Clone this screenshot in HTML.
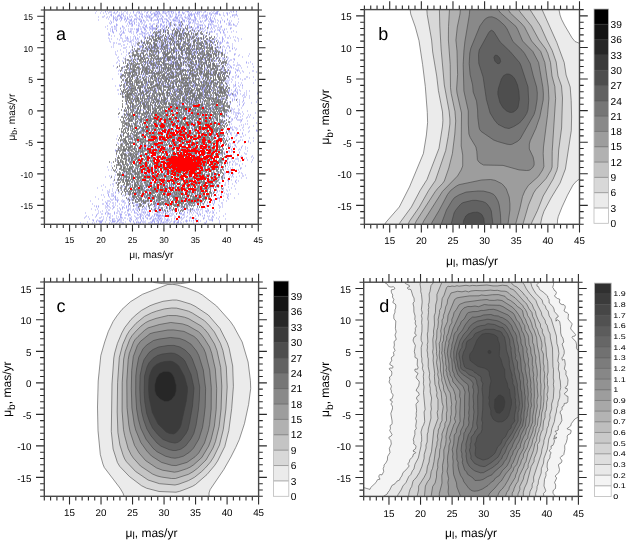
<!DOCTYPE html>
<html><head><meta charset="utf-8"><title>Proper motion distributions</title>
<style>html,body{margin:0;padding:0;background:#fff;}svg{display:block;}text{font-family:"Liberation Sans",Arial,sans-serif;fill:#000;text-rendering:geometricPrecision;}</style>
</head><body>
<svg width="626" height="541" viewBox="0 0 626 541">
<rect width="626" height="541" fill="#fff"/>
<filter id="soft" x="0" y="0" width="1" height="1"><feGaussianBlur stdDeviation="0.35"/></filter>
<g filter="url(#soft)">
<path d="M96 11h1m4 0h1m3 0h1m1 0h1m9 0h1m6 0h1m0 0h1m7 0h1m4 0h1m6 0h1m2 0h1m2 0h1m4 0h1m1 0h1m3 0h1m0 0h1m0 0h1m0 0h1m2 0h1m0 0h1m0 0h1m0 0h1m0 0h1m6 0h1m5 0h1m0 0h1m0 0h1m0 0h1m1 0h1m1 0h1m7 0h1m4 0h1m5 0h1m1 0h1m0 0h1m2 0h1m0 0h1m11 0h1m2 0h1m2 0h1m-132 1h1m3 0h1m0 0h1m0 0h1m2 0h1m2 0h1m3 0h1m5 0h1m5 0h1m3 0h1m1 0h1m1 0h1m2 0h1m2 0h1m2 0h1m4 0h1m0 0h1m0 0h1m0 0h1m0 0h1m3 0h1m3 0h1m0 0h1m2 0h1m1 0h1m1 0h1m2 0h1m0 0h1m2 0h1m4 0h1m0 0h1m6 0h1m1 0h1m0 0h1m0 0h1m1 0h1m2 0h1m0 0h1m10 0h1m0 0h1m13 0h1m1 0h1m2 0h1m-142 1h1m4 0h1m2 0h1m4 0h1m4 0h1m0 0h1m1 0h1m2 0h1m3 0h1m2 0h1m3 0h1m2 0h1m2 0h1m1 0h1m0 0h1m6 0h1m0 0h1m2 0h1m2 0h1m0 0h1m2 0h1m1 0h1m2 0h1m0 0h1m0 0h1m0 0h1m0 0h1m2 0h1m1 0h1m1 0h1m4 0h1m0 0h1m2 0h1m0 0h1m0 0h1m4 0h1m1 0h1m3 0h1m1 0h1m1 0h1m3 0h1m3 0h1m1 0h1m0 0h1m1 0h1m0 0h1m1 0h1m0 0h1m0 0h1m5 0h1m2 0h1m0 0h1m1 0h1m-124 1h1m4 0h1m3 0h1m5 0h1m0 0h1m4 0h1m12 0h1m0 0h1m0 0h1m8 0h1m0 0h1m1 0h1m0 0h1m0 0h1m0 0h1m0 0h1m0 0h1m0 0h1m4 0h1m2 0h1m3 0h1m2 0h1m0 0h1m6 0h1m4 0h1m1 0h1m0 0h1m1 0h1m0 0h1m1 0h1m0 0h1m0 0h1m10 0h1m1 0h1m2 0h1m0 0h1m0 0h1m0 0h1m1 0h1m7 0h1m8 0h1m-127 1h1m0 0h1m6 0h1m0 0h1m1 0h1m1 0h1m5 0h1m4 0h1m0 0h1m0 0h1m5 0h1m3 0h1m1 0h1m2 0h1m2 0h1m0 0h1m0 0h1m4 0h1m4 0h1m2 0h1m0 0h1m5 0h1m1 0h1m0 0h1m0 0h1m0 0h1m3 0h1m2 0h1m0 0h1m0 0h1m0 0h1m0 0h1m1 0h1m4 0h1m2 0h1m0 0h1m1 0h1m0 0h1m0 0h1m2 0h1m0 0h1m7 0h1m0 0h1m2 0h1m3 0h1m4 0h1m0 0h1m0 0h1m0 0h1m0 0h1m-133 1h1m6 0h1m1 0h1m3 0h1m0 0h1m0 0h1m0 0h1m2 0h1m1 0h1m5 0h1m3 0h1m3 0h1m1 0h1m2 0h1m1 0h1m0 0h1m1 0h1m0 0h1m3 0h1m0 0h1m1 0h1m0 0h1m1 0h1m1 0h1m3 0h1m0 0h1m2 0h1m1 0h1m2 0h1m2 0h1m2 0h1m6 0h1m0 0h1m1 0h1m2 0h1m2 0h1m3 0h1m0 0h1m1 0h1m0 0h1m0 0h1m6 0h1m1 0h1m8 0h1m7 0h1m4 0h1m-140 1h1m3 0h1m0 0h1m3 0h1m1 0h1m3 0h1m1 0h1m1 0h1m2 0h1m0 0h1m2 0h1m2 0h1m1 0h1m0 0h1m1 0h1m3 0h1m2 0h1m1 0h1m0 0h1m2 0h1m1 0h1m0 0h1m0 0h1m3 0h1m2 0h1m1 0h1m3 0h1m0 0h1m5 0h1m0 0h1m0 0h1m3 0h1m0 0h1m0 0h1m2 0h1m3 0h1m0 0h1m1 0h1m1 0h1m4 0h1m0 0h1m3 0h1m3 0h1m1 0h1m0 0h1m1 0h1m1 0h1m19 0h1m3 0h1m-129 1h1m6 0h1m0 0h1m1 0h1m3 0h1m0 0h1m0 0h1m2 0h1m1 0h1m9 0h1m4 0h1m3 0h1m2 0h1m0 0h1m0 0h1m0 0h1m4 0h1m3 0h1m6 0h1m5 0h1m0 0h1m0 0h1m0 0h1m1 0h1m1 0h1m0 0h1m2 0h1m0 0h1m1 0h1m1 0h1m3 0h1m0 0h1m4 0h1m1 0h1m1 0h1m1 0h1m3 0h1m1 0h1m1 0h1m6 0h1m-114 1h1m4 0h1m1 0h1m1 0h1m1 0h1m1 0h1m2 0h1m0 0h1m1 0h1m0 0h1m2 0h1m2 0h1m0 0h1m0 0h1m1 0h1m0 0h1m0 0h1m10 0h1m5 0h1m1 0h1m0 0h1m0 0h1m0 0h1m1 0h1m0 0h1m0 0h1m2 0h1m3 0h1m2 0h1m0 0h1m4 0h1m4 0h1m0 0h1m0 0h1m0 0h1m4 0h1m0 0h1m2 0h1m6 0h1m0 0h1m1 0h1m0 0h1m3 0h1m12 0h1m10 0h1m-141 1h1m14 0h1m1 0h1m0 0h1m0 0h1m3 0h1m2 0h1m1 0h1m2 0h1m0 0h1m0 0h1m2 0h1m1 0h1m2 0h1m1 0h1m1 0h1m2 0h1m0 0h1m2 0h1m0 0h1m2 0h1m0 0h1m0 0h1m0 0h1m0 0h1m3 0h1m3 0h1m0 0h1m2 0h1m1 0h1m0 0h1m0 0h1m0 0h1m2 0h1m0 0h1m2 0h1m0 0h1m0 0h1m4 0h1m1 0h1m0 0h1m0 0h1m0 0h1m0 0h1m9 0h1m0 0h1m3 0h1m0 0h1m3 0h1m1 0h1m4 0h1m4 0h1m-118 1h1m5 0h1m3 0h1m5 0h1m3 0h1m0 0h1m1 0h1m6 0h1m0 0h1m1 0h1m0 0h1m3 0h1m2 0h1m1 0h1m4 0h1m1 0h1m1 0h1m4 0h1m0 0h1m4 0h1m0 0h1m0 0h1m0 0h1m0 0h1m1 0h1m3 0h1m0 0h1m1 0h1m1 0h1m4 0h1m1 0h1m1 0h1m2 0h1m1 0h1m1 0h1m0 0h1m2 0h1m1 0h1m0 0h1m0 0h1m0 0h1m4 0h1m1 0h1m3 0h1m4 0h1m1 0h1m-121 1h1m1 0h1m11 0h1m2 0h1m0 0h1m2 0h1m1 0h1m1 0h1m3 0h1m0 0h1m3 0h1m12 0h1m3 0h1m0 0h1m0 0h1m1 0h1m1 0h1m2 0h1m6 0h1m0 0h1m0 0h1m0 0h1m0 0h1m1 0h1m3 0h1m0 0h1m0 0h1m2 0h1m0 0h1m3 0h1m1 0h1m0 0h1m7 0h1m1 0h1m0 0h1m0 0h1m1 0h1m4 0h1m3 0h1m13 0h1m-130 1h1m1 0h1m17 0h1m1 0h1m2 0h1m3 0h1m3 0h1m1 0h1m12 0h1m0 0h1m4 0h1m2 0h1m2 0h1m1 0h1m2 0h1m3 0h1m0 0h1m0 0h1m8 0h1m0 0h1m1 0h1m2 0h1m7 0h1m7 0h1m5 0h1m2 0h1m7 0h1m0 0h1m0 0h1m-121 1h1m5 0h1m10 0h1m1 0h1m0 0h1m0 0h1m0 0h1m1 0h1m4 0h1m1 0h1m7 0h1m0 0h1m2 0h1m0 0h1m1 0h1m3 0h1m0 0h1m6 0h1m0 0h1m3 0h1m1 0h1m4 0h1m0 0h1m0 0h1m5 0h1m0 0h1m4 0h1m1 0h1m0 0h1m0 0h1m9 0h1m0 0h1m0 0h1m1 0h1m13 0h1m2 0h1m3 0h1m3 0h1m-122 1h1m0 0h1m14 0h1m3 0h1m1 0h1m4 0h1m0 0h1m1 0h1m5 0h1m4 0h1m2 0h1m0 0h1m2 0h1m1 0h1m2 0h1m1 0h1m2 0h1m0 0h1m0 0h1m1 0h1m1 0h1m1 0h1m0 0h1m2 0h1m1 0h1m10 0h1m0 0h1m0 0h1m0 0h1m1 0h1m3 0h1m1 0h1m0 0h1m1 0h1m4 0h1m9 0h1m0 0h1m0 0h1m0 0h1m1 0h1m0 0h1m-128 1h1m6 0h1m1 0h1m5 0h1m3 0h1m1 0h1m2 0h1m0 0h1m5 0h1m0 0h1m5 0h1m0 0h1m3 0h1m0 0h1m0 0h1m5 0h1m1 0h1m1 0h1m0 0h1m0 0h1m2 0h1m1 0h1m0 0h1m1 0h1m2 0h1m3 0h1m0 0h1m0 0h1m3 0h1m3 0h1m4 0h1m2 0h1m0 0h1m1 0h1m1 0h1m2 0h1m2 0h1m5 0h1m0 0h1m0 0h1m4 0h1m13 0h1m0 0h1m-132 1h1m5 0h1m0 0h1m1 0h1m0 0h1m6 0h1m0 0h1m16 0h1m1 0h1m0 0h1m1 0h1m0 0h1m2 0h1m1 0h1m0 0h1m3 0h1m0 0h1m0 0h1m1 0h1m2 0h1m2 0h1m2 0h1m0 0h1m6 0h1m0 0h1m1 0h1m4 0h1m1 0h1m1 0h1m0 0h1m0 0h1m5 0h1m0 0h1m6 0h1m2 0h1m2 0h1m1 0h1m4 0h1m1 0h1m0 0h1m-106 1h1m3 0h1m3 0h1m13 0h1m4 0h1m0 0h1m2 0h1m1 0h1m0 0h1m1 0h1m0 0h1m0 0h1m0 0h1m1 0h1m4 0h1m1 0h1m0 0h1m0 0h1m6 0h1m0 0h1m1 0h1m1 0h1m0 0h1m1 0h1m0 0h1m2 0h1m2 0h1m0 0h1m0 0h1m1 0h1m0 0h1m1 0h1m0 0h1m0 0h1m0 0h1m3 0h1m1 0h1m3 0h1m2 0h1m2 0h1m2 0h1m1 0h1m10 0h1m0 0h1m-125 1h1m2 0h1m1 0h1m1 0h1m0 0h1m4 0h1m2 0h1m4 0h1m1 0h1m0 0h1m0 0h1m1 0h1m1 0h1m0 0h1m0 0h1m1 0h1m0 0h1m2 0h1m0 0h1m4 0h1m0 0h1m0 0h1m0 0h1m0 0h1m0 0h1m5 0h1m0 0h1m1 0h1m5 0h1m6 0h1m0 0h1m0 0h1m4 0h1m2 0h1m4 0h1m2 0h1m4 0h1m0 0h1m0 0h1m0 0h1m6 0h1m1 0h1m7 0h1m3 0h1m1 0h1m3 0h1m-119 1h1m3 0h1m8 0h1m10 0h1m0 0h1m0 0h1m5 0h1m0 0h1m3 0h1m2 0h1m2 0h1m2 0h1m0 0h1m3 0h1m0 0h1m0 0h1m0 0h1m4 0h1m1 0h1m0 0h1m3 0h1m1 0h1m1 0h1m1 0h1m6 0h1m1 0h1m0 0h1m2 0h1m1 0h1m0 0h1m4 0h1m1 0h1m7 0h1m1 0h1m0 0h1m0 0h1m2 0h1m1 0h1m-115 1h1m1 0h1m3 0h1m4 0h1m1 0h1m4 0h1m1 0h1m0 0h1m5 0h1m0 0h1m2 0h1m4 0h1m5 0h1m4 0h1m0 0h1m1 0h1m0 0h1m2 0h1m0 0h1m6 0h1m2 0h1m0 0h1m0 0h1m1 0h1m3 0h1m0 0h1m1 0h1m2 0h1m3 0h1m2 0h1m1 0h1m0 0h1m2 0h1m1 0h1m6 0h1m2 0h1m4 0h1m3 0h1m9 0h1m-122 1h1m0 0h1m6 0h1m2 0h1m5 0h1m0 0h1m2 0h1m2 0h1m0 0h1m3 0h1m0 0h1m2 0h1m4 0h1m4 0h1m2 0h1m0 0h1m3 0h1m0 0h1m2 0h1m0 0h1m5 0h1m0 0h1m2 0h1m1 0h1m1 0h1m0 0h1m5 0h1m1 0h1m2 0h1m0 0h1m7 0h1m3 0h1m1 0h1m0 0h1m0 0h1m0 0h1m1 0h1m5 0h1m2 0h1m3 0h1m3 0h1m4 0h1m-129 1h1m4 0h1m8 0h1m0 0h1m0 0h1m6 0h1m4 0h1m5 0h1m0 0h1m0 0h1m2 0h1m0 0h1m1 0h1m7 0h1m1 0h1m1 0h1m2 0h1m1 0h1m0 0h1m3 0h1m1 0h1m2 0h1m1 0h1m2 0h1m0 0h1m1 0h1m6 0h1m0 0h1m4 0h1m8 0h1m1 0h1m10 0h1m2 0h1m0 0h1m-116 1h1m9 0h1m1 0h1m11 0h1m5 0h1m0 0h1m0 0h1m2 0h1m0 0h1m0 0h1m5 0h1m1 0h1m0 0h1m3 0h1m8 0h1m1 0h1m0 0h1m0 0h1m0 0h1m3 0h1m1 0h1m0 0h1m0 0h1m0 0h1m0 0h1m0 0h1m0 0h1m10 0h1m3 0h1m0 0h1m0 0h1m13 0h1m0 0h1m-110 1h1m0 0h1m10 0h1m0 0h1m15 0h1m4 0h1m5 0h1m0 0h1m2 0h1m2 0h1m0 0h1m0 0h1m1 0h1m1 0h1m1 0h1m3 0h1m1 0h1m1 0h1m1 0h1m2 0h1m1 0h1m4 0h1m4 0h1m2 0h1m2 0h1m3 0h1m4 0h1m0 0h1m3 0h1m15 0h1m0 0h1m-115 1h1m2 0h1m5 0h1m4 0h1m8 0h1m7 0h1m1 0h1m0 0h1m3 0h1m0 0h1m0 0h1m0 0h1m0 0h1m1 0h1m1 0h1m0 0h1m0 0h1m0 0h1m2 0h1m1 0h1m2 0h1m0 0h1m1 0h1m0 0h1m0 0h1m2 0h1m0 0h1m0 0h1m0 0h1m0 0h1m0 0h1m0 0h1m0 0h1m2 0h1m3 0h1m1 0h1m2 0h1m0 0h1m0 0h1m7 0h1m0 0h1m4 0h1m5 0h1m11 0h1m-103 1h1m2 0h1m2 0h1m1 0h1m3 0h1m3 0h1m0 0h1m2 0h1m6 0h1m0 0h1m3 0h1m2 0h1m1 0h1m2 0h1m0 0h1m4 0h1m1 0h1m0 0h1m3 0h1m0 0h1m9 0h1m1 0h1m3 0h1m11 0h1m4 0h1m7 0h1m2 0h1m7 0h1m1 0h1m-128 1h1m11 0h1m0 0h1m3 0h1m0 0h1m0 0h1m7 0h1m1 0h1m6 0h1m3 0h1m2 0h1m0 0h1m6 0h1m1 0h1m0 0h1m1 0h1m1 0h1m0 0h1m2 0h1m0 0h1m1 0h1m0 0h1m1 0h1m1 0h1m1 0h1m0 0h1m4 0h1m3 0h1m0 0h1m4 0h1m2 0h1m3 0h1m0 0h1m4 0h1m6 0h1m2 0h1m2 0h1m4 0h1m0 0h1m1 0h1m6 0h1m-129 1h1m1 0h1m5 0h1m4 0h1m4 0h1m0 0h1m1 0h1m2 0h1m1 0h1m1 0h1m0 0h1m5 0h1m4 0h1m6 0h1m1 0h1m1 0h1m5 0h1m0 0h1m0 0h1m0 0h1m0 0h1m2 0h1m0 0h1m0 0h1m0 0h1m1 0h1m1 0h1m2 0h1m0 0h1m2 0h1m0 0h1m3 0h1m0 0h1m1 0h1m1 0h1m0 0h1m0 0h1m2 0h1m4 0h1m6 0h1m0 0h1m6 0h1m0 0h1m14 0h1m2 0h1m-123 1h1m6 0h1m5 0h1m3 0h1m4 0h1m2 0h1m1 0h1m2 0h1m1 0h1m1 0h1m0 0h1m1 0h1m2 0h1m0 0h1m2 0h1m3 0h1m2 0h1m0 0h1m8 0h1m1 0h1m6 0h1m0 0h1m5 0h1m3 0h1m2 0h1m2 0h1m0 0h1m0 0h1m2 0h1m0 0h1m1 0h1m2 0h1m4 0h1m11 0h1m-126 1h1m12 0h1m1 0h1m0 0h1m1 0h1m0 0h1m1 0h1m0 0h1m1 0h1m4 0h1m1 0h1m6 0h1m3 0h1m2 0h1m1 0h1m1 0h1m4 0h1m0 0h1m3 0h1m0 0h1m0 0h1m3 0h1m0 0h1m0 0h1m0 0h1m2 0h1m2 0h1m1 0h1m6 0h1m2 0h1m0 0h1m3 0h1m3 0h1m0 0h1m2 0h1m0 0h1m0 0h1m0 0h1m2 0h1m3 0h1m3 0h1m1 0h1m10 0h1m2 0h1m-129 1h1m12 0h1m5 0h1m0 0h1m4 0h1m1 0h1m4 0h1m4 0h1m5 0h1m1 0h1m1 0h1m1 0h1m0 0h1m4 0h1m0 0h1m1 0h1m1 0h1m1 0h1m1 0h1m0 0h1m1 0h1m0 0h1m0 0h1m0 0h1m3 0h1m0 0h1m5 0h1m1 0h1m0 0h1m9 0h1m0 0h1m1 0h1m1 0h1m2 0h1m0 0h1m4 0h1m1 0h1m1 0h1m4 0h1m-115 1h1m0 0h1m1 0h1m14 0h1m4 0h1m4 0h1m0 0h1m0 0h1m3 0h1m5 0h1m3 0h1m1 0h1m1 0h1m1 0h1m0 0h1m4 0h1m0 0h1m1 0h1m0 0h1m0 0h1m0 0h1m9 0h1m0 0h1m0 0h1m0 0h1m0 0h1m3 0h1m2 0h1m3 0h1m0 0h1m0 0h1m1 0h1m2 0h1m2 0h1m2 0h1m3 0h1m1 0h1m0 0h1m0 0h1m4 0h1m0 0h1m0 0h1m-111 1h1m0 0h1m0 0h1m6 0h1m5 0h1m1 0h1m7 0h1m0 0h1m0 0h1m1 0h1m2 0h1m2 0h1m2 0h1m1 0h1m1 0h1m2 0h1m1 0h1m1 0h1m2 0h1m2 0h1m2 0h1m0 0h1m1 0h1m2 0h1m0 0h1m0 0h1m3 0h1m2 0h1m1 0h1m3 0h1m2 0h1m0 0h1m1 0h1m9 0h1m3 0h1m2 0h1m11 0h1m-120 1h1m9 0h1m0 0h1m6 0h1m5 0h1m7 0h1m1 0h1m2 0h1m2 0h1m0 0h1m2 0h1m1 0h1m3 0h1m0 0h1m0 0h1m0 0h1m0 0h1m0 0h1m0 0h1m1 0h1m0 0h1m0 0h1m2 0h1m1 0h1m0 0h1m4 0h1m3 0h1m1 0h1m4 0h1m0 0h1m2 0h1m0 0h1m0 0h1m2 0h1m1 0h1m1 0h1m1 0h1m0 0h1m2 0h1m2 0h1m1 0h1m-99 1h1m10 0h1m1 0h1m0 0h1m3 0h1m0 0h1m0 0h1m0 0h1m0 0h1m4 0h1m3 0h1m1 0h1m0 0h1m1 0h1m1 0h1m0 0h1m2 0h1m2 0h1m0 0h1m0 0h1m5 0h1m4 0h1m0 0h1m2 0h1m4 0h1m1 0h1m0 0h1m0 0h1m0 0h1m4 0h1m3 0h1m1 0h1m5 0h1m12 0h1m3 0h1m0 0h1m3 0h1m-122 1h1m1 0h1m12 0h1m2 0h1m9 0h1m0 0h1m0 0h1m0 0h1m4 0h1m1 0h1m0 0h1m0 0h1m0 0h1m0 0h1m0 0h1m2 0h1m0 0h1m0 0h1m0 0h1m0 0h1m0 0h1m1 0h1m0 0h1m9 0h1m0 0h1m1 0h1m0 0h1m0 0h1m0 0h1m1 0h1m6 0h1m1 0h1m3 0h1m2 0h1m4 0h1m0 0h1m3 0h1m2 0h1m3 0h1m1 0h1m3 0h1m1 0h1m4 0h1m-107 1h1m0 0h1m0 0h1m6 0h1m4 0h1m2 0h1m4 0h1m2 0h1m2 0h1m0 0h1m0 0h1m0 0h1m0 0h1m0 0h1m0 0h1m4 0h1m0 0h1m3 0h1m0 0h1m0 0h1m3 0h1m1 0h1m2 0h1m0 0h1m0 0h1m6 0h1m1 0h1m0 0h1m0 0h1m5 0h1m2 0h1m0 0h1m3 0h1m0 0h1m7 0h1m1 0h1m1 0h1m0 0h1m0 0h1m5 0h1m2 0h1m2 0h1m1 0h1m-92 1h1m0 0h1m0 0h1m0 0h1m0 0h1m0 0h1m0 0h1m0 0h1m1 0h1m0 0h1m1 0h1m2 0h1m0 0h1m1 0h1m0 0h1m1 0h1m2 0h1m0 0h1m0 0h1m0 0h1m0 0h1m1 0h1m0 0h1m0 0h1m0 0h1m2 0h1m0 0h1m4 0h1m0 0h1m5 0h1m1 0h1m0 0h1m5 0h1m2 0h1m7 0h1m9 0h1m9 0h1m3 0h1m-117 1h1m5 0h1m4 0h1m4 0h1m4 0h1m6 0h1m2 0h1m2 0h1m0 0h1m5 0h1m4 0h1m4 0h1m1 0h1m1 0h1m0 0h1m0 0h1m0 0h1m1 0h1m0 0h1m0 0h1m0 0h1m0 0h1m1 0h1m1 0h1m0 0h1m0 0h1m1 0h1m0 0h1m1 0h1m0 0h1m1 0h1m0 0h1m1 0h1m0 0h1m1 0h1m10 0h1m0 0h1m1 0h1m3 0h1m2 0h1m9 0h1m-119 1h1m12 0h1m2 0h1m0 0h1m0 0h1m1 0h1m0 0h1m0 0h1m0 0h1m1 0h1m0 0h1m0 0h1m1 0h1m6 0h1m2 0h1m1 0h1m2 0h1m1 0h1m0 0h1m0 0h1m0 0h1m2 0h1m0 0h1m3 0h1m0 0h1m0 0h1m0 0h1m1 0h1m2 0h1m2 0h1m0 0h1m1 0h1m1 0h1m0 0h1m0 0h1m0 0h1m0 0h1m1 0h1m1 0h1m4 0h1m0 0h1m5 0h1m0 0h1m2 0h1m0 0h1m3 0h1m2 0h1m2 0h1m3 0h1m0 0h1m-116 1h1m7 0h1m2 0h1m3 0h1m1 0h1m11 0h1m8 0h1m0 0h1m1 0h1m0 0h1m0 0h1m0 0h1m0 0h1m4 0h1m2 0h1m5 0h1m0 0h1m0 0h1m1 0h1m3 0h1m0 0h1m0 0h1m0 0h1m3 0h1m1 0h1m2 0h1m0 0h1m0 0h1m0 0h1m2 0h1m0 0h1m0 0h1m1 0h1m5 0h1m3 0h1m0 0h1m0 0h1m0 0h1m2 0h1m1 0h1m-95 1h1m2 0h1m10 0h1m3 0h1m0 0h1m3 0h1m2 0h1m1 0h1m2 0h1m2 0h1m0 0h1m1 0h1m6 0h1m7 0h1m1 0h1m2 0h1m0 0h1m0 0h1m0 0h1m0 0h1m2 0h1m1 0h1m1 0h1m2 0h1m2 0h1m4 0h1m4 0h1m2 0h1m4 0h1m0 0h1m3 0h1m1 0h1m-113 1h1m5 0h1m6 0h1m4 0h1m5 0h1m2 0h1m7 0h1m5 0h1m6 0h1m0 0h1m1 0h1m5 0h1m3 0h1m0 0h1m0 0h1m2 0h1m3 0h1m0 0h1m1 0h1m3 0h1m2 0h1m0 0h1m1 0h1m2 0h1m0 0h1m1 0h1m1 0h1m3 0h1m0 0h1m6 0h1m0 0h1m4 0h1m9 0h1m0 0h1m13 0h1m-134 1h1m9 0h1m9 0h1m0 0h1m11 0h1m1 0h1m0 0h1m0 0h1m3 0h1m4 0h1m0 0h1m0 0h1m6 0h1m3 0h1m3 0h1m2 0h1m0 0h1m0 0h1m2 0h1m1 0h1m2 0h1m0 0h1m9 0h1m0 0h1m1 0h1m0 0h1m1 0h1m0 0h1m6 0h1m5 0h1m10 0h1m4 0h1m-110 1h1m0 0h1m9 0h1m1 0h1m3 0h1m0 0h1m4 0h1m3 0h1m5 0h1m0 0h1m2 0h1m5 0h1m0 0h1m1 0h1m2 0h1m0 0h1m1 0h1m3 0h1m4 0h1m3 0h1m1 0h1m2 0h1m0 0h1m4 0h1m0 0h1m2 0h1m0 0h1m1 0h1m24 0h1m9 0h1m-131 1h1m6 0h1m3 0h1m4 0h1m0 0h1m1 0h1m3 0h1m1 0h1m1 0h1m2 0h1m7 0h1m4 0h1m5 0h1m0 0h1m0 0h1m0 0h1m0 0h1m3 0h1m2 0h1m0 0h1m0 0h1m1 0h1m2 0h1m0 0h1m1 0h1m2 0h1m4 0h1m3 0h1m4 0h1m10 0h1m1 0h1m8 0h1m14 0h1m-126 1h1m5 0h1m7 0h1m0 0h1m5 0h1m3 0h1m1 0h1m4 0h1m3 0h1m0 0h1m0 0h1m3 0h1m1 0h1m0 0h1m1 0h1m0 0h1m0 0h1m1 0h1m2 0h1m1 0h1m1 0h1m1 0h1m0 0h1m2 0h1m1 0h1m0 0h1m4 0h1m0 0h1m2 0h1m0 0h1m3 0h1m0 0h1m0 0h1m5 0h1m1 0h1m2 0h1m1 0h1m2 0h1m0 0h1m1 0h1m0 0h1m1 0h1m0 0h1m0 0h1m3 0h1m-105 1h1m5 0h1m1 0h1m2 0h1m0 0h1m0 0h1m0 0h1m3 0h1m0 0h1m7 0h1m4 0h1m1 0h1m4 0h1m0 0h1m0 0h1m0 0h1m0 0h1m0 0h1m1 0h1m3 0h1m0 0h1m0 0h1m7 0h1m3 0h1m0 0h1m0 0h1m2 0h1m0 0h1m0 0h1m1 0h1m0 0h1m0 0h1m2 0h1m0 0h1m0 0h1m3 0h1m1 0h1m5 0h1m1 0h1m4 0h1m1 0h1m1 0h1m5 0h1m0 0h1m-117 1h1m7 0h1m12 0h1m3 0h1m1 0h1m2 0h1m4 0h1m0 0h1m2 0h1m0 0h1m0 0h1m0 0h1m0 0h1m1 0h1m0 0h1m1 0h1m0 0h1m0 0h1m0 0h1m1 0h1m1 0h1m0 0h1m0 0h1m2 0h1m0 0h1m0 0h1m5 0h1m0 0h1m2 0h1m8 0h1m0 0h1m0 0h1m1 0h1m0 0h1m5 0h1m2 0h1m1 0h1m6 0h1m4 0h1m2 0h1m0 0h1m2 0h1m-116 1h1m2 0h1m5 0h1m2 0h1m0 0h1m0 0h1m2 0h1m0 0h1m5 0h1m1 0h1m2 0h1m0 0h1m1 0h1m0 0h1m6 0h1m0 0h1m3 0h1m1 0h1m1 0h1m1 0h1m0 0h1m5 0h1m2 0h1m1 0h1m0 0h1m6 0h1m0 0h1m3 0h1m0 0h1m2 0h1m0 0h1m4 0h1m0 0h1m1 0h1m0 0h1m3 0h1m1 0h1m0 0h1m1 0h1m7 0h1m2 0h1m-113 1h1m5 0h1m1 0h1m6 0h1m4 0h1m6 0h1m0 0h1m0 0h1m0 0h1m2 0h1m0 0h1m0 0h1m2 0h1m3 0h1m4 0h1m3 0h1m2 0h1m2 0h1m1 0h1m2 0h1m4 0h1m0 0h1m1 0h1m1 0h1m0 0h1m1 0h1m2 0h1m0 0h1m1 0h1m0 0h1m1 0h1m2 0h1m0 0h1m4 0h1m8 0h1m0 0h1m2 0h1m0 0h1m3 0h1m4 0h1m12 0h1m3 0h1m-135 1h1m11 0h1m4 0h1m9 0h1m1 0h1m0 0h1m1 0h1m0 0h1m5 0h1m3 0h1m2 0h1m0 0h1m0 0h1m0 0h1m3 0h1m0 0h1m0 0h1m2 0h1m0 0h1m0 0h1m0 0h1m0 0h1m1 0h1m0 0h1m0 0h1m0 0h1m0 0h1m0 0h1m3 0h1m0 0h1m0 0h1m0 0h1m2 0h1m2 0h1m2 0h1m1 0h1m0 0h1m0 0h1m6 0h1m24 0h1m8 0h1m1 0h1m-130 1h1m7 0h1m1 0h1m1 0h1m2 0h1m8 0h1m1 0h1m1 0h1m0 0h1m1 0h1m1 0h1m0 0h1m0 0h1m0 0h1m0 0h1m2 0h1m3 0h1m0 0h1m1 0h1m1 0h1m1 0h1m0 0h1m0 0h1m0 0h1m0 0h1m0 0h1m0 0h1m0 0h1m0 0h1m2 0h1m1 0h1m2 0h1m1 0h1m1 0h1m0 0h1m1 0h1m0 0h1m0 0h1m0 0h1m1 0h1m3 0h1m2 0h1m0 0h1m5 0h1m1 0h1m2 0h1m0 0h1m4 0h1m0 0h1m2 0h1m0 0h1m23 0h1m-123 1h1m0 0h1m6 0h1m2 0h1m5 0h1m2 0h1m0 0h1m1 0h1m2 0h1m1 0h1m2 0h1m0 0h1m1 0h1m4 0h1m0 0h1m1 0h1m0 0h1m1 0h1m2 0h1m2 0h1m0 0h1m5 0h1m2 0h1m1 0h1m2 0h1m0 0h1m0 0h1m0 0h1m1 0h1m4 0h1m0 0h1m0 0h1m0 0h1m10 0h1m6 0h1m1 0h1m3 0h1m0 0h1m2 0h1m0 0h1m0 0h1m18 0h1m-146 1h1m11 0h1m3 0h1m0 0h1m2 0h1m5 0h1m3 0h1m1 0h1m1 0h1m0 0h1m0 0h1m0 0h1m3 0h1m1 0h1m0 0h1m0 0h1m1 0h1m3 0h1m10 0h1m0 0h1m0 0h1m0 0h1m8 0h1m0 0h1m0 0h1m2 0h1m1 0h1m2 0h1m0 0h1m1 0h1m5 0h1m1 0h1m5 0h1m2 0h1m4 0h1m0 0h1m2 0h1m3 0h1m5 0h1m3 0h1m-124 1h1m4 0h1m0 0h1m2 0h1m6 0h1m0 0h1m0 0h1m3 0h1m12 0h1m0 0h1m2 0h1m1 0h1m0 0h1m0 0h1m0 0h1m2 0h1m0 0h1m0 0h1m4 0h1m1 0h1m1 0h1m0 0h1m0 0h1m0 0h1m0 0h1m0 0h1m4 0h1m2 0h1m0 0h1m1 0h1m1 0h1m1 0h1m0 0h1m2 0h1m2 0h1m1 0h1m3 0h1m1 0h1m1 0h1m2 0h1m0 0h1m1 0h1m2 0h1m1 0h1m4 0h1m1 0h1m0 0h1m15 0h1m5 0h1m-138 1h1m12 0h1m8 0h1m2 0h1m0 0h1m0 0h1m0 0h1m2 0h1m0 0h1m0 0h1m0 0h1m0 0h1m0 0h1m0 0h1m0 0h1m0 0h1m0 0h1m2 0h1m1 0h1m2 0h1m2 0h1m7 0h1m0 0h1m2 0h1m0 0h1m0 0h1m1 0h1m2 0h1m4 0h1m3 0h1m0 0h1m0 0h1m2 0h1m4 0h1m0 0h1m2 0h1m6 0h1m3 0h1m1 0h1m0 0h1m3 0h1m1 0h1m1 0h1m1 0h1m4 0h1m2 0h1m-120 1h1m6 0h1m1 0h1m1 0h1m0 0h1m12 0h1m0 0h1m3 0h1m5 0h1m0 0h1m1 0h1m0 0h1m0 0h1m1 0h1m1 0h1m1 0h1m0 0h1m1 0h1m1 0h1m1 0h1m0 0h1m1 0h1m0 0h1m0 0h1m1 0h1m4 0h1m0 0h1m2 0h1m0 0h1m0 0h1m0 0h1m0 0h1m0 0h1m2 0h1m3 0h1m0 0h1m1 0h1m2 0h1m6 0h1m3 0h1m0 0h1m12 0h1m-117 1h1m4 0h1m3 0h1m2 0h1m1 0h1m0 0h1m2 0h1m5 0h1m1 0h1m0 0h1m2 0h1m5 0h1m1 0h1m2 0h1m0 0h1m1 0h1m2 0h1m0 0h1m8 0h1m1 0h1m0 0h1m1 0h1m0 0h1m1 0h1m0 0h1m2 0h1m0 0h1m6 0h1m1 0h1m3 0h1m2 0h1m0 0h1m1 0h1m2 0h1m2 0h1m0 0h1m1 0h1m0 0h1m1 0h1m2 0h1m0 0h1m2 0h1m8 0h1m0 0h1m0 0h1m-121 1h1m1 0h1m1 0h1m7 0h1m1 0h1m1 0h1m4 0h1m1 0h1m2 0h1m2 0h1m0 0h1m6 0h1m2 0h1m0 0h1m2 0h1m0 0h1m0 0h1m5 0h1m0 0h1m0 0h1m0 0h1m1 0h1m4 0h1m3 0h1m2 0h1m0 0h1m3 0h1m6 0h1m0 0h1m0 0h1m1 0h1m4 0h1m0 0h1m1 0h1m1 0h1m2 0h1m4 0h1m1 0h1m1 0h1m1 0h1m1 0h1m0 0h1m6 0h1m1 0h1m2 0h1m9 0h1m0 0h1m-124 1h1m1 0h1m1 0h1m1 0h1m2 0h1m1 0h1m1 0h1m0 0h1m3 0h1m0 0h1m3 0h1m0 0h1m1 0h1m0 0h1m0 0h1m6 0h1m0 0h1m4 0h1m0 0h1m1 0h1m2 0h1m4 0h1m4 0h1m0 0h1m1 0h1m0 0h1m1 0h1m0 0h1m8 0h1m3 0h1m1 0h1m0 0h1m1 0h1m1 0h1m0 0h1m6 0h1m1 0h1m1 0h1m0 0h1m2 0h1m4 0h1m7 0h1m12 0h1m1 0h1m-131 1h1m0 0h1m7 0h1m1 0h1m4 0h1m0 0h1m0 0h1m0 0h1m0 0h1m3 0h1m0 0h1m0 0h1m1 0h1m0 0h1m1 0h1m1 0h1m0 0h1m3 0h1m1 0h1m1 0h1m0 0h1m3 0h1m5 0h1m3 0h1m1 0h1m2 0h1m0 0h1m1 0h1m1 0h1m0 0h1m0 0h1m0 0h1m3 0h1m3 0h1m3 0h1m0 0h1m2 0h1m1 0h1m2 0h1m1 0h1m2 0h1m0 0h1m4 0h1m4 0h1m4 0h1m8 0h1m-132 1h1m1 0h1m0 0h1m10 0h1m0 0h1m0 0h1m8 0h1m3 0h1m0 0h1m2 0h1m0 0h1m0 0h1m1 0h1m8 0h1m1 0h1m1 0h1m2 0h1m3 0h1m2 0h1m0 0h1m0 0h1m0 0h1m0 0h1m0 0h1m5 0h1m0 0h1m0 0h1m2 0h1m5 0h1m1 0h1m8 0h1m0 0h1m3 0h1m2 0h1m2 0h1m0 0h1m0 0h1m0 0h1m-105 1h1m3 0h1m3 0h1m3 0h1m2 0h1m3 0h1m1 0h1m0 0h1m0 0h1m7 0h1m10 0h1m5 0h1m1 0h1m2 0h1m0 0h1m2 0h1m0 0h1m1 0h1m2 0h1m0 0h1m2 0h1m0 0h1m0 0h1m2 0h1m2 0h1m3 0h1m3 0h1m0 0h1m1 0h1m3 0h1m0 0h1m4 0h1m0 0h1m0 0h1m0 0h1m8 0h1m6 0h1m-117 1h1m2 0h1m4 0h1m1 0h1m0 0h1m2 0h1m2 0h1m0 0h1m3 0h1m2 0h1m2 0h1m0 0h1m0 0h1m3 0h1m0 0h1m6 0h1m0 0h1m2 0h1m0 0h1m0 0h1m1 0h1m2 0h1m6 0h1m0 0h1m6 0h1m0 0h1m2 0h1m0 0h1m4 0h1m1 0h1m0 0h1m6 0h1m1 0h1m1 0h1m14 0h1m0 0h1m6 0h1m2 0h1m-111 1h1m7 0h1m3 0h1m1 0h1m2 0h1m1 0h1m4 0h1m1 0h1m0 0h1m2 0h1m0 0h1m1 0h1m1 0h1m0 0h1m0 0h1m3 0h1m1 0h1m6 0h1m2 0h1m11 0h1m0 0h1m0 0h1m0 0h1m4 0h1m0 0h1m2 0h1m1 0h1m1 0h1m0 0h1m4 0h1m2 0h1m5 0h1m3 0h1m3 0h1m0 0h1m3 0h1m0 0h1m7 0h1m0 0h1m5 0h1m-134 1h1m3 0h1m9 0h1m0 0h1m0 0h1m13 0h1m0 0h1m5 0h1m4 0h1m2 0h1m2 0h1m1 0h1m1 0h1m0 0h1m2 0h1m2 0h1m6 0h1m2 0h1m1 0h1m3 0h1m2 0h1m2 0h1m1 0h1m2 0h1m8 0h1m7 0h1m2 0h1m1 0h1m0 0h1m5 0h1m13 0h1m-138 1h1m10 0h1m2 0h1m10 0h1m1 0h1m0 0h1m0 0h1m2 0h1m4 0h1m2 0h1m0 0h1m2 0h1m0 0h1m0 0h1m0 0h1m1 0h1m3 0h1m0 0h1m0 0h1m0 0h1m0 0h1m2 0h1m2 0h1m1 0h1m3 0h1m6 0h1m10 0h1m0 0h1m4 0h1m7 0h1m4 0h1m12 0h1m8 0h1m3 0h1m0 0h1m-120 1h1m2 0h1m5 0h1m7 0h1m6 0h1m6 0h1m3 0h1m2 0h1m0 0h1m2 0h1m2 0h1m1 0h1m0 0h1m4 0h1m0 0h1m3 0h1m3 0h1m1 0h1m1 0h1m3 0h1m6 0h1m0 0h1m0 0h1m0 0h1m3 0h1m11 0h1m4 0h1m1 0h1m2 0h1m9 0h1m12 0h1m-133 1h1m6 0h1m0 0h1m10 0h1m1 0h1m1 0h1m2 0h1m7 0h1m4 0h1m1 0h1m0 0h1m4 0h1m2 0h1m0 0h1m3 0h1m1 0h1m1 0h1m1 0h1m0 0h1m2 0h1m4 0h1m5 0h1m0 0h1m3 0h1m3 0h1m1 0h1m6 0h1m4 0h1m1 0h1m0 0h1m0 0h1m1 0h1m-104 1h1m4 0h1m14 0h1m1 0h1m1 0h1m2 0h1m2 0h1m2 0h1m0 0h1m0 0h1m0 0h1m6 0h1m1 0h1m4 0h1m1 0h1m1 0h1m2 0h1m7 0h1m2 0h1m0 0h1m0 0h1m5 0h1m0 0h1m0 0h1m1 0h1m1 0h1m1 0h1m0 0h1m4 0h1m1 0h1m0 0h1m8 0h1m3 0h1m3 0h1m-112 1h1m0 0h1m2 0h1m10 0h1m1 0h1m0 0h1m4 0h1m1 0h1m1 0h1m5 0h1m0 0h1m1 0h1m1 0h1m1 0h1m0 0h1m1 0h1m4 0h1m0 0h1m0 0h1m0 0h1m3 0h1m1 0h1m2 0h1m1 0h1m0 0h1m0 0h1m3 0h1m0 0h1m1 0h1m6 0h1m0 0h1m1 0h1m0 0h1m2 0h1m0 0h1m1 0h1m0 0h1m2 0h1m0 0h1m4 0h1m3 0h1m1 0h1m9 0h1m2 0h1m11 0h1m-125 1h1m0 0h1m0 0h1m1 0h1m8 0h1m0 0h1m2 0h1m0 0h1m2 0h1m0 0h1m1 0h1m1 0h1m2 0h1m0 0h1m1 0h1m1 0h1m1 0h1m1 0h1m1 0h1m2 0h1m2 0h1m0 0h1m1 0h1m3 0h1m1 0h1m0 0h1m0 0h1m0 0h1m1 0h1m4 0h1m0 0h1m0 0h1m2 0h1m3 0h1m2 0h1m1 0h1m0 0h1m0 0h1m0 0h1m4 0h1m0 0h1m3 0h1m0 0h1m3 0h1m0 0h1m7 0h1m-117 1h1m6 0h1m3 0h1m6 0h1m0 0h1m7 0h1m4 0h1m0 0h1m3 0h1m1 0h1m0 0h1m2 0h1m0 0h1m1 0h1m0 0h1m1 0h1m0 0h1m2 0h1m10 0h1m5 0h1m2 0h1m0 0h1m0 0h1m2 0h1m0 0h1m4 0h1m1 0h1m7 0h1m7 0h1m4 0h1m2 0h1m3 0h1m1 0h1m4 0h1m1 0h1m-128 1h1m3 0h1m3 0h1m1 0h1m3 0h1m10 0h1m1 0h1m0 0h1m0 0h1m1 0h1m15 0h1m0 0h1m1 0h1m1 0h1m1 0h1m0 0h1m0 0h1m3 0h1m0 0h1m1 0h1m1 0h1m1 0h1m2 0h1m1 0h1m4 0h1m0 0h1m0 0h1m0 0h1m0 0h1m4 0h1m0 0h1m2 0h1m0 0h1m1 0h1m1 0h1m0 0h1m1 0h1m2 0h1m7 0h1m9 0h1m0 0h1m2 0h1m3 0h1m-118 1h1m2 0h1m1 0h1m0 0h1m9 0h1m0 0h1m0 0h1m0 0h1m2 0h1m3 0h1m1 0h1m5 0h1m0 0h1m6 0h1m0 0h1m1 0h1m2 0h1m3 0h1m0 0h1m1 0h1m0 0h1m1 0h1m4 0h1m0 0h1m0 0h1m2 0h1m0 0h1m5 0h1m0 0h1m2 0h1m3 0h1m0 0h1m1 0h1m1 0h1m3 0h1m7 0h1m0 0h1m6 0h1m5 0h1m-112 1h1m1 0h1m3 0h1m2 0h1m1 0h1m2 0h1m1 0h1m0 0h1m1 0h1m2 0h1m4 0h1m0 0h1m0 0h1m5 0h1m2 0h1m0 0h1m0 0h1m3 0h1m1 0h1m5 0h1m0 0h1m0 0h1m3 0h1m1 0h1m1 0h1m4 0h1m4 0h1m0 0h1m1 0h1m0 0h1m0 0h1m1 0h1m2 0h1m6 0h1m0 0h1m0 0h1m0 0h1m4 0h1m0 0h1m9 0h1m5 0h1m-117 1h1m3 0h1m3 0h1m9 0h1m1 0h1m2 0h1m3 0h1m0 0h1m0 0h1m2 0h1m1 0h1m7 0h1m0 0h1m1 0h1m0 0h1m2 0h1m0 0h1m0 0h1m1 0h1m1 0h1m2 0h1m0 0h1m2 0h1m0 0h1m0 0h1m5 0h1m0 0h1m0 0h1m1 0h1m0 0h1m1 0h1m0 0h1m0 0h1m1 0h1m0 0h1m6 0h1m5 0h1m0 0h1m4 0h1m1 0h1m5 0h1m-119 1h1m0 0h1m8 0h1m8 0h1m0 0h1m5 0h1m2 0h1m0 0h1m8 0h1m0 0h1m5 0h1m5 0h1m3 0h1m1 0h1m0 0h1m0 0h1m0 0h1m2 0h1m2 0h1m1 0h1m1 0h1m7 0h1m5 0h1m0 0h1m4 0h1m0 0h1m1 0h1m0 0h1m3 0h1m4 0h1m0 0h1m6 0h1m1 0h1m3 0h1m1 0h1m1 0h1m-117 1h1m4 0h1m1 0h1m2 0h1m3 0h1m1 0h1m0 0h1m1 0h1m1 0h1m1 0h1m0 0h1m2 0h1m1 0h1m0 0h1m2 0h1m5 0h1m7 0h1m3 0h1m0 0h1m0 0h1m0 0h1m0 0h1m3 0h1m2 0h1m1 0h1m0 0h1m0 0h1m0 0h1m0 0h1m0 0h1m1 0h1m2 0h1m1 0h1m2 0h1m0 0h1m1 0h1m5 0h1m0 0h1m0 0h1m3 0h1m3 0h1m6 0h1m0 0h1m4 0h1m0 0h1m4 0h1m5 0h1m2 0h1m-129 1h1m3 0h1m2 0h1m2 0h1m9 0h1m2 0h1m0 0h1m0 0h1m3 0h1m2 0h1m2 0h1m5 0h1m6 0h1m0 0h1m1 0h1m0 0h1m0 0h1m0 0h1m2 0h1m0 0h1m0 0h1m7 0h1m0 0h1m1 0h1m5 0h1m2 0h1m2 0h1m0 0h1m2 0h1m0 0h1m1 0h1m7 0h1m1 0h1m2 0h1m0 0h1m1 0h1m1 0h1m4 0h1m2 0h1m0 0h1m-103 1h1m0 0h1m2 0h1m1 0h1m1 0h1m5 0h1m2 0h1m1 0h1m0 0h1m3 0h1m5 0h1m2 0h1m0 0h1m0 0h1m3 0h1m1 0h1m6 0h1m3 0h1m0 0h1m1 0h1m0 0h1m0 0h1m0 0h1m2 0h1m2 0h1m3 0h1m2 0h1m0 0h1m6 0h1m1 0h1m1 0h1m0 0h1m8 0h1m2 0h1m5 0h1m6 0h1m1 0h1m10 0h1m-140 1h1m2 0h1m1 0h1m5 0h1m2 0h1m2 0h1m1 0h1m3 0h1m1 0h1m1 0h1m0 0h1m1 0h1m3 0h1m0 0h1m8 0h1m6 0h1m0 0h1m0 0h1m4 0h1m3 0h1m0 0h1m2 0h1m0 0h1m0 0h1m0 0h1m0 0h1m3 0h1m0 0h1m0 0h1m5 0h1m2 0h1m3 0h1m7 0h1m6 0h1m2 0h1m0 0h1m1 0h1m1 0h1m0 0h1m1 0h1m1 0h1m1 0h1m2 0h1m16 0h1m-126 1h1m6 0h1m1 0h1m0 0h1m10 0h1m2 0h1m0 0h1m0 0h1m5 0h1m3 0h1m3 0h1m2 0h1m0 0h1m0 0h1m1 0h1m1 0h1m0 0h1m2 0h1m0 0h1m1 0h1m1 0h1m4 0h1m0 0h1m2 0h1m0 0h1m0 0h1m0 0h1m0 0h1m1 0h1m0 0h1m0 0h1m0 0h1m0 0h1m3 0h1m3 0h1m0 0h1m8 0h1m0 0h1m0 0h1m0 0h1m1 0h1m0 0h1m0 0h1m0 0h1m7 0h1m0 0h1m1 0h1m-119 1h1m4 0h1m2 0h1m3 0h1m1 0h1m5 0h1m1 0h1m1 0h1m1 0h1m9 0h1m4 0h1m1 0h1m0 0h1m5 0h1m1 0h1m1 0h1m2 0h1m0 0h1m8 0h1m2 0h1m2 0h1m0 0h1m1 0h1m0 0h1m3 0h1m2 0h1m8 0h1m5 0h1m1 0h1m3 0h1m1 0h1m0 0h1m5 0h1m6 0h1m-126 1h1m4 0h1m3 0h1m0 0h1m0 0h1m1 0h1m4 0h1m5 0h1m10 0h1m2 0h1m0 0h1m0 0h1m1 0h1m0 0h1m3 0h1m2 0h1m2 0h1m0 0h1m0 0h1m3 0h1m0 0h1m0 0h1m0 0h1m2 0h1m3 0h1m0 0h1m4 0h1m0 0h1m3 0h1m0 0h1m1 0h1m0 0h1m2 0h1m5 0h1m4 0h1m0 0h1m2 0h1m0 0h1m6 0h1m9 0h1m0 0h1m-121 1h1m1 0h1m6 0h1m3 0h1m3 0h1m5 0h1m0 0h1m0 0h1m0 0h1m6 0h1m0 0h1m1 0h1m5 0h1m2 0h1m2 0h1m0 0h1m0 0h1m1 0h1m0 0h1m1 0h1m2 0h1m0 0h1m0 0h1m4 0h1m2 0h1m0 0h1m1 0h1m0 0h1m0 0h1m0 0h1m0 0h1m1 0h1m0 0h1m0 0h1m5 0h1m4 0h1m1 0h1m3 0h1m2 0h1m0 0h1m0 0h1m3 0h1m12 0h1m5 0h1m-116 1h1m2 0h1m1 0h1m2 0h1m1 0h1m2 0h1m0 0h1m3 0h1m0 0h1m0 0h1m0 0h1m0 0h1m0 0h1m1 0h1m7 0h1m5 0h1m1 0h1m2 0h1m0 0h1m4 0h1m0 0h1m1 0h1m0 0h1m1 0h1m0 0h1m0 0h1m4 0h1m0 0h1m0 0h1m0 0h1m2 0h1m5 0h1m0 0h1m4 0h1m0 0h1m0 0h1m2 0h1m0 0h1m1 0h1m0 0h1m7 0h1m1 0h1m2 0h1m-108 1h1m3 0h1m0 0h1m11 0h1m0 0h1m5 0h1m1 0h1m1 0h1m0 0h1m2 0h1m0 0h1m1 0h1m1 0h1m2 0h1m1 0h1m2 0h1m4 0h1m3 0h1m4 0h1m0 0h1m0 0h1m1 0h1m1 0h1m0 0h1m22 0h1m1 0h1m10 0h1m1 0h1m1 0h1m2 0h1m3 0h1m13 0h1m-131 1h1m4 0h1m10 0h1m0 0h1m0 0h1m5 0h1m6 0h1m1 0h1m2 0h1m0 0h1m0 0h1m0 0h1m1 0h1m0 0h1m2 0h1m0 0h1m0 0h1m3 0h1m3 0h1m0 0h1m1 0h1m0 0h1m1 0h1m0 0h1m3 0h1m0 0h1m0 0h1m0 0h1m1 0h1m0 0h1m2 0h1m0 0h1m0 0h1m6 0h1m0 0h1m1 0h1m2 0h1m0 0h1m3 0h1m4 0h1m4 0h1m10 0h1m-112 1h1m3 0h1m4 0h1m6 0h1m1 0h1m3 0h1m0 0h1m7 0h1m1 0h1m7 0h1m0 0h1m1 0h1m0 0h1m0 0h1m3 0h1m0 0h1m0 0h1m1 0h1m0 0h1m0 0h1m1 0h1m0 0h1m0 0h1m0 0h1m0 0h1m0 0h1m1 0h1m0 0h1m1 0h1m0 0h1m10 0h1m0 0h1m0 0h1m0 0h1m2 0h1m2 0h1m3 0h1m3 0h1m7 0h1m1 0h1m2 0h1m13 0h1m-130 1h1m13 0h1m1 0h1m0 0h1m1 0h1m0 0h1m2 0h1m4 0h1m3 0h1m3 0h1m1 0h1m5 0h1m1 0h1m1 0h1m0 0h1m0 0h1m1 0h1m0 0h1m2 0h1m1 0h1m3 0h1m0 0h1m0 0h1m0 0h1m1 0h1m3 0h1m0 0h1m4 0h1m5 0h1m5 0h1m3 0h1m0 0h1m4 0h1m0 0h1m2 0h1m13 0h1m6 0h1m-127 1h1m9 0h1m2 0h1m0 0h1m2 0h1m0 0h1m1 0h1m0 0h1m7 0h1m2 0h1m1 0h1m2 0h1m1 0h1m0 0h1m5 0h1m0 0h1m2 0h1m1 0h1m0 0h1m1 0h1m0 0h1m0 0h1m1 0h1m2 0h1m0 0h1m0 0h1m3 0h1m1 0h1m7 0h1m3 0h1m0 0h1m2 0h1m0 0h1m0 0h1m0 0h1m0 0h1m3 0h1m10 0h1m8 0h1m3 0h1m-101 1h1m1 0h1m4 0h1m1 0h1m5 0h1m9 0h1m1 0h1m0 0h1m3 0h1m0 0h1m0 0h1m0 0h1m0 0h1m0 0h1m1 0h1m0 0h1m2 0h1m2 0h1m0 0h1m0 0h1m1 0h1m0 0h1m0 0h1m0 0h1m5 0h1m0 0h1m4 0h1m6 0h1m6 0h1m6 0h1m9 0h1m3 0h1m-113 1h1m1 0h1m1 0h1m1 0h1m1 0h1m4 0h1m0 0h1m1 0h1m6 0h1m4 0h1m6 0h1m4 0h1m0 0h1m0 0h1m0 0h1m1 0h1m3 0h1m0 0h1m0 0h1m1 0h1m4 0h1m0 0h1m0 0h1m0 0h1m1 0h1m3 0h1m0 0h1m0 0h1m1 0h1m2 0h1m0 0h1m1 0h1m5 0h1m3 0h1m2 0h1m0 0h1m6 0h1m7 0h1m4 0h1m-113 1h1m0 0h1m1 0h1m4 0h1m9 0h1m1 0h1m3 0h1m11 0h1m1 0h1m1 0h1m0 0h1m3 0h1m0 0h1m1 0h1m1 0h1m1 0h1m0 0h1m0 0h1m1 0h1m3 0h1m5 0h1m0 0h1m0 0h1m0 0h1m0 0h1m3 0h1m0 0h1m0 0h1m4 0h1m0 0h1m0 0h1m5 0h1m1 0h1m0 0h1m4 0h1m-100 1h1m1 0h1m7 0h1m4 0h1m2 0h1m0 0h1m2 0h1m2 0h1m1 0h1m1 0h1m6 0h1m5 0h1m0 0h1m2 0h1m0 0h1m5 0h1m6 0h1m0 0h1m3 0h1m0 0h1m0 0h1m0 0h1m3 0h1m0 0h1m0 0h1m1 0h1m3 0h1m1 0h1m0 0h1m1 0h1m0 0h1m1 0h1m2 0h1m1 0h1m9 0h1m9 0h1m-124 1h1m6 0h1m6 0h1m2 0h1m0 0h1m1 0h1m9 0h1m4 0h1m5 0h1m0 0h1m0 0h1m5 0h1m0 0h1m1 0h1m0 0h1m1 0h1m5 0h1m2 0h1m1 0h1m0 0h1m1 0h1m0 0h1m3 0h1m0 0h1m0 0h1m1 0h1m4 0h1m6 0h1m1 0h1m0 0h1m1 0h1m2 0h1m0 0h1m1 0h1m8 0h1m3 0h1m1 0h1m3 0h1m-106 1h1m0 0h1m4 0h1m1 0h1m0 0h1m0 0h1m12 0h1m3 0h1m1 0h1m5 0h1m1 0h1m0 0h1m1 0h1m1 0h1m1 0h1m1 0h1m1 0h1m2 0h1m1 0h1m0 0h1m1 0h1m1 0h1m1 0h1m8 0h1m2 0h1m2 0h1m4 0h1m2 0h1m4 0h1m2 0h1m1 0h1m3 0h1m0 0h1m1 0h1m5 0h1m-117 1h1m6 0h1m0 0h1m2 0h1m10 0h1m2 0h1m3 0h1m5 0h1m4 0h1m0 0h1m3 0h1m0 0h1m3 0h1m1 0h1m3 0h1m4 0h1m0 0h1m0 0h1m0 0h1m4 0h1m1 0h1m5 0h1m1 0h1m0 0h1m0 0h1m0 0h1m2 0h1m0 0h1m0 0h1m1 0h1m3 0h1m2 0h1m0 0h1m5 0h1m0 0h1m3 0h1m6 0h1m8 0h1m-121 1h1m0 0h1m3 0h1m2 0h1m1 0h1m7 0h1m2 0h1m1 0h1m1 0h1m0 0h1m1 0h1m1 0h1m4 0h1m7 0h1m4 0h1m0 0h1m0 0h1m0 0h1m1 0h1m1 0h1m1 0h1m1 0h1m3 0h1m1 0h1m1 0h1m1 0h1m1 0h1m1 0h1m0 0h1m1 0h1m0 0h1m0 0h1m0 0h1m0 0h1m2 0h1m7 0h1m2 0h1m1 0h1m1 0h1m3 0h1m3 0h1m0 0h1m7 0h1m-117 1h1m10 0h1m0 0h1m4 0h1m1 0h1m1 0h1m0 0h1m0 0h1m0 0h1m6 0h1m4 0h1m0 0h1m0 0h1m1 0h1m2 0h1m0 0h1m6 0h1m1 0h1m3 0h1m2 0h1m0 0h1m1 0h1m5 0h1m1 0h1m1 0h1m1 0h1m1 0h1m2 0h1m6 0h1m5 0h1m0 0h1m3 0h1m2 0h1m3 0h1m3 0h1m0 0h1m0 0h1m0 0h1m0 0h1m15 0h1m-133 1h1m2 0h1m11 0h1m3 0h1m2 0h1m4 0h1m0 0h1m3 0h1m2 0h1m6 0h1m0 0h1m7 0h1m4 0h1m3 0h1m1 0h1m0 0h1m0 0h1m0 0h1m0 0h1m0 0h1m2 0h1m0 0h1m0 0h1m3 0h1m2 0h1m0 0h1m3 0h1m1 0h1m1 0h1m1 0h1m0 0h1m3 0h1m6 0h1m0 0h1m6 0h1m4 0h1m1 0h1m2 0h1m-118 1h1m1 0h1m8 0h1m10 0h1m0 0h1m4 0h1m5 0h1m2 0h1m3 0h1m9 0h1m3 0h1m0 0h1m0 0h1m1 0h1m3 0h1m1 0h1m2 0h1m1 0h1m1 0h1m1 0h1m0 0h1m2 0h1m0 0h1m3 0h1m1 0h1m3 0h1m8 0h1m1 0h1m8 0h1m0 0h1m11 0h1m1 0h1m-129 1h1m4 0h1m8 0h1m1 0h1m0 0h1m5 0h1m1 0h1m2 0h1m8 0h1m6 0h1m0 0h1m1 0h1m11 0h1m6 0h1m0 0h1m1 0h1m1 0h1m1 0h1m0 0h1m0 0h1m6 0h1m1 0h1m1 0h1m0 0h1m3 0h1m1 0h1m3 0h1m4 0h1m1 0h1m0 0h1m0 0h1m8 0h1m4 0h1m-125 1h1m19 0h1m0 0h1m1 0h1m2 0h1m1 0h1m0 0h1m0 0h1m1 0h1m1 0h1m5 0h1m2 0h1m0 0h1m0 0h1m2 0h1m5 0h1m1 0h1m1 0h1m0 0h1m0 0h1m0 0h1m1 0h1m0 0h1m0 0h1m3 0h1m2 0h1m0 0h1m0 0h1m0 0h1m0 0h1m2 0h1m1 0h1m3 0h1m2 0h1m2 0h1m3 0h1m1 0h1m6 0h1m0 0h1m4 0h1m1 0h1m4 0h1m1 0h1m2 0h1m6 0h1m1 0h1m-121 1h1m4 0h1m6 0h1m1 0h1m2 0h1m2 0h1m1 0h1m1 0h1m5 0h1m0 0h1m2 0h1m0 0h1m6 0h1m4 0h1m0 0h1m0 0h1m1 0h1m2 0h1m0 0h1m1 0h1m1 0h1m1 0h1m0 0h1m1 0h1m2 0h1m2 0h1m0 0h1m1 0h1m0 0h1m0 0h1m0 0h1m3 0h1m1 0h1m5 0h1m4 0h1m1 0h1m9 0h1m1 0h1m9 0h1m6 0h1m-129 1h1m3 0h1m9 0h1m4 0h1m7 0h1m7 0h1m5 0h1m0 0h1m1 0h1m1 0h1m1 0h1m0 0h1m1 0h1m1 0h1m0 0h1m2 0h1m3 0h1m2 0h1m8 0h1m0 0h1m5 0h1m3 0h1m0 0h1m1 0h1m0 0h1m0 0h1m1 0h1m14 0h1m0 0h1m3 0h1m5 0h1m-112 1h1m0 0h1m1 0h1m11 0h1m4 0h1m2 0h1m1 0h1m3 0h1m1 0h1m1 0h1m0 0h1m0 0h1m2 0h1m0 0h1m2 0h1m0 0h1m0 0h1m3 0h1m2 0h1m1 0h1m0 0h1m2 0h1m0 0h1m1 0h1m0 0h1m0 0h1m1 0h1m0 0h1m1 0h1m0 0h1m0 0h1m5 0h1m0 0h1m0 0h1m2 0h1m1 0h1m1 0h1m3 0h1m1 0h1m0 0h1m3 0h1m1 0h1m3 0h1m4 0h1m0 0h1m0 0h1m0 0h1m0 0h1m-117 1h1m2 0h1m2 0h1m0 0h1m2 0h1m2 0h1m0 0h1m0 0h1m1 0h1m5 0h1m0 0h1m0 0h1m0 0h1m3 0h1m0 0h1m2 0h1m1 0h1m3 0h1m0 0h1m1 0h1m7 0h1m3 0h1m3 0h1m7 0h1m1 0h1m1 0h1m6 0h1m0 0h1m4 0h1m4 0h1m4 0h1m1 0h1m1 0h1m0 0h1m0 0h1m5 0h1m9 0h1m5 0h1m-119 1h1m5 0h1m18 0h1m4 0h1m4 0h1m1 0h1m0 0h1m0 0h1m0 0h1m0 0h1m0 0h1m1 0h1m4 0h1m0 0h1m5 0h1m2 0h1m3 0h1m0 0h1m4 0h1m1 0h1m0 0h1m0 0h1m4 0h1m2 0h1m0 0h1m8 0h1m0 0h1m2 0h1m4 0h1m0 0h1m9 0h1m-104 1h1m5 0h1m1 0h1m0 0h1m3 0h1m1 0h1m4 0h1m2 0h1m0 0h1m1 0h1m1 0h1m9 0h1m0 0h1m2 0h1m8 0h1m1 0h1m0 0h1m0 0h1m1 0h1m0 0h1m0 0h1m0 0h1m0 0h1m1 0h1m3 0h1m0 0h1m2 0h1m6 0h1m1 0h1m3 0h1m1 0h1m32 0h1m-132 1h1m6 0h1m0 0h1m0 0h1m2 0h1m1 0h1m0 0h1m3 0h1m6 0h1m5 0h1m1 0h1m6 0h1m0 0h1m4 0h1m1 0h1m2 0h1m0 0h1m0 0h1m0 0h1m8 0h1m1 0h1m1 0h1m1 0h1m2 0h1m2 0h1m0 0h1m0 0h1m2 0h1m10 0h1m2 0h1m0 0h1m0 0h1m1 0h1m0 0h1m3 0h1m1 0h1m13 0h1m1 0h1m-113 1h1m12 0h1m7 0h1m1 0h1m2 0h1m1 0h1m0 0h1m6 0h1m6 0h1m0 0h1m0 0h1m3 0h1m2 0h1m0 0h1m0 0h1m0 0h1m0 0h1m0 0h1m2 0h1m1 0h1m4 0h1m0 0h1m2 0h1m1 0h1m0 0h1m6 0h1m2 0h1m9 0h1m11 0h1m1 0h1m-118 1h1m1 0h1m2 0h1m4 0h1m3 0h1m5 0h1m0 0h1m0 0h1m5 0h1m7 0h1m3 0h1m2 0h1m6 0h1m0 0h1m2 0h1m0 0h1m0 0h1m0 0h1m7 0h1m0 0h1m1 0h1m1 0h1m0 0h1m3 0h1m5 0h1m1 0h1m0 0h1m0 0h1m27 0h1m13 0h1m-127 1h1m11 0h1m0 0h1m1 0h1m0 0h1m4 0h1m0 0h1m3 0h1m13 0h1m0 0h1m16 0h1m2 0h1m0 0h1m2 0h1m5 0h1m1 0h1m1 0h1m0 0h1m1 0h1m0 0h1m0 0h1m4 0h1m0 0h1m4 0h1m2 0h1m2 0h1m1 0h1m3 0h1m1 0h1m1 0h1m8 0h1m5 0h1m-119 1h1m0 0h1m3 0h1m1 0h1m0 0h1m10 0h1m0 0h1m0 0h1m1 0h1m3 0h1m1 0h1m0 0h1m2 0h1m3 0h1m5 0h1m1 0h1m0 0h1m0 0h1m0 0h1m7 0h1m0 0h1m0 0h1m2 0h1m3 0h1m1 0h1m0 0h1m0 0h1m0 0h1m3 0h1m3 0h1m0 0h1m8 0h1m0 0h1m7 0h1m1 0h1m0 0h1m3 0h1m0 0h1m5 0h1m5 0h1m-125 1h1m6 0h1m4 0h1m4 0h1m4 0h1m8 0h1m4 0h1m0 0h1m0 0h1m1 0h1m0 0h1m0 0h1m0 0h1m0 0h1m1 0h1m0 0h1m1 0h1m6 0h1m0 0h1m0 0h1m3 0h1m1 0h1m4 0h1m2 0h1m3 0h1m0 0h1m0 0h1m3 0h1m3 0h1m4 0h1m0 0h1m1 0h1m0 0h1m12 0h1m4 0h1m-110 1h1m7 0h1m3 0h1m0 0h1m0 0h1m1 0h1m7 0h1m5 0h1m0 0h1m1 0h1m0 0h1m0 0h1m0 0h1m1 0h1m1 0h1m1 0h1m0 0h1m0 0h1m1 0h1m0 0h1m1 0h1m3 0h1m0 0h1m1 0h1m1 0h1m0 0h1m0 0h1m3 0h1m0 0h1m0 0h1m2 0h1m1 0h1m4 0h1m10 0h1m0 0h1m1 0h1m7 0h1m2 0h1m2 0h1m0 0h1m2 0h1m3 0h1m2 0h1m12 0h1m-117 1h1m2 0h1m0 0h1m0 0h1m4 0h1m2 0h1m0 0h1m1 0h1m3 0h1m1 0h1m4 0h1m0 0h1m2 0h1m0 0h1m2 0h1m0 0h1m0 0h1m2 0h1m0 0h1m1 0h1m3 0h1m1 0h1m0 0h1m0 0h1m0 0h1m6 0h1m0 0h1m1 0h1m5 0h1m2 0h1m3 0h1m3 0h1m2 0h1m6 0h1m19 0h1m6 0h1m0 0h1m-133 1h1m8 0h1m2 0h1m1 0h1m0 0h1m2 0h1m6 0h1m0 0h1m2 0h1m0 0h1m0 0h1m0 0h1m2 0h1m2 0h1m2 0h1m1 0h1m13 0h1m2 0h1m3 0h1m5 0h1m0 0h1m2 0h1m6 0h1m9 0h1m2 0h1m8 0h1m0 0h1m18 0h1m-118 1h1m1 0h1m2 0h1m0 0h1m0 0h1m3 0h1m1 0h1m3 0h1m0 0h1m4 0h1m0 0h1m2 0h1m0 0h1m1 0h1m1 0h1m2 0h1m0 0h1m3 0h1m5 0h1m0 0h1m3 0h1m1 0h1m1 0h1m0 0h1m1 0h1m0 0h1m2 0h1m9 0h1m4 0h1m4 0h1m0 0h1m0 0h1m2 0h1m2 0h1m0 0h1m0 0h1m1 0h1m0 0h1m3 0h1m0 0h1m2 0h1m7 0h1m-122 1h1m5 0h1m11 0h1m2 0h1m3 0h1m4 0h1m0 0h1m12 0h1m1 0h1m1 0h1m2 0h1m8 0h1m1 0h1m1 0h1m0 0h1m1 0h1m2 0h1m1 0h1m2 0h1m4 0h1m0 0h1m0 0h1m2 0h1m0 0h1m0 0h1m1 0h1m4 0h1m7 0h1m3 0h1m2 0h1m5 0h1m2 0h1m2 0h1m-121 1h1m9 0h1m3 0h1m8 0h1m4 0h1m0 0h1m0 0h1m14 0h1m1 0h1m4 0h1m0 0h1m0 0h1m2 0h1m2 0h1m0 0h1m1 0h1m3 0h1m1 0h1m6 0h1m2 0h1m4 0h1m3 0h1m2 0h1m0 0h1m5 0h1m1 0h1m8 0h1m4 0h1m0 0h1m7 0h1m-129 1h1m2 0h1m7 0h1m1 0h1m0 0h1m4 0h1m2 0h1m1 0h1m5 0h1m7 0h1m0 0h1m9 0h1m2 0h1m2 0h1m10 0h1m6 0h1m0 0h1m2 0h1m3 0h1m1 0h1m1 0h1m0 0h1m7 0h1m0 0h1m0 0h1m0 0h1m0 0h1m3 0h1m0 0h1m0 0h1m0 0h1m4 0h1m7 0h1m0 0h1m6 0h1m-116 1h1m0 0h1m2 0h1m14 0h1m1 0h1m1 0h1m0 0h1m0 0h1m0 0h1m1 0h1m0 0h1m1 0h1m2 0h1m0 0h1m4 0h1m0 0h1m5 0h1m0 0h1m2 0h1m2 0h1m2 0h1m1 0h1m1 0h1m1 0h1m0 0h1m0 0h1m0 0h1m2 0h1m3 0h1m0 0h1m4 0h1m2 0h1m0 0h1m4 0h1m1 0h1m0 0h1m0 0h1m2 0h1m4 0h1m11 0h1m0 0h1m-110 1h1m7 0h1m3 0h1m12 0h1m0 0h1m2 0h1m1 0h1m0 0h1m0 0h1m2 0h1m0 0h1m4 0h1m0 0h1m0 0h1m3 0h1m1 0h1m2 0h1m1 0h1m2 0h1m0 0h1m0 0h1m2 0h1m5 0h1m3 0h1m5 0h1m1 0h1m1 0h1m5 0h1m4 0h1m7 0h1m14 0h1m3 0h1m-138 1h1m7 0h1m11 0h1m8 0h1m4 0h1m1 0h1m0 0h1m0 0h1m3 0h1m2 0h1m0 0h1m1 0h1m3 0h1m3 0h1m1 0h1m0 0h1m2 0h1m1 0h1m3 0h1m2 0h1m2 0h1m0 0h1m2 0h1m1 0h1m2 0h1m1 0h1m0 0h1m0 0h1m1 0h1m3 0h1m0 0h1m3 0h1m1 0h1m6 0h1m2 0h1m5 0h1m-105 1h1m4 0h1m14 0h1m1 0h1m2 0h1m7 0h1m0 0h1m0 0h1m0 0h1m7 0h1m3 0h1m7 0h1m11 0h1m0 0h1m2 0h1m1 0h1m1 0h1m1 0h1m0 0h1m1 0h1m7 0h1m10 0h1m2 0h1m4 0h1m3 0h1m1 0h1m-123 1h1m9 0h1m14 0h1m1 0h1m12 0h1m0 0h1m0 0h1m1 0h1m2 0h1m0 0h1m0 0h1m0 0h1m2 0h1m0 0h1m0 0h1m8 0h1m0 0h1m1 0h1m0 0h1m3 0h1m7 0h1m7 0h1m0 0h1m4 0h1m5 0h1m2 0h1m0 0h1m10 0h1m2 0h1m0 0h1m8 0h1m4 0h1m-132 1h1m3 0h1m3 0h1m0 0h1m4 0h1m4 0h1m4 0h1m3 0h1m4 0h1m0 0h1m0 0h1m3 0h1m0 0h1m1 0h1m3 0h1m0 0h1m2 0h1m0 0h1m0 0h1m0 0h1m1 0h1m0 0h1m1 0h1m0 0h1m1 0h1m3 0h1m0 0h1m3 0h1m2 0h1m0 0h1m3 0h1m1 0h1m0 0h1m1 0h1m2 0h1m0 0h1m0 0h1m8 0h1m0 0h1m2 0h1m9 0h1m4 0h1m9 0h1m-132 1h1m2 0h1m5 0h1m4 0h1m17 0h1m1 0h1m7 0h1m8 0h1m7 0h1m0 0h1m0 0h1m3 0h1m0 0h1m2 0h1m4 0h1m0 0h1m0 0h1m1 0h1m0 0h1m0 0h1m0 0h1m0 0h1m0 0h1m2 0h1m2 0h1m3 0h1m2 0h1m2 0h1m12 0h1m2 0h1m0 0h1m0 0h1m2 0h1m6 0h1m5 0h1m-133 1h1m4 0h1m3 0h1m11 0h1m1 0h1m0 0h1m2 0h1m8 0h1m1 0h1m1 0h1m4 0h1m1 0h1m5 0h1m2 0h1m0 0h1m1 0h1m4 0h1m1 0h1m2 0h1m2 0h1m3 0h1m0 0h1m0 0h1m4 0h1m4 0h1m2 0h1m0 0h1m0 0h1m5 0h1m2 0h1m2 0h1m1 0h1m2 0h1m1 0h1m-110 1h1m19 0h1m1 0h1m2 0h1m0 0h1m1 0h1m1 0h1m2 0h1m8 0h1m0 0h1m1 0h1m6 0h1m0 0h1m4 0h1m1 0h1m1 0h1m3 0h1m0 0h1m10 0h1m1 0h1m0 0h1m0 0h1m4 0h1m1 0h1m8 0h1m3 0h1m4 0h1m5 0h1m0 0h1m-107 1h1m1 0h1m6 0h1m3 0h1m3 0h1m0 0h1m1 0h1m3 0h1m0 0h1m0 0h1m0 0h1m8 0h1m6 0h1m1 0h1m2 0h1m1 0h1m3 0h1m0 0h1m4 0h1m0 0h1m0 0h1m1 0h1m1 0h1m6 0h1m5 0h1m0 0h1m2 0h1m0 0h1m1 0h1m0 0h1m6 0h1m3 0h1m1 0h1m0 0h1m4 0h1m6 0h1m-125 1h1m18 0h1m2 0h1m2 0h1m1 0h1m3 0h1m1 0h1m0 0h1m3 0h1m1 0h1m2 0h1m1 0h1m1 0h1m1 0h1m4 0h1m0 0h1m5 0h1m3 0h1m0 0h1m0 0h1m3 0h1m0 0h1m0 0h1m1 0h1m2 0h1m10 0h1m1 0h1m1 0h1m2 0h1m4 0h1m2 0h1m7 0h1m1 0h1m3 0h1m4 0h1m3 0h1m-112 1h1m3 0h1m3 0h1m0 0h1m3 0h1m3 0h1m0 0h1m0 0h1m3 0h1m2 0h1m0 0h1m1 0h1m2 0h1m0 0h1m5 0h1m7 0h1m0 0h1m1 0h1m3 0h1m3 0h1m3 0h1m1 0h1m1 0h1m1 0h1m0 0h1m3 0h1m0 0h1m4 0h1m0 0h1m1 0h1m11 0h1m5 0h1m6 0h1m5 0h1m-131 1h1m0 0h1m7 0h1m4 0h1m1 0h1m1 0h1m0 0h1m6 0h1m0 0h1m1 0h1m7 0h1m0 0h1m0 0h1m0 0h1m5 0h1m2 0h1m1 0h1m2 0h1m2 0h1m4 0h1m0 0h1m1 0h1m1 0h1m1 0h1m0 0h1m1 0h1m0 0h1m4 0h1m4 0h1m1 0h1m5 0h1m1 0h1m5 0h1m2 0h1m2 0h1m0 0h1m7 0h1m7 0h1m5 0h1m-131 1h1m2 0h1m0 0h1m15 0h1m2 0h1m1 0h1m11 0h1m2 0h1m1 0h1m0 0h1m0 0h1m18 0h1m2 0h1m1 0h1m1 0h1m11 0h1m1 0h1m1 0h1m2 0h1m5 0h1m4 0h1m3 0h1m0 0h1m0 0h1m0 0h1m8 0h1m6 0h1m1 0h1m-126 1h1m7 0h1m3 0h1m12 0h1m2 0h1m1 0h1m3 0h1m5 0h1m2 0h1m1 0h1m2 0h1m4 0h1m1 0h1m0 0h1m1 0h1m2 0h1m0 0h1m0 0h1m1 0h1m6 0h1m5 0h1m1 0h1m5 0h1m1 0h1m4 0h1m3 0h1m3 0h1m0 0h1m3 0h1m6 0h1m0 0h1m2 0h1m14 0h1m-131 1h1m7 0h1m2 0h1m11 0h1m10 0h1m1 0h1m0 0h1m1 0h1m2 0h1m0 0h1m1 0h1m4 0h1m0 0h1m0 0h1m2 0h1m9 0h1m3 0h1m0 0h1m4 0h1m2 0h1m4 0h1m7 0h1m1 0h1m1 0h1m9 0h1m1 0h1m4 0h1m1 0h1m7 0h1m-114 1h1m0 0h1m1 0h1m1 0h1m5 0h1m0 0h1m0 0h1m0 0h1m7 0h1m0 0h1m16 0h1m1 0h1m3 0h1m4 0h1m0 0h1m0 0h1m0 0h1m3 0h1m2 0h1m0 0h1m2 0h1m0 0h1m6 0h1m1 0h1m2 0h1m0 0h1m0 0h1m8 0h1m7 0h1m0 0h1m1 0h1m12 0h1m4 0h1m-122 1h1m1 0h1m4 0h1m3 0h1m1 0h1m1 0h1m4 0h1m0 0h1m0 0h1m6 0h1m13 0h1m5 0h1m2 0h1m7 0h1m8 0h1m5 0h1m8 0h1m1 0h1m1 0h1m1 0h1m7 0h1m5 0h1m5 0h1m11 0h1m0 0h1m-126 1h1m6 0h1m4 0h1m4 0h1m3 0h1m0 0h1m2 0h1m2 0h1m3 0h1m2 0h1m13 0h1m1 0h1m1 0h1m0 0h1m4 0h1m1 0h1m7 0h1m0 0h1m0 0h1m0 0h1m1 0h1m1 0h1m3 0h1m3 0h1m3 0h1m6 0h1m1 0h1m1 0h1m0 0h1m3 0h1m4 0h1m0 0h1m-116 1h1m4 0h1m7 0h1m1 0h1m13 0h1m0 0h1m1 0h1m0 0h1m0 0h1m0 0h1m1 0h1m5 0h1m3 0h1m0 0h1m0 0h1m1 0h1m0 0h1m4 0h1m4 0h1m0 0h1m0 0h1m3 0h1m1 0h1m0 0h1m4 0h1m0 0h1m0 0h1m1 0h1m1 0h1m2 0h1m6 0h1m0 0h1m0 0h1m5 0h1m0 0h1m0 0h1m10 0h1m11 0h1m10 0h1m-132 1h1m4 0h1m3 0h1m8 0h1m0 0h1m10 0h1m0 0h1m2 0h1m6 0h1m3 0h1m2 0h1m2 0h1m1 0h1m3 0h1m2 0h1m1 0h1m3 0h1m3 0h1m1 0h1m1 0h1m0 0h1m11 0h1m16 0h1m1 0h1m9 0h1m2 0h1m1 0h1m8 0h1m-133 1h1m12 0h1m1 0h1m2 0h1m8 0h1m7 0h1m0 0h1m2 0h1m3 0h1m0 0h1m1 0h1m7 0h1m0 0h1m1 0h1m4 0h1m13 0h1m0 0h1m1 0h1m0 0h1m5 0h1m2 0h1m4 0h1m14 0h1m2 0h1m14 0h1m6 0h1m-126 1h1m0 0h1m0 0h1m2 0h1m5 0h1m5 0h1m0 0h1m1 0h1m4 0h1m1 0h1m5 0h1m0 0h1m3 0h1m4 0h1m1 0h1m3 0h1m4 0h1m6 0h1m0 0h1m7 0h1m0 0h1m2 0h1m1 0h1m0 0h1m1 0h1m1 0h1m1 0h1m2 0h1m4 0h1m8 0h1m2 0h1m3 0h1m0 0h1m0 0h1m0 0h1m5 0h1m-129 1h1m9 0h1m0 0h1m0 0h1m2 0h1m0 0h1m2 0h1m2 0h1m1 0h1m0 0h1m1 0h1m7 0h1m2 0h1m1 0h1m1 0h1m2 0h1m0 0h1m3 0h1m0 0h1m2 0h1m5 0h1m0 0h1m1 0h1m16 0h1m4 0h1m1 0h1m6 0h1m4 0h1m3 0h1m3 0h1m23 0h1m4 0h1m-135 1h1m11 0h1m18 0h1m4 0h1m3 0h1m4 0h1m2 0h1m5 0h1m3 0h1m2 0h1m0 0h1m1 0h1m1 0h1m3 0h1m3 0h1m1 0h1m17 0h1m1 0h1m6 0h1m0 0h1m1 0h1m2 0h1m4 0h1m1 0h1m3 0h1m1 0h1m-119 1h1m7 0h1m0 0h1m4 0h1m1 0h1m0 0h1m10 0h1m6 0h1m1 0h1m3 0h1m1 0h1m0 0h1m0 0h1m0 0h1m9 0h1m9 0h1m11 0h1m1 0h1m4 0h1m2 0h1m0 0h1m1 0h1m1 0h1m0 0h1m1 0h1m0 0h1m9 0h1m0 0h1m2 0h1m17 0h1m-141 1h1m5 0h1m7 0h1m3 0h1m1 0h1m3 0h1m4 0h1m2 0h1m1 0h1m2 0h1m4 0h1m2 0h1m1 0h1m3 0h1m5 0h1m7 0h1m0 0h1m0 0h1m1 0h1m4 0h1m4 0h1m2 0h1m2 0h1m3 0h1m3 0h1m1 0h1m0 0h1m4 0h1m4 0h1m0 0h1m0 0h1m0 0h1m3 0h1m0 0h1m0 0h1m2 0h1m5 0h1m-116 1h1m1 0h1m6 0h1m11 0h1m1 0h1m0 0h1m2 0h1m5 0h1m1 0h1m0 0h1m0 0h1m2 0h1m0 0h1m1 0h1m2 0h1m0 0h1m2 0h1m5 0h1m0 0h1m2 0h1m0 0h1m7 0h1m4 0h1m0 0h1m3 0h1m2 0h1m8 0h1m4 0h1m15 0h1m3 0h1m0 0h1m4 0h1m-117 1h1m0 0h1m9 0h1m2 0h1m0 0h1m4 0h1m7 0h1m1 0h1m3 0h1m3 0h1m1 0h1m3 0h1m5 0h1m1 0h1m0 0h1m14 0h1m7 0h1m3 0h1m1 0h1m0 0h1m3 0h1m1 0h1m4 0h1m4 0h1m1 0h1m1 0h1m2 0h1m2 0h1m3 0h1m-129 1h1m10 0h1m4 0h1m7 0h1m12 0h1m1 0h1m0 0h1m0 0h1m6 0h1m0 0h1m0 0h1m3 0h1m0 0h1m2 0h1m2 0h1m1 0h1m4 0h1m10 0h1m5 0h1m0 0h1m4 0h1m0 0h1m5 0h1m0 0h1m0 0h1m0 0h1m4 0h1m0 0h1m2 0h1m17 0h1m5 0h1m-139 1h1m13 0h1m9 0h1m17 0h1m0 0h1m0 0h1m3 0h1m3 0h1m0 0h1m5 0h1m0 0h1m2 0h1m0 0h1m0 0h1m0 0h1m4 0h1m1 0h1m5 0h1m0 0h1m3 0h1m1 0h1m0 0h1m1 0h1m0 0h1m2 0h1m0 0h1m2 0h1m5 0h1m0 0h1m4 0h1m0 0h1m1 0h1m2 0h1m2 0h1m2 0h1m-113 1h1m6 0h1m0 0h1m8 0h1m7 0h1m2 0h1m3 0h1m0 0h1m0 0h1m0 0h1m4 0h1m1 0h1m2 0h1m1 0h1m1 0h1m5 0h1m0 0h1m2 0h1m7 0h1m0 0h1m1 0h1m6 0h1m2 0h1m0 0h1m0 0h1m2 0h1m1 0h1m0 0h1m0 0h1m2 0h1m7 0h1m0 0h1m0 0h1m1 0h1m2 0h1m6 0h1m1 0h1m7 0h1m0 0h1m-123 1h1m0 0h1m7 0h1m2 0h1m2 0h1m1 0h1m1 0h1m3 0h1m3 0h1m0 0h1m2 0h1m2 0h1m0 0h1m1 0h1m0 0h1m5 0h1m0 0h1m0 0h1m5 0h1m0 0h1m0 0h1m1 0h1m0 0h1m3 0h1m5 0h1m2 0h1m6 0h1m0 0h1m0 0h1m1 0h1m0 0h1m0 0h1m1 0h1m0 0h1m1 0h1m2 0h1m3 0h1m0 0h1m0 0h1m5 0h1m2 0h1m1 0h1m12 0h1m-133 1h1m2 0h1m5 0h1m27 0h1m8 0h1m8 0h1m0 0h1m0 0h1m5 0h1m7 0h1m0 0h1m3 0h1m2 0h1m2 0h1m9 0h1m1 0h1m3 0h1m0 0h1m3 0h1m0 0h1m1 0h1m5 0h1m2 0h1m4 0h1m1 0h1m5 0h1m1 0h1m-116 1h1m5 0h1m1 0h1m0 0h1m1 0h1m0 0h1m4 0h1m6 0h1m2 0h1m1 0h1m1 0h1m1 0h1m1 0h1m0 0h1m1 0h1m1 0h1m0 0h1m1 0h1m0 0h1m0 0h1m0 0h1m0 0h1m2 0h1m8 0h1m4 0h1m7 0h1m0 0h1m1 0h1m0 0h1m2 0h1m1 0h1m5 0h1m10 0h1m13 0h1m-121 1h1m7 0h1m1 0h1m0 0h1m0 0h1m6 0h1m0 0h1m5 0h1m0 0h1m0 0h1m3 0h1m2 0h1m0 0h1m0 0h1m3 0h1m5 0h1m3 0h1m1 0h1m0 0h1m0 0h1m0 0h1m0 0h1m6 0h1m0 0h1m0 0h1m2 0h1m4 0h1m0 0h1m14 0h1m0 0h1m7 0h1m2 0h1m0 0h1m0 0h1m4 0h1m1 0h1m0 0h1m0 0h1m0 0h1m0 0h1m0 0h1m7 0h1m-117 1h1m13 0h1m1 0h1m3 0h1m3 0h1m0 0h1m1 0h1m3 0h1m1 0h1m5 0h1m1 0h1m1 0h1m1 0h1m3 0h1m1 0h1m0 0h1m2 0h1m8 0h1m1 0h1m4 0h1m9 0h1m2 0h1m3 0h1m1 0h1m0 0h1m2 0h1m7 0h1m3 0h1m2 0h1m5 0h1m2 0h1m-120 1h1m1 0h1m0 0h1m0 0h1m4 0h1m0 0h1m0 0h1m11 0h1m0 0h1m1 0h1m2 0h1m1 0h1m1 0h1m6 0h1m2 0h1m4 0h1m3 0h1m1 0h1m1 0h1m0 0h1m3 0h1m6 0h1m0 0h1m2 0h1m1 0h1m0 0h1m7 0h1m5 0h1m0 0h1m0 0h1m3 0h1m6 0h1m3 0h1m3 0h1m0 0h1m8 0h1m-128 1h1m4 0h1m8 0h1m7 0h1m3 0h1m0 0h1m1 0h1m3 0h1m0 0h1m4 0h1m2 0h1m1 0h1m0 0h1m0 0h1m0 0h1m3 0h1m3 0h1m3 0h1m0 0h1m1 0h1m2 0h1m0 0h1m1 0h1m1 0h1m4 0h1m0 0h1m2 0h1m1 0h1m0 0h1m2 0h1m5 0h1m1 0h1m0 0h1m1 0h1m1 0h1m1 0h1m0 0h1m1 0h1m0 0h1m3 0h1m6 0h1m1 0h1m12 0h1m-137 1h1m1 0h1m12 0h1m1 0h1m0 0h1m4 0h1m6 0h1m5 0h1m1 0h1m1 0h1m1 0h1m0 0h1m2 0h1m1 0h1m1 0h1m1 0h1m1 0h1m1 0h1m1 0h1m3 0h1m2 0h1m3 0h1m2 0h1m3 0h1m3 0h1m2 0h1m2 0h1m1 0h1m0 0h1m4 0h1m5 0h1m8 0h1m0 0h1m3 0h1m0 0h1m7 0h1m6 0h1m2 0h1m0 0h1m-139 1h1m8 0h1m7 0h1m8 0h1m0 0h1m2 0h1m0 0h1m11 0h1m2 0h1m2 0h1m0 0h1m2 0h1m2 0h1m4 0h1m3 0h1m3 0h1m6 0h1m3 0h1m0 0h1m1 0h1m2 0h1m0 0h1m7 0h1m0 0h1m5 0h1m4 0h1m0 0h1m2 0h1m5 0h1m6 0h1m1 0h1m1 0h1m2 0h1m-127 1h1m9 0h1m4 0h1m2 0h1m0 0h1m14 0h1m4 0h1m0 0h1m0 0h1m2 0h1m0 0h1m7 0h1m0 0h1m2 0h1m7 0h1m3 0h1m3 0h1m2 0h1m0 0h1m3 0h1m2 0h1m1 0h1m3 0h1m4 0h1m0 0h1m11 0h1m2 0h1m1 0h1m17 0h1m4 0h1m-133 1h1m2 0h1m3 0h1m2 0h1m1 0h1m2 0h1m1 0h1m0 0h1m4 0h1m5 0h1m0 0h1m0 0h1m4 0h1m3 0h1m4 0h1m4 0h1m6 0h1m1 0h1m3 0h1m3 0h1m4 0h1m1 0h1m0 0h1m2 0h1m0 0h1m5 0h1m2 0h1m0 0h1m0 0h1m0 0h1m4 0h1m2 0h1m0 0h1m1 0h1m0 0h1m1 0h1m1 0h1m0 0h1m6 0h1m-110 1h1m2 0h1m8 0h1m0 0h1m6 0h1m1 0h1m1 0h1m1 0h1m3 0h1m1 0h1m0 0h1m12 0h1m1 0h1m0 0h1m5 0h1m1 0h1m2 0h1m1 0h1m3 0h1m3 0h1m4 0h1m7 0h1m11 0h1m11 0h1m0 0h1m2 0h1m4 0h1m-124 1h1m11 0h1m0 0h1m3 0h1m2 0h1m3 0h1m2 0h1m5 0h1m8 0h1m0 0h1m0 0h1m4 0h1m3 0h1m3 0h1m0 0h1m3 0h1m1 0h1m3 0h1m1 0h1m4 0h1m3 0h1m3 0h1m0 0h1m1 0h1m4 0h1m1 0h1m0 0h1m4 0h1m0 0h1m0 0h1m7 0h1m5 0h1m6 0h1m2 0h1m-122 1h1m5 0h1m2 0h1m0 0h1m4 0h1m7 0h1m1 0h1m0 0h1m5 0h1m0 0h1m0 0h1m0 0h1m4 0h1m5 0h1m7 0h1m4 0h1m0 0h1m2 0h1m7 0h1m0 0h1m5 0h1m1 0h1m0 0h1m4 0h1m4 0h1m1 0h1m7 0h1m9 0h1m6 0h1m-121 1h1m13 0h1m2 0h1m1 0h1m1 0h1m2 0h1m13 0h1m3 0h1m17 0h1m9 0h1m4 0h1m1 0h1m0 0h1m3 0h1m3 0h1m5 0h1m3 0h1m2 0h1m5 0h1m4 0h1m10 0h1m-125 1h1m0 0h1m4 0h1m15 0h1m3 0h1m2 0h1m3 0h1m0 0h1m1 0h1m0 0h1m20 0h1m0 0h1m2 0h1m4 0h1m11 0h1m2 0h1m3 0h1m3 0h1m1 0h1m0 0h1m3 0h1m1 0h1m0 0h1m3 0h1m11 0h1m3 0h1m-130 1h1m6 0h1m20 0h1m7 0h1m4 0h1m2 0h1m0 0h1m1 0h1m2 0h1m2 0h1m4 0h1m2 0h1m0 0h1m0 0h1m2 0h1m0 0h1m0 0h1m0 0h1m0 0h1m8 0h1m6 0h1m1 0h1m1 0h1m5 0h1m1 0h1m0 0h1m5 0h1m1 0h1m1 0h1m3 0h1m7 0h1m0 0h1m-125 1h1m11 0h1m6 0h1m1 0h1m1 0h1m2 0h1m1 0h1m4 0h1m5 0h1m0 0h1m3 0h1m0 0h1m0 0h1m4 0h1m4 0h1m3 0h1m2 0h1m0 0h1m3 0h1m0 0h1m0 0h1m1 0h1m1 0h1m0 0h1m3 0h1m2 0h1m2 0h1m1 0h1m1 0h1m0 0h1m2 0h1m0 0h1m14 0h1m3 0h1m4 0h1m1 0h1m0 0h1m11 0h1m-130 1h1m16 0h1m1 0h1m0 0h1m0 0h1m9 0h1m5 0h1m2 0h1m0 0h1m1 0h1m0 0h1m2 0h1m1 0h1m2 0h1m2 0h1m0 0h1m4 0h1m0 0h1m4 0h1m0 0h1m0 0h1m1 0h1m0 0h1m1 0h1m1 0h1m5 0h1m2 0h1m3 0h1m6 0h1m3 0h1m2 0h1m3 0h1m4 0h1m3 0h1m6 0h1m-132 1h1m31 0h1m0 0h1m3 0h1m2 0h1m4 0h1m0 0h1m1 0h1m8 0h1m0 0h1m0 0h1m1 0h1m1 0h1m4 0h1m0 0h1m0 0h1m1 0h1m0 0h1m4 0h1m3 0h1m4 0h1m0 0h1m2 0h1m5 0h1m1 0h1m5 0h1m8 0h1m4 0h1m6 0h1m7 0h1m-120 1h1m12 0h1m4 0h1m8 0h1m0 0h1m0 0h1m2 0h1m2 0h1m0 0h1m0 0h1m3 0h1m0 0h1m2 0h1m1 0h1m1 0h1m0 0h1m1 0h1m4 0h1m2 0h1m1 0h1m2 0h1m0 0h1m0 0h1m2 0h1m1 0h1m4 0h1m5 0h1m2 0h1m1 0h1m2 0h1m4 0h1m0 0h1m13 0h1m11 0h1m-134 1h1m6 0h1m6 0h1m0 0h1m2 0h1m2 0h1m3 0h1m8 0h1m2 0h1m4 0h1m5 0h1m1 0h1m2 0h1m0 0h1m6 0h1m1 0h1m9 0h1m2 0h1m12 0h1m3 0h1m0 0h1m0 0h1m2 0h1m0 0h1m0 0h1m18 0h1m4 0h1m2 0h1m-123 1h1m4 0h1m11 0h1m2 0h1m5 0h1m2 0h1m1 0h1m1 0h1m5 0h1m0 0h1m0 0h1m3 0h1m0 0h1m4 0h1m2 0h1m5 0h1m2 0h1m2 0h1m0 0h1m3 0h1m1 0h1m1 0h1m1 0h1m3 0h1m0 0h1m17 0h1m4 0h1m4 0h1m1 0h1m3 0h1m3 0h1m-120 1h1m0 0h1m5 0h1m3 0h1m7 0h1m2 0h1m4 0h1m1 0h1m1 0h1m2 0h1m3 0h1m0 0h1m2 0h1m5 0h1m0 0h1m0 0h1m1 0h1m2 0h1m0 0h1m0 0h1m1 0h1m0 0h1m2 0h1m9 0h1m6 0h1m2 0h1m2 0h1m0 0h1m2 0h1m2 0h1m11 0h1m3 0h1m3 0h1m-115 1h1m5 0h1m1 0h1m2 0h1m2 0h1m6 0h1m3 0h1m0 0h1m1 0h1m0 0h1m0 0h1m0 0h1m0 0h1m2 0h1m0 0h1m1 0h1m0 0h1m2 0h1m2 0h1m1 0h1m1 0h1m2 0h1m5 0h1m0 0h1m1 0h1m1 0h1m2 0h1m4 0h1m1 0h1m0 0h1m1 0h1m1 0h1m1 0h1m2 0h1m6 0h1m13 0h1m1 0h1m2 0h1m4 0h1m2 0h1m-117 1h1m2 0h1m0 0h1m13 0h1m0 0h1m0 0h1m2 0h1m4 0h1m0 0h1m3 0h1m6 0h1m1 0h1m0 0h1m15 0h1m4 0h1m0 0h1m5 0h1m8 0h1m2 0h1m1 0h1m0 0h1m1 0h1m1 0h1m0 0h1m3 0h1m2 0h1m5 0h1m8 0h1m4 0h1m1 0h1m1 0h1m7 0h1m-138 1h1m1 0h1m4 0h1m4 0h1m9 0h1m6 0h1m2 0h1m3 0h1m0 0h1m3 0h1m2 0h1m1 0h1m0 0h1m1 0h1m4 0h1m1 0h1m2 0h1m1 0h1m1 0h1m1 0h1m2 0h1m0 0h1m0 0h1m1 0h1m0 0h1m1 0h1m1 0h1m0 0h1m3 0h1m5 0h1m2 0h1m6 0h1m0 0h1m0 0h1m2 0h1m13 0h1m2 0h1m5 0h1m-120 1h1m2 0h1m0 0h1m0 0h1m1 0h1m6 0h1m1 0h1m9 0h1m3 0h1m0 0h1m1 0h1m1 0h1m1 0h1m5 0h1m1 0h1m1 0h1m9 0h1m1 0h1m2 0h1m1 0h1m2 0h1m1 0h1m2 0h1m10 0h1m5 0h1m11 0h1m3 0h1m2 0h1m6 0h1m4 0h1m-134 1h1m8 0h1m4 0h1m4 0h1m0 0h1m13 0h1m0 0h1m2 0h1m0 0h1m0 0h1m2 0h1m3 0h1m2 0h1m2 0h1m0 0h1m0 0h1m0 0h1m3 0h1m5 0h1m2 0h1m5 0h1m1 0h1m0 0h1m3 0h1m1 0h1m3 0h1m1 0h1m10 0h1m1 0h1m4 0h1m1 0h1m21 0h1m-113 1h1m1 0h1m8 0h1m1 0h1m2 0h1m1 0h1m0 0h1m5 0h1m0 0h1m4 0h1m1 0h1m0 0h1m0 0h1m5 0h1m1 0h1m4 0h1m1 0h1m0 0h1m6 0h1m0 0h1m1 0h1m0 0h1m2 0h1m2 0h1m2 0h1m0 0h1m0 0h1m4 0h1m1 0h1m0 0h1m1 0h1m1 0h1m1 0h1m0 0h1m0 0h1m0 0h1m0 0h1m3 0h1m6 0h1m0 0h1m0 0h1m7 0h1m6 0h1m-137 1h1m11 0h1m2 0h1m1 0h1m11 0h1m1 0h1m1 0h1m0 0h1m0 0h1m0 0h1m1 0h1m1 0h1m9 0h1m4 0h1m7 0h1m4 0h1m1 0h1m2 0h1m15 0h1m3 0h1m10 0h1m12 0h1m0 0h1m0 0h1m1 0h1m8 0h1m-127 1h1m8 0h1m0 0h1m2 0h1m0 0h1m0 0h1m0 0h1m3 0h1m4 0h1m0 0h1m0 0h1m0 0h1m0 0h1m4 0h1m1 0h1m0 0h1m1 0h1m2 0h1m0 0h1m1 0h1m0 0h1m1 0h1m0 0h1m2 0h1m3 0h1m0 0h1m0 0h1m2 0h1m1 0h1m3 0h1m3 0h1m0 0h1m0 0h1m0 0h1m0 0h1m5 0h1m0 0h1m0 0h1m1 0h1m4 0h1m8 0h1m11 0h1m0 0h1m8 0h1m-134 1h1m16 0h1m0 0h1m0 0h1m7 0h1m3 0h1m1 0h1m0 0h1m10 0h1m4 0h1m0 0h1m2 0h1m2 0h1m1 0h1m1 0h1m0 0h1m2 0h1m0 0h1m0 0h1m3 0h1m5 0h1m0 0h1m3 0h1m9 0h1m0 0h1m4 0h1m1 0h1m3 0h1m1 0h1m8 0h1m6 0h1m1 0h1m4 0h1m6 0h1m-122 1h1m4 0h1m6 0h1m4 0h1m0 0h1m4 0h1m3 0h1m4 0h1m3 0h1m1 0h1m2 0h1m6 0h1m3 0h1m5 0h1m4 0h1m2 0h1m4 0h1m2 0h1m7 0h1m1 0h1m2 0h1m0 0h1m13 0h1m6 0h1m-109 1h1m0 0h1m4 0h1m0 0h1m1 0h1m8 0h1m0 0h1m2 0h1m1 0h1m1 0h1m0 0h1m0 0h1m7 0h1m0 0h1m1 0h1m2 0h1m0 0h1m5 0h1m0 0h1m0 0h1m0 0h1m5 0h1m8 0h1m1 0h1m3 0h1m1 0h1m0 0h1m3 0h1m1 0h1m2 0h1m3 0h1m0 0h1m0 0h1m1 0h1m0 0h1m1 0h1m1 0h1m2 0h1m1 0h1m2 0h1m1 0h1m6 0h1m0 0h1m-131 1h1m9 0h1m0 0h1m2 0h1m2 0h1m9 0h1m9 0h1m3 0h1m2 0h1m0 0h1m0 0h1m3 0h1m0 0h1m0 0h1m2 0h1m6 0h1m0 0h1m0 0h1m4 0h1m2 0h1m7 0h1m0 0h1m1 0h1m5 0h1m0 0h1m4 0h1m1 0h1m7 0h1m4 0h1m10 0h1m-107 1h1m5 0h1m1 0h1m5 0h1m2 0h1m3 0h1m0 0h1m5 0h1m0 0h1m0 0h1m1 0h1m11 0h1m0 0h1m2 0h1m0 0h1m4 0h1m1 0h1m1 0h1m7 0h1m10 0h1m0 0h1m0 0h1m0 0h1m1 0h1m1 0h1m2 0h1m0 0h1m1 0h1m8 0h1m2 0h1m0 0h1m2 0h1m4 0h1m3 0h1m-129 1h1m1 0h1m1 0h1m6 0h1m1 0h1m0 0h1m3 0h1m4 0h1m8 0h1m1 0h1m1 0h1m3 0h1m1 0h1m0 0h1m0 0h1m1 0h1m0 0h1m1 0h1m2 0h1m8 0h1m0 0h1m1 0h1m0 0h1m5 0h1m3 0h1m0 0h1m3 0h1m0 0h1m4 0h1m1 0h1m1 0h1m3 0h1m2 0h1m5 0h1m5 0h1m2 0h1m12 0h1m-124 1h1m1 0h1m7 0h1m2 0h1m3 0h1m0 0h1m7 0h1m0 0h1m2 0h1m1 0h1m9 0h1m5 0h1m1 0h1m1 0h1m0 0h1m3 0h1m1 0h1m2 0h1m0 0h1m4 0h1m2 0h1m1 0h1m1 0h1m9 0h1m0 0h1m0 0h1m0 0h1m4 0h1m12 0h1m17 0h1m1 0h1m-118 1h1m1 0h1m2 0h1m2 0h1m5 0h1m2 0h1m1 0h1m1 0h1m3 0h1m5 0h1m0 0h1m0 0h1m0 0h1m4 0h1m0 0h1m3 0h1m4 0h1m0 0h1m0 0h1m2 0h1m0 0h1m0 0h1m5 0h1m9 0h1m0 0h1m1 0h1m1 0h1m0 0h1m1 0h1m7 0h1m11 0h1m13 0h1m-129 1h1m5 0h1m14 0h1m4 0h1m2 0h1m1 0h1m5 0h1m0 0h1m3 0h1m1 0h1m2 0h1m0 0h1m2 0h1m0 0h1m1 0h1m0 0h1m2 0h1m1 0h1m2 0h1m2 0h1m0 0h1m2 0h1m0 0h1m2 0h1m1 0h1m3 0h1m2 0h1m1 0h1m5 0h1m2 0h1m0 0h1m0 0h1m2 0h1m0 0h1m4 0h1m0 0h1m0 0h1m2 0h1m0 0h1m4 0h1m-113 1h1m10 0h1m1 0h1m0 0h1m10 0h1m6 0h1m0 0h1m1 0h1m1 0h1m0 0h1m2 0h1m0 0h1m3 0h1m0 0h1m1 0h1m1 0h1m5 0h1m0 0h1m0 0h1m0 0h1m2 0h1m1 0h1m0 0h1m0 0h1m7 0h1m0 0h1m10 0h1m4 0h1m0 0h1m0 0h1m0 0h1m0 0h1m1 0h1m0 0h1m1 0h1m1 0h1m1 0h1m7 0h1m5 0h1m-117 1h1m3 0h1m14 0h1m0 0h1m8 0h1m0 0h1m5 0h1m2 0h1m16 0h1m3 0h1m0 0h1m2 0h1m0 0h1m0 0h1m0 0h1m1 0h1m1 0h1m0 0h1m1 0h1m2 0h1m2 0h1m1 0h1m2 0h1m8 0h1m1 0h1m2 0h1m4 0h1m2 0h1m0 0h1m0 0h1m0 0h1m3 0h1m6 0h1m-120 1h1m5 0h1m0 0h1m6 0h1m4 0h1m1 0h1m0 0h1m2 0h1m5 0h1m2 0h1m3 0h1m2 0h1m0 0h1m0 0h1m0 0h1m0 0h1m1 0h1m0 0h1m3 0h1m3 0h1m1 0h1m0 0h1m0 0h1m2 0h1m1 0h1m1 0h1m0 0h1m5 0h1m0 0h1m3 0h1m4 0h1m2 0h1m1 0h1m0 0h1m4 0h1m3 0h1m6 0h1m3 0h1m2 0h1m-129 1h1m12 0h1m6 0h1m2 0h1m5 0h1m1 0h1m0 0h1m6 0h1m2 0h1m6 0h1m0 0h1m0 0h1m6 0h1m1 0h1m3 0h1m8 0h1m0 0h1m1 0h1m0 0h1m0 0h1m1 0h1m0 0h1m3 0h1m1 0h1m4 0h1m2 0h1m0 0h1m2 0h1m2 0h1m3 0h1m1 0h1m2 0h1m0 0h1m4 0h1m4 0h1m1 0h1m2 0h1m0 0h1m2 0h1m-120 1h1m3 0h1m0 0h1m2 0h1m1 0h1m0 0h1m0 0h1m0 0h1m3 0h1m4 0h1m0 0h1m0 0h1m6 0h1m0 0h1m7 0h1m1 0h1m0 0h1m0 0h1m2 0h1m2 0h1m1 0h1m4 0h1m0 0h1m0 0h1m0 0h1m9 0h1m1 0h1m1 0h1m1 0h1m6 0h1m0 0h1m1 0h1m5 0h1m7 0h1m1 0h1m0 0h1m24 0h1m-134 1h1m3 0h1m23 0h1m0 0h1m3 0h1m0 0h1m1 0h1m0 0h1m0 0h1m6 0h1m0 0h1m1 0h1m1 0h1m3 0h1m0 0h1m0 0h1m0 0h1m4 0h1m1 0h1m0 0h1m0 0h1m0 0h1m0 0h1m1 0h1m5 0h1m3 0h1m9 0h1m0 0h1m0 0h1m7 0h1m5 0h1m1 0h1m3 0h1m9 0h1m-129 1h1m9 0h1m10 0h1m2 0h1m1 0h1m3 0h1m3 0h1m7 0h1m5 0h1m5 0h1m0 0h1m1 0h1m1 0h1m2 0h1m0 0h1m2 0h1m1 0h1m1 0h1m0 0h1m0 0h1m0 0h1m0 0h1m0 0h1m0 0h1m0 0h1m0 0h1m2 0h1m0 0h1m0 0h1m0 0h1m0 0h1m2 0h1m3 0h1m0 0h1m7 0h1m7 0h1m2 0h1m3 0h1m1 0h1m2 0h1m1 0h1m2 0h1m10 0h1m-139 1h1m2 0h1m6 0h1m5 0h1m1 0h1m5 0h1m8 0h1m1 0h1m0 0h1m9 0h1m3 0h1m3 0h1m0 0h1m4 0h1m5 0h1m1 0h1m4 0h1m0 0h1m4 0h1m3 0h1m6 0h1m5 0h1m2 0h1m1 0h1m3 0h1m17 0h1m3 0h1m0 0h1m5 0h1m-136 1h1m14 0h1m0 0h1m5 0h1m2 0h1m0 0h1m5 0h1m3 0h1m0 0h1m0 0h1m1 0h1m0 0h1m3 0h1m0 0h1m5 0h1m0 0h1m0 0h1m1 0h1m1 0h1m0 0h1m2 0h1m0 0h1m2 0h1m0 0h1m3 0h1m1 0h1m0 0h1m1 0h1m0 0h1m12 0h1m4 0h1m0 0h1m0 0h1m1 0h1m5 0h1m0 0h1m0 0h1m2 0h1m8 0h1m0 0h1m6 0h1m4 0h1m-128 1h1m13 0h1m8 0h1m0 0h1m0 0h1m2 0h1m1 0h1m7 0h1m2 0h1m0 0h1m4 0h1m3 0h1m2 0h1m3 0h1m1 0h1m0 0h1m2 0h1m0 0h1m0 0h1m0 0h1m1 0h1m0 0h1m0 0h1m1 0h1m1 0h1m0 0h1m1 0h1m0 0h1m2 0h1m2 0h1m1 0h1m5 0h1m12 0h1m0 0h1m6 0h1m4 0h1m3 0h1m5 0h1m6 0h1m-134 1h1m0 0h1m3 0h1m4 0h1m3 0h1m2 0h1m2 0h1m5 0h1m0 0h1m0 0h1m0 0h1m1 0h1m5 0h1m1 0h1m3 0h1m1 0h1m3 0h1m10 0h1m0 0h1m3 0h1m1 0h1m1 0h1m4 0h1m0 0h1m1 0h1m6 0h1m1 0h1m2 0h1m4 0h1m2 0h1m3 0h1m1 0h1m2 0h1m10 0h1m0 0h1m0 0h1m0 0h1m-120 1h1m2 0h1m1 0h1m0 0h1m0 0h1m0 0h1m0 0h1m7 0h1m1 0h1m0 0h1m0 0h1m0 0h1m1 0h1m0 0h1m10 0h1m0 0h1m2 0h1m7 0h1m1 0h1m1 0h1m6 0h1m0 0h1m0 0h1m1 0h1m0 0h1m0 0h1m1 0h1m0 0h1m2 0h1m1 0h1m0 0h1m0 0h1m2 0h1m2 0h1m0 0h1m2 0h1m6 0h1m0 0h1m0 0h1m1 0h1m1 0h1m1 0h1m6 0h1m5 0h1m5 0h1m6 0h1m-133 1h1m8 0h1m2 0h1m0 0h1m0 0h1m3 0h1m6 0h1m0 0h1m0 0h1m2 0h1m2 0h1m0 0h1m3 0h1m4 0h1m2 0h1m2 0h1m0 0h1m0 0h1m1 0h1m1 0h1m1 0h1m5 0h1m0 0h1m0 0h1m1 0h1m3 0h1m2 0h1m1 0h1m1 0h1m4 0h1m2 0h1m0 0h1m2 0h1m0 0h1m1 0h1m2 0h1m2 0h1m9 0h1m1 0h1m7 0h1m-127 1h1m11 0h1m1 0h1m5 0h1m0 0h1m7 0h1m1 0h1m4 0h1m2 0h1m2 0h1m0 0h1m10 0h1m1 0h1m1 0h1m0 0h1m0 0h1m2 0h1m1 0h1m2 0h1m0 0h1m1 0h1m2 0h1m2 0h1m0 0h1m1 0h1m1 0h1m0 0h1m0 0h1m1 0h1m0 0h1m1 0h1m4 0h1m1 0h1m0 0h1m0 0h1m2 0h1m11 0h1m10 0h1m0 0h1m13 0h1m-137 1h1m15 0h1m9 0h1m5 0h1m18 0h1m15 0h1m1 0h1m2 0h1m0 0h1m1 0h1m1 0h1m12 0h1m6 0h1m6 0h1m17 0h1" stroke="#a8a8f4" stroke-width="1.2" fill="none"/>
<path d="M181 22h1m-12 1h1m11 1h1m-13 1h1m3 0h1m4 0h1m-24 1h1m24 0h1m5 0h1m-22 1h1m24 0h1m-24 1h1m16 0h1m1 0h1m12 0h1m6 0h1m-52 1h1m17 0h1m1 0h1m3 0h1m2 0h1m2 0h1m-27 1h1m2 0h1m3 0h1m5 0h1m3 0h1m2 0h1m2 0h1m3 0h1m4 0h1m-30 1h1m1 0h1m2 0h1m3 0h1m2 0h1m2 0h1m3 0h1m7 0h1m3 0h1m3 0h1m-45 1h1m1 0h1m1 0h1m0 0h1m0 0h1m2 0h1m1 0h1m9 0h1m0 0h1m0 0h1m1 0h1m2 0h1m5 0h1m12 0h1m-49 1h1m1 0h1m1 0h1m9 0h1m0 0h1m3 0h1m2 0h1m0 0h1m0 0h1m1 0h1m4 0h1m0 0h1m2 0h1m2 0h1m5 0h1m2 0h1m5 0h1m-51 1h1m3 0h1m7 0h1m3 0h1m1 0h1m1 0h1m2 0h1m0 0h1m0 0h1m1 0h1m1 0h1m0 0h1m0 0h1m0 0h1m2 0h1m1 0h1m1 0h1m0 0h1m0 0h1m3 0h1m0 0h1m6 0h1m-55 1h1m0 0h1m6 0h1m1 0h1m9 0h1m0 0h1m2 0h1m1 0h1m1 0h1m2 0h1m2 0h1m5 0h1m0 0h1m-46 1h1m3 0h1m0 0h1m1 0h1m3 0h1m2 0h1m3 0h1m1 0h1m2 0h1m1 0h1m1 0h1m0 0h1m0 0h1m3 0h1m1 0h1m0 0h1m5 0h1m9 0h1m2 0h1m-58 1h1m2 0h1m0 0h1m1 0h1m2 0h1m1 0h1m0 0h1m4 0h1m5 0h1m3 0h1m4 0h1m4 0h1m2 0h1m0 0h1m1 0h1m1 0h1m8 0h1m1 0h1m5 0h1m2 0h1m-70 1h1m1 0h1m4 0h1m4 0h1m0 0h1m0 0h1m4 0h1m3 0h1m1 0h1m1 0h1m0 0h1m4 0h1m1 0h1m1 0h1m0 0h1m1 0h1m1 0h1m4 0h1m0 0h1m2 0h1m1 0h1m1 0h1m0 0h1m1 0h1m5 0h1m0 0h1m-62 1h1m0 0h1m2 0h1m1 0h1m0 0h1m1 0h1m0 0h1m0 0h1m3 0h1m0 0h1m3 0h1m0 0h1m0 0h1m4 0h1m1 0h1m0 0h1m0 0h1m0 0h1m1 0h1m5 0h1m1 0h1m5 0h1m0 0h1m2 0h1m1 0h1m2 0h1m0 0h1m4 0h1m0 0h1m-63 1h1m1 0h1m0 0h1m0 0h1m0 0h1m3 0h1m1 0h1m3 0h1m4 0h1m0 0h1m0 0h1m7 0h1m3 0h1m1 0h1m0 0h1m0 0h1m4 0h1m0 0h1m2 0h1m10 0h1m-69 1h1m4 0h1m1 0h1m2 0h1m3 0h1m0 0h1m0 0h1m3 0h1m2 0h1m0 0h1m7 0h1m3 0h1m0 0h1m2 0h1m5 0h1m0 0h1m4 0h1m0 0h1m0 0h1m1 0h1m0 0h1m5 0h1m0 0h1m4 0h1m5 0h1m-76 1h1m2 0h1m2 0h1m6 0h1m4 0h1m2 0h1m2 0h1m1 0h1m2 0h1m1 0h1m1 0h1m1 0h1m1 0h1m4 0h1m0 0h1m0 0h1m3 0h1m3 0h1m0 0h1m6 0h1m0 0h1m2 0h1m0 0h1m3 0h1m0 0h1m2 0h1m-77 1h1m0 0h1m3 0h1m0 0h1m1 0h1m0 0h1m0 0h1m0 0h1m0 0h1m2 0h1m0 0h1m6 0h1m1 0h1m1 0h1m3 0h1m4 0h1m5 0h1m3 0h1m3 0h1m4 0h1m0 0h1m1 0h1m0 0h1m0 0h1m0 0h1m0 0h1m1 0h1m3 0h1m5 0h1m4 0h1m-81 1h1m9 0h1m2 0h1m3 0h1m0 0h1m0 0h1m5 0h1m0 0h1m3 0h1m2 0h1m0 0h1m1 0h1m2 0h1m0 0h1m0 0h1m0 0h1m0 0h1m2 0h1m1 0h1m0 0h1m0 0h1m2 0h1m6 0h1m1 0h1m1 0h1m1 0h1m1 0h1m0 0h1m0 0h1m1 0h1m-72 1h1m3 0h1m2 0h1m3 0h1m1 0h1m2 0h1m0 0h1m0 0h1m4 0h1m0 0h1m3 0h1m3 0h1m3 0h1m1 0h1m0 0h1m0 0h1m3 0h1m4 0h1m1 0h1m0 0h1m2 0h1m0 0h1m3 0h1m1 0h1m0 0h1m7 0h1m1 0h1m3 0h1m-73 1h1m7 0h1m2 0h1m0 0h1m0 0h1m4 0h1m0 0h1m2 0h1m0 0h1m0 0h1m6 0h1m3 0h1m0 0h1m3 0h1m0 0h1m0 0h1m2 0h1m0 0h1m0 0h1m1 0h1m1 0h1m1 0h1m0 0h1m3 0h1m0 0h1m0 0h1m3 0h1m1 0h1m-78 1h1m10 0h1m2 0h1m1 0h1m0 0h1m1 0h1m1 0h1m0 0h1m2 0h1m3 0h1m1 0h1m0 0h1m5 0h1m3 0h1m3 0h1m0 0h1m1 0h1m0 0h1m5 0h1m3 0h1m1 0h1m3 0h1m2 0h1m2 0h1m1 0h1m2 0h1m1 0h1m0 0h1m4 0h1m2 0h1m-79 1h1m2 0h1m3 0h1m1 0h1m0 0h1m1 0h1m0 0h1m1 0h1m0 0h1m2 0h1m2 0h1m0 0h1m0 0h1m0 0h1m2 0h1m2 0h1m1 0h1m2 0h1m0 0h1m1 0h1m0 0h1m1 0h1m1 0h1m0 0h1m0 0h1m0 0h1m6 0h1m0 0h1m1 0h1m0 0h1m0 0h1m1 0h1m2 0h1m0 0h1m0 0h1m1 0h1m0 0h1m0 0h1m2 0h1m-82 1h1m2 0h1m0 0h1m0 0h1m6 0h1m0 0h1m2 0h1m5 0h1m3 0h1m1 0h1m1 0h1m6 0h1m1 0h1m0 0h1m1 0h1m2 0h1m0 0h1m0 0h1m2 0h1m1 0h1m0 0h1m0 0h1m0 0h1m1 0h1m1 0h1m0 0h1m1 0h1m0 0h1m0 0h1m1 0h1m1 0h1m1 0h1m4 0h1m0 0h1m0 0h1m0 0h1m2 0h1m-84 1h1m9 0h1m4 0h1m2 0h1m0 0h1m2 0h1m2 0h1m5 0h1m1 0h1m1 0h1m1 0h1m1 0h1m0 0h1m0 0h1m6 0h1m0 0h1m1 0h1m0 0h1m2 0h1m2 0h1m1 0h1m3 0h1m2 0h1m7 0h1m2 0h1m1 0h1m3 0h1m-82 1h1m0 0h1m0 0h1m3 0h1m1 0h1m0 0h1m0 0h1m1 0h1m1 0h1m0 0h1m0 0h1m0 0h1m0 0h1m0 0h1m1 0h1m0 0h1m0 0h1m2 0h1m5 0h1m3 0h1m1 0h1m0 0h1m6 0h1m0 0h1m3 0h1m1 0h1m0 0h1m0 0h1m11 0h1m0 0h1m2 0h1m1 0h1m0 0h1m3 0h1m1 0h1m1 0h1m-85 1h1m2 0h1m14 0h1m3 0h1m0 0h1m1 0h1m4 0h1m0 0h1m0 0h1m1 0h1m1 0h1m0 0h1m2 0h1m0 0h1m1 0h1m1 0h1m2 0h1m3 0h1m3 0h1m1 0h1m2 0h1m0 0h1m1 0h1m1 0h1m1 0h1m0 0h1m3 0h1m0 0h1m2 0h1m1 0h1m3 0h1m1 0h1m0 0h1m-91 1h1m2 0h1m3 0h1m0 0h1m3 0h1m0 0h1m0 0h1m5 0h1m2 0h1m0 0h1m4 0h1m3 0h1m1 0h1m2 0h1m0 0h1m0 0h1m1 0h1m1 0h1m2 0h1m1 0h1m2 0h1m0 0h1m2 0h1m0 0h1m0 0h1m0 0h1m0 0h1m0 0h1m2 0h1m3 0h1m1 0h1m0 0h1m2 0h1m0 0h1m2 0h1m0 0h1m3 0h1m1 0h1m1 0h1m1 0h1m2 0h1m0 0h1m-90 1h1m3 0h1m0 0h1m1 0h1m2 0h1m2 0h1m2 0h1m0 0h1m4 0h1m2 0h1m4 0h1m0 0h1m0 0h1m0 0h1m0 0h1m0 0h1m2 0h1m4 0h1m4 0h1m0 0h1m3 0h1m1 0h1m0 0h1m0 0h1m0 0h1m2 0h1m3 0h1m1 0h1m0 0h1m0 0h1m1 0h1m1 0h1m0 0h1m0 0h1m0 0h1m3 0h1m0 0h1m0 0h1m2 0h1m2 0h1m0 0h1m-91 1h1m0 0h1m0 0h1m0 0h1m0 0h1m3 0h1m2 0h1m1 0h1m1 0h1m3 0h1m0 0h1m0 0h1m0 0h1m8 0h1m1 0h1m0 0h1m0 0h1m4 0h1m3 0h1m2 0h1m2 0h1m3 0h1m2 0h1m1 0h1m2 0h1m3 0h1m0 0h1m3 0h1m0 0h1m0 0h1m2 0h1m0 0h1m0 0h1m0 0h1m1 0h1m1 0h1m0 0h1m1 0h1m3 0h1m1 0h1m-96 1h1m2 0h1m1 0h1m0 0h1m1 0h1m0 0h1m0 0h1m0 0h1m2 0h1m0 0h1m4 0h1m0 0h1m0 0h1m1 0h1m0 0h1m1 0h1m0 0h1m0 0h1m4 0h1m1 0h1m0 0h1m3 0h1m1 0h1m5 0h1m0 0h1m8 0h1m3 0h1m0 0h1m1 0h1m1 0h1m4 0h1m0 0h1m3 0h1m0 0h1m1 0h1m0 0h1m3 0h1m0 0h1m4 0h1m-92 1h1m3 0h1m3 0h1m1 0h1m2 0h1m7 0h1m3 0h1m2 0h1m5 0h1m0 0h1m1 0h1m0 0h1m0 0h1m0 0h1m0 0h1m0 0h1m0 0h1m0 0h1m1 0h1m3 0h1m0 0h1m5 0h1m1 0h1m1 0h1m0 0h1m0 0h1m1 0h1m1 0h1m2 0h1m1 0h1m0 0h1m2 0h1m2 0h1m0 0h1m0 0h1m1 0h1m4 0h1m5 0h1m1 0h1m-89 1h1m2 0h1m0 0h1m1 0h1m1 0h1m0 0h1m3 0h1m0 0h1m1 0h1m2 0h1m0 0h1m1 0h1m1 0h1m0 0h1m0 0h1m2 0h1m0 0h1m0 0h1m0 0h1m1 0h1m0 0h1m0 0h1m1 0h1m1 0h1m0 0h1m2 0h1m0 0h1m1 0h1m0 0h1m0 0h1m0 0h1m3 0h1m1 0h1m0 0h1m1 0h1m0 0h1m1 0h1m0 0h1m0 0h1m1 0h1m0 0h1m1 0h1m1 0h1m4 0h1m2 0h1m-93 1h1m8 0h1m2 0h1m0 0h1m1 0h1m0 0h1m0 0h1m1 0h1m0 0h1m2 0h1m1 0h1m2 0h1m1 0h1m0 0h1m0 0h1m0 0h1m0 0h1m0 0h1m0 0h1m2 0h1m2 0h1m0 0h1m0 0h1m2 0h1m1 0h1m0 0h1m2 0h1m0 0h1m0 0h1m2 0h1m1 0h1m2 0h1m0 0h1m0 0h1m1 0h1m1 0h1m4 0h1m1 0h1m0 0h1m2 0h1m2 0h1m0 0h1m2 0h1m0 0h1m2 0h1m2 0h1m-93 1h1m0 0h1m2 0h1m1 0h1m1 0h1m3 0h1m0 0h1m2 0h1m4 0h1m2 0h1m1 0h1m2 0h1m6 0h1m3 0h1m0 0h1m0 0h1m0 0h1m3 0h1m4 0h1m0 0h1m6 0h1m0 0h1m0 0h1m1 0h1m6 0h1m1 0h1m0 0h1m3 0h1m1 0h1m0 0h1m0 0h1m1 0h1m7 0h1m4 0h1m-100 1h1m3 0h1m0 0h1m2 0h1m5 0h1m0 0h1m0 0h1m1 0h1m1 0h1m1 0h1m2 0h1m2 0h1m4 0h1m1 0h1m2 0h1m0 0h1m0 0h1m2 0h1m7 0h1m0 0h1m6 0h1m7 0h1m2 0h1m0 0h1m1 0h1m6 0h1m0 0h1m2 0h1m1 0h1m0 0h1m1 0h1m3 0h1m1 0h1m5 0h1m-93 1h1m7 0h1m1 0h1m0 0h1m1 0h1m1 0h1m0 0h1m5 0h1m0 0h1m0 0h1m0 0h1m1 0h1m1 0h1m8 0h1m0 0h1m1 0h1m1 0h1m2 0h1m2 0h1m1 0h1m0 0h1m1 0h1m1 0h1m0 0h1m1 0h1m1 0h1m0 0h1m1 0h1m0 0h1m0 0h1m0 0h1m0 0h1m3 0h1m2 0h1m12 0h1m0 0h1m0 0h1m0 0h1m-103 1h1m1 0h1m3 0h1m1 0h1m1 0h1m1 0h1m1 0h1m2 0h1m0 0h1m7 0h1m1 0h1m1 0h1m0 0h1m1 0h1m5 0h1m0 0h1m0 0h1m8 0h1m1 0h1m0 0h1m0 0h1m2 0h1m0 0h1m1 0h1m6 0h1m0 0h1m4 0h1m4 0h1m1 0h1m0 0h1m0 0h1m0 0h1m1 0h1m1 0h1m2 0h1m5 0h1m1 0h1m0 0h1m0 0h1m1 0h1m0 0h1m-100 1h1m2 0h1m0 0h1m0 0h1m3 0h1m0 0h1m0 0h1m0 0h1m5 0h1m1 0h1m2 0h1m0 0h1m0 0h1m0 0h1m3 0h1m0 0h1m0 0h1m3 0h1m1 0h1m0 0h1m0 0h1m0 0h1m2 0h1m1 0h1m4 0h1m1 0h1m0 0h1m1 0h1m3 0h1m3 0h1m0 0h1m0 0h1m2 0h1m2 0h1m0 0h1m2 0h1m2 0h1m3 0h1m1 0h1m0 0h1m0 0h1m1 0h1m4 0h1m-95 1h1m0 0h1m4 0h1m0 0h1m0 0h1m0 0h1m4 0h1m0 0h1m1 0h1m2 0h1m3 0h1m1 0h1m0 0h1m0 0h1m2 0h1m1 0h1m0 0h1m1 0h1m0 0h1m0 0h1m3 0h1m0 0h1m1 0h1m0 0h1m1 0h1m0 0h1m0 0h1m0 0h1m0 0h1m1 0h1m1 0h1m1 0h1m2 0h1m0 0h1m4 0h1m0 0h1m5 0h1m0 0h1m1 0h1m1 0h1m1 0h1m0 0h1m0 0h1m2 0h1m0 0h1m10 0h1m-107 1h1m6 0h1m0 0h1m2 0h1m1 0h1m0 0h1m1 0h1m6 0h1m5 0h1m3 0h1m0 0h1m1 0h1m5 0h1m3 0h1m0 0h1m1 0h1m1 0h1m0 0h1m0 0h1m0 0h1m1 0h1m2 0h1m0 0h1m0 0h1m0 0h1m4 0h1m1 0h1m0 0h1m0 0h1m0 0h1m6 0h1m0 0h1m1 0h1m0 0h1m1 0h1m2 0h1m1 0h1m0 0h1m1 0h1m0 0h1m0 0h1m0 0h1m0 0h1m0 0h1m0 0h1m0 0h1m2 0h1m0 0h1m-107 1h1m6 0h1m1 0h1m0 0h1m2 0h1m2 0h1m0 0h1m0 0h1m1 0h1m0 0h1m3 0h1m0 0h1m0 0h1m1 0h1m0 0h1m1 0h1m7 0h1m1 0h1m4 0h1m1 0h1m1 0h1m1 0h1m1 0h1m0 0h1m2 0h1m1 0h1m1 0h1m8 0h1m2 0h1m0 0h1m1 0h1m2 0h1m0 0h1m1 0h1m2 0h1m2 0h1m0 0h1m0 0h1m5 0h1m6 0h1m-102 1h1m0 0h1m5 0h1m1 0h1m1 0h1m3 0h1m0 0h1m0 0h1m0 0h1m3 0h1m1 0h1m0 0h1m5 0h1m0 0h1m0 0h1m1 0h1m0 0h1m3 0h1m0 0h1m0 0h1m1 0h1m0 0h1m0 0h1m0 0h1m0 0h1m0 0h1m1 0h1m5 0h1m0 0h1m10 0h1m0 0h1m0 0h1m6 0h1m0 0h1m0 0h1m2 0h1m2 0h1m2 0h1m1 0h1m0 0h1m1 0h1m0 0h1m0 0h1m6 0h1m-98 1h1m2 0h1m0 0h1m1 0h1m0 0h1m3 0h1m1 0h1m1 0h1m1 0h1m0 0h1m0 0h1m0 0h1m0 0h1m0 0h1m2 0h1m6 0h1m3 0h1m0 0h1m0 0h1m2 0h1m1 0h1m0 0h1m1 0h1m0 0h1m1 0h1m0 0h1m0 0h1m0 0h1m0 0h1m9 0h1m1 0h1m3 0h1m0 0h1m0 0h1m1 0h1m0 0h1m0 0h1m8 0h1m0 0h1m0 0h1m0 0h1m2 0h1m3 0h1m-101 1h1m3 0h1m0 0h1m2 0h1m2 0h1m0 0h1m0 0h1m0 0h1m0 0h1m2 0h1m2 0h1m0 0h1m1 0h1m0 0h1m3 0h1m2 0h1m5 0h1m1 0h1m1 0h1m1 0h1m1 0h1m0 0h1m0 0h1m0 0h1m4 0h1m1 0h1m2 0h1m1 0h1m0 0h1m0 0h1m0 0h1m1 0h1m1 0h1m0 0h1m1 0h1m0 0h1m0 0h1m2 0h1m1 0h1m4 0h1m1 0h1m1 0h1m1 0h1m0 0h1m2 0h1m1 0h1m0 0h1m1 0h1m0 0h1m3 0h1m0 0h1m2 0h1m-109 1h1m12 0h1m0 0h1m3 0h1m3 0h1m1 0h1m0 0h1m0 0h1m0 0h1m1 0h1m1 0h1m0 0h1m2 0h1m3 0h1m1 0h1m1 0h1m3 0h1m0 0h1m2 0h1m8 0h1m0 0h1m0 0h1m0 0h1m1 0h1m0 0h1m1 0h1m1 0h1m0 0h1m0 0h1m3 0h1m2 0h1m0 0h1m0 0h1m2 0h1m2 0h1m0 0h1m6 0h1m0 0h1m-93 1h1m1 0h1m2 0h1m1 0h1m0 0h1m0 0h1m0 0h1m0 0h1m3 0h1m1 0h1m0 0h1m1 0h1m1 0h1m0 0h1m1 0h1m1 0h1m0 0h1m5 0h1m1 0h1m1 0h1m1 0h1m1 0h1m3 0h1m1 0h1m2 0h1m0 0h1m2 0h1m0 0h1m1 0h1m7 0h1m3 0h1m0 0h1m1 0h1m2 0h1m0 0h1m0 0h1m1 0h1m1 0h1m1 0h1m1 0h1m2 0h1m0 0h1m0 0h1m0 0h1m3 0h1m0 0h1m0 0h1m2 0h1m0 0h1m-103 1h1m0 0h1m0 0h1m0 0h1m0 0h1m0 0h1m0 0h1m1 0h1m2 0h1m0 0h1m1 0h1m0 0h1m1 0h1m3 0h1m0 0h1m1 0h1m0 0h1m0 0h1m0 0h1m1 0h1m0 0h1m1 0h1m0 0h1m0 0h1m0 0h1m0 0h1m0 0h1m3 0h1m3 0h1m1 0h1m0 0h1m0 0h1m2 0h1m0 0h1m0 0h1m1 0h1m0 0h1m3 0h1m3 0h1m0 0h1m1 0h1m4 0h1m1 0h1m0 0h1m0 0h1m2 0h1m1 0h1m0 0h1m0 0h1m1 0h1m2 0h1m1 0h1m0 0h1m1 0h1m0 0h1m1 0h1m1 0h1m0 0h1m0 0h1m1 0h1m1 0h1m-101 1h1m0 0h1m1 0h1m1 0h1m1 0h1m2 0h1m1 0h1m1 0h1m2 0h1m0 0h1m4 0h1m1 0h1m0 0h1m0 0h1m0 0h1m0 0h1m0 0h1m3 0h1m0 0h1m2 0h1m0 0h1m0 0h1m2 0h1m0 0h1m3 0h1m1 0h1m0 0h1m0 0h1m1 0h1m1 0h1m3 0h1m0 0h1m0 0h1m0 0h1m0 0h1m2 0h1m0 0h1m1 0h1m1 0h1m1 0h1m1 0h1m0 0h1m0 0h1m0 0h1m0 0h1m0 0h1m2 0h1m0 0h1m0 0h1m2 0h1m1 0h1m2 0h1m5 0h1m-108 1h1m0 0h1m1 0h1m1 0h1m0 0h1m3 0h1m0 0h1m1 0h1m0 0h1m1 0h1m6 0h1m8 0h1m3 0h1m2 0h1m0 0h1m0 0h1m0 0h1m2 0h1m0 0h1m1 0h1m2 0h1m2 0h1m1 0h1m2 0h1m1 0h1m0 0h1m0 0h1m0 0h1m0 0h1m4 0h1m0 0h1m0 0h1m0 0h1m1 0h1m2 0h1m2 0h1m0 0h1m0 0h1m0 0h1m0 0h1m2 0h1m0 0h1m0 0h1m1 0h1m0 0h1m1 0h1m0 0h1m1 0h1m1 0h1m1 0h1m-104 1h1m0 0h1m1 0h1m4 0h1m1 0h1m0 0h1m0 0h1m0 0h1m2 0h1m11 0h1m1 0h1m0 0h1m0 0h1m0 0h1m0 0h1m1 0h1m1 0h1m0 0h1m1 0h1m0 0h1m0 0h1m1 0h1m3 0h1m0 0h1m0 0h1m0 0h1m1 0h1m0 0h1m0 0h1m0 0h1m2 0h1m0 0h1m3 0h1m2 0h1m1 0h1m0 0h1m0 0h1m0 0h1m0 0h1m0 0h1m1 0h1m4 0h1m0 0h1m0 0h1m0 0h1m1 0h1m4 0h1m1 0h1m1 0h1m0 0h1m1 0h1m1 0h1m1 0h1m1 0h1m0 0h1m-108 1h1m4 0h1m2 0h1m0 0h1m1 0h1m0 0h1m4 0h1m1 0h1m0 0h1m3 0h1m1 0h1m4 0h1m2 0h1m0 0h1m6 0h1m1 0h1m0 0h1m2 0h1m0 0h1m1 0h1m0 0h1m0 0h1m0 0h1m0 0h1m0 0h1m1 0h1m2 0h1m2 0h1m3 0h1m3 0h1m2 0h1m10 0h1m0 0h1m0 0h1m4 0h1m3 0h1m0 0h1m0 0h1m0 0h1m2 0h1m4 0h1m-108 1h1m5 0h1m2 0h1m1 0h1m3 0h1m0 0h1m4 0h1m0 0h1m4 0h1m1 0h1m0 0h1m0 0h1m1 0h1m0 0h1m0 0h1m1 0h1m0 0h1m1 0h1m0 0h1m0 0h1m1 0h1m0 0h1m0 0h1m1 0h1m0 0h1m0 0h1m0 0h1m0 0h1m7 0h1m0 0h1m0 0h1m0 0h1m0 0h1m0 0h1m0 0h1m0 0h1m0 0h1m0 0h1m2 0h1m1 0h1m3 0h1m3 0h1m1 0h1m1 0h1m0 0h1m1 0h1m0 0h1m1 0h1m1 0h1m2 0h1m0 0h1m1 0h1m1 0h1m0 0h1m0 0h1m-100 1h1m0 0h1m1 0h1m0 0h1m1 0h1m4 0h1m0 0h1m4 0h1m1 0h1m0 0h1m5 0h1m3 0h1m1 0h1m1 0h1m2 0h1m0 0h1m1 0h1m0 0h1m8 0h1m0 0h1m1 0h1m1 0h1m0 0h1m0 0h1m1 0h1m0 0h1m0 0h1m1 0h1m2 0h1m0 0h1m1 0h1m0 0h1m0 0h1m0 0h1m3 0h1m2 0h1m1 0h1m0 0h1m1 0h1m2 0h1m1 0h1m2 0h1m0 0h1m0 0h1m3 0h1m0 0h1m-104 1h1m0 0h1m1 0h1m0 0h1m2 0h1m1 0h1m3 0h1m0 0h1m0 0h1m2 0h1m2 0h1m0 0h1m0 0h1m2 0h1m1 0h1m3 0h1m0 0h1m2 0h1m2 0h1m3 0h1m0 0h1m1 0h1m0 0h1m5 0h1m0 0h1m2 0h1m1 0h1m0 0h1m0 0h1m0 0h1m2 0h1m4 0h1m2 0h1m2 0h1m0 0h1m7 0h1m1 0h1m3 0h1m0 0h1m0 0h1m0 0h1m2 0h1m0 0h1m0 0h1m0 0h1m0 0h1m0 0h1m-100 1h1m0 0h1m0 0h1m1 0h1m0 0h1m0 0h1m2 0h1m1 0h1m1 0h1m0 0h1m4 0h1m1 0h1m1 0h1m4 0h1m1 0h1m0 0h1m1 0h1m1 0h1m3 0h1m0 0h1m0 0h1m1 0h1m0 0h1m1 0h1m1 0h1m0 0h1m2 0h1m0 0h1m0 0h1m3 0h1m1 0h1m0 0h1m2 0h1m0 0h1m1 0h1m0 0h1m0 0h1m8 0h1m0 0h1m1 0h1m2 0h1m1 0h1m0 0h1m0 0h1m5 0h1m1 0h1m1 0h1m-103 1h1m5 0h1m0 0h1m0 0h1m2 0h1m2 0h1m0 0h1m0 0h1m0 0h1m1 0h1m0 0h1m0 0h1m2 0h1m0 0h1m1 0h1m0 0h1m0 0h1m0 0h1m0 0h1m0 0h1m2 0h1m2 0h1m0 0h1m1 0h1m0 0h1m2 0h1m1 0h1m3 0h1m2 0h1m0 0h1m0 0h1m1 0h1m0 0h1m0 0h1m0 0h1m2 0h1m0 0h1m2 0h1m1 0h1m1 0h1m1 0h1m2 0h1m1 0h1m0 0h1m1 0h1m1 0h1m0 0h1m4 0h1m0 0h1m0 0h1m3 0h1m0 0h1m2 0h1m-96 1h1m0 0h1m2 0h1m1 0h1m1 0h1m1 0h1m0 0h1m0 0h1m0 0h1m1 0h1m2 0h1m1 0h1m6 0h1m5 0h1m5 0h1m1 0h1m2 0h1m0 0h1m0 0h1m0 0h1m2 0h1m4 0h1m0 0h1m0 0h1m0 0h1m0 0h1m0 0h1m0 0h1m0 0h1m0 0h1m0 0h1m0 0h1m2 0h1m0 0h1m2 0h1m2 0h1m2 0h1m1 0h1m0 0h1m0 0h1m1 0h1m0 0h1m2 0h1m0 0h1m1 0h1m1 0h1m0 0h1m0 0h1m0 0h1m2 0h1m-102 1h1m1 0h1m2 0h1m0 0h1m0 0h1m0 0h1m3 0h1m4 0h1m0 0h1m2 0h1m4 0h1m0 0h1m0 0h1m3 0h1m0 0h1m1 0h1m1 0h1m0 0h1m0 0h1m3 0h1m0 0h1m4 0h1m1 0h1m0 0h1m3 0h1m2 0h1m3 0h1m8 0h1m2 0h1m1 0h1m1 0h1m1 0h1m0 0h1m1 0h1m2 0h1m1 0h1m1 0h1m0 0h1m0 0h1m8 0h1m-106 1h1m1 0h1m2 0h1m0 0h1m4 0h1m1 0h1m1 0h1m0 0h1m3 0h1m0 0h1m0 0h1m3 0h1m0 0h1m1 0h1m0 0h1m3 0h1m0 0h1m0 0h1m0 0h1m0 0h1m8 0h1m1 0h1m2 0h1m2 0h1m1 0h1m2 0h1m2 0h1m0 0h1m0 0h1m0 0h1m0 0h1m1 0h1m2 0h1m1 0h1m0 0h1m0 0h1m0 0h1m3 0h1m0 0h1m0 0h1m2 0h1m0 0h1m1 0h1m2 0h1m0 0h1m4 0h1m0 0h1m2 0h1m-104 1h1m3 0h1m3 0h1m1 0h1m0 0h1m0 0h1m0 0h1m4 0h1m0 0h1m0 0h1m4 0h1m7 0h1m0 0h1m0 0h1m0 0h1m0 0h1m0 0h1m1 0h1m0 0h1m1 0h1m0 0h1m0 0h1m3 0h1m0 0h1m1 0h1m0 0h1m2 0h1m1 0h1m0 0h1m0 0h1m0 0h1m1 0h1m0 0h1m0 0h1m0 0h1m0 0h1m0 0h1m2 0h1m0 0h1m2 0h1m1 0h1m1 0h1m0 0h1m0 0h1m1 0h1m0 0h1m1 0h1m0 0h1m0 0h1m0 0h1m0 0h1m3 0h1m0 0h1m0 0h1m2 0h1m3 0h1m3 0h1m-105 1h1m5 0h1m4 0h1m0 0h1m2 0h1m1 0h1m0 0h1m0 0h1m4 0h1m1 0h1m1 0h1m0 0h1m0 0h1m0 0h1m2 0h1m1 0h1m3 0h1m0 0h1m0 0h1m0 0h1m0 0h1m0 0h1m0 0h1m2 0h1m0 0h1m0 0h1m2 0h1m0 0h1m3 0h1m0 0h1m1 0h1m6 0h1m9 0h1m0 0h1m2 0h1m0 0h1m1 0h1m3 0h1m2 0h1m1 0h1m0 0h1m0 0h1m0 0h1m0 0h1m3 0h1m-103 1h1m2 0h1m1 0h1m1 0h1m0 0h1m0 0h1m1 0h1m1 0h1m0 0h1m0 0h1m0 0h1m3 0h1m0 0h1m1 0h1m0 0h1m0 0h1m0 0h1m0 0h1m0 0h1m4 0h1m0 0h1m0 0h1m0 0h1m0 0h1m6 0h1m1 0h1m0 0h1m0 0h1m0 0h1m3 0h1m3 0h1m3 0h1m1 0h1m0 0h1m0 0h1m0 0h1m3 0h1m1 0h1m0 0h1m2 0h1m1 0h1m2 0h1m1 0h1m1 0h1m0 0h1m1 0h1m1 0h1m4 0h1m0 0h1m0 0h1m0 0h1m0 0h1m2 0h1m1 0h1m0 0h1m-110 1h1m5 0h1m3 0h1m0 0h1m0 0h1m0 0h1m0 0h1m0 0h1m3 0h1m0 0h1m7 0h1m1 0h1m3 0h1m0 0h1m3 0h1m0 0h1m2 0h1m4 0h1m0 0h1m0 0h1m2 0h1m4 0h1m0 0h1m0 0h1m1 0h1m1 0h1m0 0h1m0 0h1m0 0h1m1 0h1m1 0h1m2 0h1m1 0h1m1 0h1m0 0h1m0 0h1m1 0h1m3 0h1m2 0h1m0 0h1m2 0h1m3 0h1m2 0h1m0 0h1m1 0h1m1 0h1m-103 1h1m0 0h1m0 0h1m2 0h1m0 0h1m1 0h1m3 0h1m0 0h1m2 0h1m0 0h1m4 0h1m0 0h1m3 0h1m0 0h1m0 0h1m1 0h1m3 0h1m1 0h1m0 0h1m2 0h1m0 0h1m1 0h1m0 0h1m0 0h1m4 0h1m2 0h1m1 0h1m0 0h1m4 0h1m2 0h1m0 0h1m1 0h1m0 0h1m0 0h1m2 0h1m0 0h1m0 0h1m0 0h1m1 0h1m2 0h1m0 0h1m0 0h1m1 0h1m0 0h1m1 0h1m2 0h1m0 0h1m3 0h1m0 0h1m0 0h1m1 0h1m0 0h1m0 0h1m1 0h1m-107 1h1m1 0h1m3 0h1m0 0h1m1 0h1m0 0h1m0 0h1m0 0h1m0 0h1m4 0h1m0 0h1m1 0h1m2 0h1m2 0h1m0 0h1m3 0h1m0 0h1m0 0h1m5 0h1m1 0h1m3 0h1m2 0h1m1 0h1m3 0h1m2 0h1m0 0h1m0 0h1m2 0h1m1 0h1m0 0h1m0 0h1m1 0h1m0 0h1m0 0h1m2 0h1m1 0h1m0 0h1m0 0h1m4 0h1m2 0h1m1 0h1m3 0h1m3 0h1m0 0h1m1 0h1m0 0h1m1 0h1m0 0h1m1 0h1m-105 1h1m0 0h1m1 0h1m0 0h1m0 0h1m4 0h1m4 0h1m2 0h1m1 0h1m0 0h1m2 0h1m0 0h1m0 0h1m4 0h1m1 0h1m2 0h1m2 0h1m1 0h1m2 0h1m0 0h1m6 0h1m0 0h1m1 0h1m0 0h1m0 0h1m1 0h1m0 0h1m1 0h1m0 0h1m0 0h1m0 0h1m0 0h1m1 0h1m0 0h1m7 0h1m2 0h1m1 0h1m0 0h1m0 0h1m0 0h1m0 0h1m0 0h1m0 0h1m2 0h1m1 0h1m1 0h1m1 0h1m0 0h1m0 0h1m0 0h1m1 0h1m0 0h1m1 0h1m-106 1h1m1 0h1m2 0h1m1 0h1m0 0h1m0 0h1m0 0h1m1 0h1m0 0h1m4 0h1m0 0h1m0 0h1m0 0h1m2 0h1m0 0h1m2 0h1m3 0h1m0 0h1m0 0h1m2 0h1m2 0h1m0 0h1m2 0h1m0 0h1m0 0h1m0 0h1m3 0h1m0 0h1m4 0h1m0 0h1m0 0h1m3 0h1m1 0h1m1 0h1m0 0h1m0 0h1m0 0h1m1 0h1m0 0h1m1 0h1m1 0h1m0 0h1m0 0h1m3 0h1m0 0h1m0 0h1m1 0h1m2 0h1m1 0h1m0 0h1m3 0h1m0 0h1m0 0h1m0 0h1m0 0h1m0 0h1m0 0h1m2 0h1m-109 1h1m1 0h1m3 0h1m0 0h1m0 0h1m0 0h1m0 0h1m0 0h1m1 0h1m2 0h1m1 0h1m0 0h1m1 0h1m1 0h1m1 0h1m0 0h1m2 0h1m2 0h1m0 0h1m3 0h1m0 0h1m0 0h1m0 0h1m0 0h1m0 0h1m0 0h1m0 0h1m2 0h1m1 0h1m1 0h1m3 0h1m3 0h1m0 0h1m0 0h1m0 0h1m0 0h1m1 0h1m0 0h1m0 0h1m1 0h1m0 0h1m2 0h1m0 0h1m2 0h1m1 0h1m0 0h1m0 0h1m0 0h1m2 0h1m1 0h1m2 0h1m2 0h1m1 0h1m0 0h1m0 0h1m4 0h1m1 0h1m7 0h1m-108 1h1m1 0h1m0 0h1m0 0h1m0 0h1m0 0h1m2 0h1m3 0h1m1 0h1m2 0h1m0 0h1m4 0h1m2 0h1m1 0h1m1 0h1m2 0h1m0 0h1m1 0h1m3 0h1m0 0h1m1 0h1m2 0h1m0 0h1m0 0h1m0 0h1m2 0h1m2 0h1m3 0h1m0 0h1m0 0h1m4 0h1m0 0h1m0 0h1m2 0h1m0 0h1m0 0h1m0 0h1m0 0h1m2 0h1m0 0h1m0 0h1m0 0h1m3 0h1m3 0h1m0 0h1m0 0h1m0 0h1m1 0h1m4 0h1m0 0h1m-105 1h1m2 0h1m0 0h1m0 0h1m0 0h1m3 0h1m2 0h1m0 0h1m0 0h1m2 0h1m2 0h1m2 0h1m0 0h1m0 0h1m0 0h1m1 0h1m1 0h1m0 0h1m2 0h1m1 0h1m0 0h1m2 0h1m0 0h1m2 0h1m0 0h1m1 0h1m1 0h1m2 0h1m1 0h1m1 0h1m0 0h1m3 0h1m1 0h1m3 0h1m0 0h1m0 0h1m0 0h1m0 0h1m1 0h1m1 0h1m0 0h1m0 0h1m0 0h1m0 0h1m2 0h1m2 0h1m1 0h1m2 0h1m2 0h1m1 0h1m0 0h1m0 0h1m1 0h1m0 0h1m0 0h1m2 0h1m-106 1h1m0 0h1m1 0h1m0 0h1m0 0h1m0 0h1m0 0h1m0 0h1m6 0h1m2 0h1m1 0h1m1 0h1m2 0h1m1 0h1m2 0h1m1 0h1m0 0h1m0 0h1m7 0h1m6 0h1m1 0h1m2 0h1m0 0h1m0 0h1m1 0h1m2 0h1m4 0h1m0 0h1m0 0h1m1 0h1m0 0h1m0 0h1m1 0h1m1 0h1m0 0h1m3 0h1m1 0h1m0 0h1m3 0h1m5 0h1m1 0h1m0 0h1m1 0h1m4 0h1m-100 1h1m0 0h1m0 0h1m2 0h1m2 0h1m0 0h1m0 0h1m0 0h1m1 0h1m1 0h1m0 0h1m3 0h1m2 0h1m0 0h1m0 0h1m1 0h1m1 0h1m2 0h1m1 0h1m1 0h1m0 0h1m0 0h1m1 0h1m2 0h1m3 0h1m1 0h1m3 0h1m1 0h1m0 0h1m0 0h1m1 0h1m0 0h1m1 0h1m2 0h1m2 0h1m0 0h1m0 0h1m0 0h1m0 0h1m0 0h1m0 0h1m2 0h1m1 0h1m0 0h1m0 0h1m0 0h1m1 0h1m0 0h1m0 0h1m1 0h1m0 0h1m9 0h1m0 0h1m-103 1h1m0 0h1m0 0h1m1 0h1m0 0h1m0 0h1m0 0h1m1 0h1m1 0h1m0 0h1m0 0h1m1 0h1m0 0h1m2 0h1m0 0h1m0 0h1m1 0h1m0 0h1m4 0h1m0 0h1m0 0h1m4 0h1m2 0h1m0 0h1m0 0h1m3 0h1m0 0h1m0 0h1m0 0h1m0 0h1m0 0h1m1 0h1m0 0h1m0 0h1m2 0h1m0 0h1m0 0h1m1 0h1m1 0h1m0 0h1m0 0h1m1 0h1m1 0h1m0 0h1m0 0h1m2 0h1m2 0h1m4 0h1m0 0h1m0 0h1m0 0h1m1 0h1m0 0h1m0 0h1m0 0h1m0 0h1m1 0h1m3 0h1m0 0h1m-97 1h1m1 0h1m3 0h1m1 0h1m1 0h1m0 0h1m3 0h1m1 0h1m6 0h1m0 0h1m0 0h1m1 0h1m1 0h1m0 0h1m2 0h1m0 0h1m0 0h1m0 0h1m0 0h1m6 0h1m0 0h1m1 0h1m0 0h1m2 0h1m2 0h1m0 0h1m0 0h1m0 0h1m0 0h1m4 0h1m0 0h1m1 0h1m0 0h1m0 0h1m0 0h1m2 0h1m2 0h1m1 0h1m3 0h1m1 0h1m1 0h1m1 0h1m1 0h1m0 0h1m0 0h1m0 0h1m4 0h1m0 0h1m9 0h1m-115 1h1m2 0h1m0 0h1m1 0h1m1 0h1m0 0h1m1 0h1m1 0h1m0 0h1m0 0h1m0 0h1m0 0h1m1 0h1m0 0h1m1 0h1m1 0h1m1 0h1m0 0h1m3 0h1m2 0h1m0 0h1m0 0h1m0 0h1m1 0h1m1 0h1m0 0h1m2 0h1m3 0h1m2 0h1m1 0h1m0 0h1m2 0h1m1 0h1m0 0h1m2 0h1m0 0h1m1 0h1m1 0h1m3 0h1m0 0h1m1 0h1m1 0h1m3 0h1m0 0h1m0 0h1m0 0h1m0 0h1m0 0h1m1 0h1m1 0h1m0 0h1m1 0h1m0 0h1m0 0h1m1 0h1m1 0h1m-97 1h1m1 0h1m2 0h1m3 0h1m0 0h1m1 0h1m1 0h1m4 0h1m1 0h1m3 0h1m1 0h1m0 0h1m1 0h1m0 0h1m0 0h1m1 0h1m1 0h1m1 0h1m1 0h1m4 0h1m0 0h1m0 0h1m1 0h1m3 0h1m4 0h1m2 0h1m0 0h1m0 0h1m1 0h1m1 0h1m2 0h1m3 0h1m1 0h1m1 0h1m7 0h1m1 0h1m0 0h1m0 0h1m0 0h1m0 0h1m0 0h1m0 0h1m0 0h1m0 0h1m1 0h1m0 0h1m4 0h1m-105 1h1m2 0h1m0 0h1m0 0h1m0 0h1m6 0h1m0 0h1m1 0h1m0 0h1m0 0h1m1 0h1m0 0h1m0 0h1m1 0h1m1 0h1m0 0h1m1 0h1m2 0h1m1 0h1m0 0h1m1 0h1m0 0h1m0 0h1m0 0h1m1 0h1m0 0h1m9 0h1m0 0h1m0 0h1m0 0h1m2 0h1m1 0h1m3 0h1m3 0h1m0 0h1m0 0h1m0 0h1m3 0h1m3 0h1m0 0h1m0 0h1m0 0h1m4 0h1m1 0h1m1 0h1m0 0h1m0 0h1m3 0h1m2 0h1m-106 1h1m3 0h1m3 0h1m1 0h1m0 0h1m2 0h1m1 0h1m1 0h1m1 0h1m0 0h1m0 0h1m1 0h1m3 0h1m4 0h1m1 0h1m3 0h1m2 0h1m0 0h1m0 0h1m1 0h1m0 0h1m0 0h1m0 0h1m0 0h1m0 0h1m0 0h1m0 0h1m0 0h1m6 0h1m2 0h1m2 0h1m0 0h1m0 0h1m1 0h1m0 0h1m6 0h1m0 0h1m1 0h1m1 0h1m0 0h1m3 0h1m0 0h1m0 0h1m0 0h1m0 0h1m2 0h1m2 0h1m0 0h1m0 0h1m0 0h1m1 0h1m-100 1h1m2 0h1m1 0h1m0 0h1m3 0h1m2 0h1m2 0h1m0 0h1m1 0h1m0 0h1m0 0h1m1 0h1m0 0h1m2 0h1m0 0h1m3 0h1m2 0h1m0 0h1m1 0h1m3 0h1m2 0h1m0 0h1m1 0h1m0 0h1m1 0h1m0 0h1m3 0h1m3 0h1m1 0h1m2 0h1m0 0h1m2 0h1m0 0h1m0 0h1m0 0h1m0 0h1m0 0h1m0 0h1m2 0h1m2 0h1m0 0h1m0 0h1m1 0h1m0 0h1m2 0h1m2 0h1m0 0h1m2 0h1m3 0h1m-106 1h1m5 0h1m1 0h1m1 0h1m1 0h1m0 0h1m0 0h1m2 0h1m1 0h1m1 0h1m0 0h1m0 0h1m2 0h1m0 0h1m2 0h1m2 0h1m0 0h1m1 0h1m0 0h1m0 0h1m8 0h1m0 0h1m1 0h1m0 0h1m2 0h1m0 0h1m1 0h1m2 0h1m0 0h1m0 0h1m9 0h1m1 0h1m2 0h1m1 0h1m0 0h1m3 0h1m0 0h1m1 0h1m5 0h1m0 0h1m0 0h1m0 0h1m4 0h1m0 0h1m0 0h1m0 0h1m1 0h1m0 0h1m-108 1h1m4 0h1m0 0h1m1 0h1m1 0h1m0 0h1m4 0h1m1 0h1m2 0h1m0 0h1m0 0h1m0 0h1m0 0h1m0 0h1m1 0h1m1 0h1m4 0h1m0 0h1m0 0h1m1 0h1m0 0h1m0 0h1m0 0h1m0 0h1m0 0h1m0 0h1m0 0h1m1 0h1m0 0h1m0 0h1m1 0h1m1 0h1m0 0h1m0 0h1m0 0h1m0 0h1m0 0h1m0 0h1m0 0h1m0 0h1m0 0h1m0 0h1m0 0h1m0 0h1m0 0h1m0 0h1m0 0h1m1 0h1m1 0h1m0 0h1m0 0h1m0 0h1m0 0h1m1 0h1m1 0h1m1 0h1m2 0h1m3 0h1m1 0h1m0 0h1m0 0h1m6 0h1m3 0h1m0 0h1m0 0h1m-105 1h1m1 0h1m1 0h1m2 0h1m1 0h1m0 0h1m1 0h1m0 0h1m1 0h1m2 0h1m0 0h1m3 0h1m0 0h1m2 0h1m1 0h1m0 0h1m1 0h1m0 0h1m1 0h1m0 0h1m0 0h1m1 0h1m1 0h1m1 0h1m0 0h1m0 0h1m2 0h1m1 0h1m3 0h1m1 0h1m0 0h1m0 0h1m0 0h1m1 0h1m0 0h1m0 0h1m1 0h1m3 0h1m0 0h1m2 0h1m0 0h1m0 0h1m0 0h1m0 0h1m0 0h1m1 0h1m0 0h1m2 0h1m0 0h1m4 0h1m0 0h1m0 0h1m0 0h1m0 0h1m0 0h1m0 0h1m0 0h1m0 0h1m0 0h1m4 0h1m-102 1h1m1 0h1m2 0h1m3 0h1m0 0h1m1 0h1m3 0h1m0 0h1m1 0h1m0 0h1m1 0h1m1 0h1m0 0h1m1 0h1m0 0h1m2 0h1m0 0h1m3 0h1m4 0h1m0 0h1m1 0h1m0 0h1m0 0h1m0 0h1m0 0h1m1 0h1m2 0h1m1 0h1m0 0h1m4 0h1m2 0h1m2 0h1m0 0h1m3 0h1m0 0h1m1 0h1m0 0h1m1 0h1m0 0h1m1 0h1m0 0h1m1 0h1m0 0h1m1 0h1m0 0h1m0 0h1m2 0h1m2 0h1m0 0h1m-104 1h1m2 0h1m1 0h1m1 0h1m1 0h1m0 0h1m0 0h1m0 0h1m3 0h1m2 0h1m7 0h1m0 0h1m0 0h1m3 0h1m0 0h1m0 0h1m2 0h1m0 0h1m1 0h1m1 0h1m0 0h1m2 0h1m0 0h1m0 0h1m0 0h1m5 0h1m0 0h1m0 0h1m0 0h1m0 0h1m1 0h1m0 0h1m0 0h1m2 0h1m2 0h1m0 0h1m0 0h1m0 0h1m0 0h1m1 0h1m0 0h1m0 0h1m0 0h1m1 0h1m0 0h1m0 0h1m3 0h1m1 0h1m2 0h1m0 0h1m1 0h1m1 0h1m0 0h1m2 0h1m0 0h1m0 0h1m0 0h1m0 0h1m0 0h1m-104 1h1m0 0h1m0 0h1m6 0h1m2 0h1m0 0h1m1 0h1m0 0h1m2 0h1m2 0h1m1 0h1m1 0h1m2 0h1m0 0h1m0 0h1m0 0h1m1 0h1m3 0h1m0 0h1m0 0h1m1 0h1m0 0h1m1 0h1m0 0h1m0 0h1m0 0h1m1 0h1m0 0h1m7 0h1m0 0h1m1 0h1m1 0h1m1 0h1m1 0h1m0 0h1m1 0h1m1 0h1m0 0h1m3 0h1m2 0h1m0 0h1m4 0h1m4 0h1m1 0h1m1 0h1m0 0h1m1 0h1m0 0h1m3 0h1m1 0h1m-103 1h1m2 0h1m0 0h1m2 0h1m0 0h1m2 0h1m3 0h1m2 0h1m0 0h1m0 0h1m1 0h1m1 0h1m0 0h1m1 0h1m0 0h1m3 0h1m0 0h1m2 0h1m0 0h1m1 0h1m0 0h1m1 0h1m7 0h1m1 0h1m0 0h1m3 0h1m0 0h1m4 0h1m0 0h1m4 0h1m1 0h1m0 0h1m0 0h1m1 0h1m0 0h1m0 0h1m0 0h1m0 0h1m0 0h1m1 0h1m1 0h1m0 0h1m0 0h1m0 0h1m1 0h1m1 0h1m1 0h1m2 0h1m0 0h1m0 0h1m-108 1h1m6 0h1m3 0h1m1 0h1m1 0h1m1 0h1m0 0h1m0 0h1m0 0h1m0 0h1m2 0h1m0 0h1m0 0h1m0 0h1m0 0h1m0 0h1m3 0h1m0 0h1m0 0h1m0 0h1m1 0h1m0 0h1m0 0h1m1 0h1m0 0h1m0 0h1m0 0h1m2 0h1m4 0h1m0 0h1m2 0h1m0 0h1m0 0h1m0 0h1m1 0h1m1 0h1m2 0h1m1 0h1m3 0h1m0 0h1m0 0h1m0 0h1m0 0h1m1 0h1m1 0h1m0 0h1m0 0h1m1 0h1m2 0h1m1 0h1m0 0h1m2 0h1m0 0h1m0 0h1m1 0h1m1 0h1m1 0h1m-104 1h1m5 0h1m2 0h1m0 0h1m0 0h1m2 0h1m2 0h1m1 0h1m1 0h1m1 0h1m0 0h1m1 0h1m0 0h1m1 0h1m1 0h1m1 0h1m0 0h1m1 0h1m0 0h1m0 0h1m0 0h1m0 0h1m0 0h1m0 0h1m1 0h1m0 0h1m1 0h1m1 0h1m0 0h1m1 0h1m0 0h1m3 0h1m1 0h1m0 0h1m0 0h1m2 0h1m0 0h1m1 0h1m4 0h1m1 0h1m1 0h1m1 0h1m3 0h1m1 0h1m2 0h1m1 0h1m6 0h1m0 0h1m0 0h1m1 0h1m2 0h1m0 0h1m1 0h1m-101 1h1m0 0h1m1 0h1m0 0h1m0 0h1m0 0h1m1 0h1m0 0h1m8 0h1m0 0h1m2 0h1m4 0h1m2 0h1m4 0h1m0 0h1m0 0h1m3 0h1m1 0h1m2 0h1m1 0h1m0 0h1m0 0h1m1 0h1m0 0h1m1 0h1m0 0h1m0 0h1m4 0h1m2 0h1m0 0h1m1 0h1m0 0h1m1 0h1m0 0h1m2 0h1m0 0h1m2 0h1m0 0h1m0 0h1m0 0h1m0 0h1m0 0h1m0 0h1m2 0h1m0 0h1m1 0h1m1 0h1m1 0h1m0 0h1m1 0h1m3 0h1m-98 1h1m1 0h1m0 0h1m0 0h1m1 0h1m0 0h1m0 0h1m3 0h1m2 0h1m1 0h1m1 0h1m0 0h1m0 0h1m1 0h1m1 0h1m0 0h1m1 0h1m0 0h1m1 0h1m0 0h1m0 0h1m1 0h1m0 0h1m2 0h1m0 0h1m6 0h1m0 0h1m0 0h1m0 0h1m0 0h1m3 0h1m2 0h1m0 0h1m0 0h1m1 0h1m0 0h1m0 0h1m1 0h1m1 0h1m0 0h1m0 0h1m5 0h1m2 0h1m4 0h1m2 0h1m2 0h1m1 0h1m0 0h1m0 0h1m0 0h1m-104 1h1m0 0h1m1 0h1m1 0h1m1 0h1m1 0h1m0 0h1m0 0h1m0 0h1m1 0h1m0 0h1m0 0h1m2 0h1m3 0h1m0 0h1m0 0h1m1 0h1m1 0h1m2 0h1m2 0h1m2 0h1m3 0h1m2 0h1m0 0h1m3 0h1m0 0h1m1 0h1m0 0h1m3 0h1m1 0h1m1 0h1m3 0h1m3 0h1m1 0h1m0 0h1m1 0h1m0 0h1m3 0h1m0 0h1m0 0h1m0 0h1m0 0h1m2 0h1m0 0h1m0 0h1m1 0h1m1 0h1m0 0h1m1 0h1m1 0h1m4 0h1m-102 1h1m1 0h1m2 0h1m1 0h1m2 0h1m3 0h1m3 0h1m1 0h1m1 0h1m3 0h1m0 0h1m2 0h1m0 0h1m1 0h1m0 0h1m3 0h1m0 0h1m1 0h1m0 0h1m1 0h1m1 0h1m0 0h1m0 0h1m1 0h1m0 0h1m1 0h1m0 0h1m0 0h1m1 0h1m0 0h1m0 0h1m3 0h1m0 0h1m1 0h1m0 0h1m1 0h1m0 0h1m1 0h1m0 0h1m0 0h1m0 0h1m7 0h1m0 0h1m1 0h1m0 0h1m1 0h1m2 0h1m0 0h1m0 0h1m11 0h1m-107 1h1m3 0h1m0 0h1m0 0h1m1 0h1m0 0h1m0 0h1m1 0h1m0 0h1m1 0h1m1 0h1m0 0h1m0 0h1m4 0h1m0 0h1m1 0h1m0 0h1m0 0h1m0 0h1m0 0h1m3 0h1m0 0h1m0 0h1m1 0h1m1 0h1m1 0h1m0 0h1m0 0h1m1 0h1m0 0h1m1 0h1m1 0h1m2 0h1m3 0h1m1 0h1m0 0h1m1 0h1m0 0h1m0 0h1m1 0h1m0 0h1m5 0h1m0 0h1m1 0h1m1 0h1m0 0h1m1 0h1m0 0h1m0 0h1m1 0h1m0 0h1m1 0h1m2 0h1m0 0h1m1 0h1m-100 1h1m5 0h1m2 0h1m0 0h1m0 0h1m3 0h1m3 0h1m0 0h1m0 0h1m1 0h1m0 0h1m0 0h1m0 0h1m0 0h1m0 0h1m0 0h1m0 0h1m3 0h1m0 0h1m0 0h1m0 0h1m0 0h1m0 0h1m3 0h1m1 0h1m0 0h1m0 0h1m0 0h1m2 0h1m0 0h1m0 0h1m2 0h1m1 0h1m2 0h1m0 0h1m2 0h1m3 0h1m2 0h1m1 0h1m0 0h1m0 0h1m1 0h1m4 0h1m0 0h1m0 0h1m0 0h1m3 0h1m0 0h1m4 0h1m0 0h1m1 0h1m0 0h1m1 0h1m3 0h1m-104 1h1m0 0h1m3 0h1m0 0h1m0 0h1m0 0h1m0 0h1m4 0h1m2 0h1m0 0h1m3 0h1m0 0h1m0 0h1m1 0h1m0 0h1m0 0h1m2 0h1m0 0h1m2 0h1m0 0h1m0 0h1m4 0h1m0 0h1m0 0h1m1 0h1m0 0h1m0 0h1m3 0h1m1 0h1m1 0h1m1 0h1m2 0h1m5 0h1m3 0h1m2 0h1m0 0h1m0 0h1m1 0h1m1 0h1m0 0h1m2 0h1m0 0h1m0 0h1m3 0h1m3 0h1m3 0h1m2 0h1m-104 1h1m0 0h1m1 0h1m10 0h1m0 0h1m0 0h1m2 0h1m0 0h1m1 0h1m2 0h1m0 0h1m0 0h1m4 0h1m0 0h1m0 0h1m0 0h1m2 0h1m0 0h1m3 0h1m3 0h1m1 0h1m0 0h1m2 0h1m1 0h1m0 0h1m0 0h1m1 0h1m0 0h1m0 0h1m2 0h1m0 0h1m0 0h1m0 0h1m0 0h1m0 0h1m0 0h1m5 0h1m0 0h1m0 0h1m0 0h1m3 0h1m0 0h1m0 0h1m0 0h1m1 0h1m1 0h1m0 0h1m1 0h1m4 0h1m0 0h1m0 0h1m0 0h1m0 0h1m4 0h1m0 0h1m-107 1h1m1 0h1m0 0h1m0 0h1m0 0h1m4 0h1m1 0h1m3 0h1m3 0h1m0 0h1m2 0h1m1 0h1m0 0h1m2 0h1m0 0h1m1 0h1m1 0h1m2 0h1m3 0h1m0 0h1m0 0h1m0 0h1m2 0h1m1 0h1m0 0h1m5 0h1m0 0h1m1 0h1m1 0h1m2 0h1m0 0h1m0 0h1m0 0h1m0 0h1m1 0h1m0 0h1m1 0h1m0 0h1m0 0h1m0 0h1m0 0h1m0 0h1m0 0h1m2 0h1m1 0h1m2 0h1m1 0h1m0 0h1m1 0h1m1 0h1m1 0h1m2 0h1m2 0h1m-105 1h1m1 0h1m0 0h1m0 0h1m1 0h1m0 0h1m1 0h1m2 0h1m0 0h1m0 0h1m5 0h1m5 0h1m0 0h1m6 0h1m1 0h1m1 0h1m2 0h1m0 0h1m1 0h1m1 0h1m0 0h1m0 0h1m0 0h1m0 0h1m0 0h1m1 0h1m1 0h1m1 0h1m0 0h1m0 0h1m0 0h1m0 0h1m0 0h1m0 0h1m0 0h1m2 0h1m0 0h1m4 0h1m4 0h1m0 0h1m0 0h1m1 0h1m0 0h1m0 0h1m0 0h1m0 0h1m0 0h1m2 0h1m0 0h1m0 0h1m1 0h1m0 0h1m1 0h1m5 0h1m-100 1h1m0 0h1m1 0h1m4 0h1m0 0h1m4 0h1m1 0h1m1 0h1m0 0h1m0 0h1m1 0h1m2 0h1m0 0h1m1 0h1m0 0h1m1 0h1m1 0h1m0 0h1m2 0h1m0 0h1m0 0h1m2 0h1m0 0h1m0 0h1m2 0h1m0 0h1m0 0h1m4 0h1m3 0h1m0 0h1m0 0h1m0 0h1m0 0h1m0 0h1m1 0h1m2 0h1m0 0h1m1 0h1m0 0h1m1 0h1m2 0h1m3 0h1m2 0h1m2 0h1m0 0h1m2 0h1m2 0h1m1 0h1m4 0h1m-106 1h1m0 0h1m0 0h1m3 0h1m0 0h1m0 0h1m0 0h1m0 0h1m2 0h1m0 0h1m0 0h1m0 0h1m7 0h1m2 0h1m0 0h1m0 0h1m0 0h1m0 0h1m1 0h1m0 0h1m0 0h1m1 0h1m2 0h1m0 0h1m2 0h1m0 0h1m0 0h1m0 0h1m0 0h1m1 0h1m0 0h1m0 0h1m0 0h1m3 0h1m0 0h1m1 0h1m0 0h1m0 0h1m2 0h1m5 0h1m0 0h1m2 0h1m0 0h1m3 0h1m0 0h1m2 0h1m0 0h1m4 0h1m0 0h1m0 0h1m1 0h1m2 0h1m0 0h1m0 0h1m1 0h1m0 0h1m1 0h1m-99 1h1m1 0h1m1 0h1m1 0h1m1 0h1m2 0h1m0 0h1m2 0h1m0 0h1m0 0h1m0 0h1m1 0h1m2 0h1m2 0h1m1 0h1m0 0h1m2 0h1m0 0h1m0 0h1m0 0h1m0 0h1m0 0h1m1 0h1m1 0h1m3 0h1m1 0h1m3 0h1m0 0h1m1 0h1m3 0h1m1 0h1m0 0h1m4 0h1m0 0h1m0 0h1m0 0h1m0 0h1m0 0h1m0 0h1m0 0h1m0 0h1m2 0h1m0 0h1m0 0h1m2 0h1m0 0h1m0 0h1m0 0h1m2 0h1m7 0h1m-103 1h1m2 0h1m0 0h1m1 0h1m1 0h1m3 0h1m0 0h1m3 0h1m1 0h1m0 0h1m0 0h1m1 0h1m0 0h1m0 0h1m0 0h1m4 0h1m1 0h1m0 0h1m1 0h1m1 0h1m0 0h1m1 0h1m0 0h1m0 0h1m3 0h1m0 0h1m5 0h1m4 0h1m4 0h1m0 0h1m1 0h1m1 0h1m2 0h1m0 0h1m0 0h1m1 0h1m1 0h1m0 0h1m0 0h1m0 0h1m0 0h1m0 0h1m0 0h1m0 0h1m2 0h1m0 0h1m0 0h1m0 0h1m1 0h1m1 0h1m0 0h1m1 0h1m0 0h1m0 0h1m-104 1h1m1 0h1m2 0h1m2 0h1m0 0h1m3 0h1m0 0h1m2 0h1m0 0h1m0 0h1m3 0h1m0 0h1m1 0h1m1 0h1m0 0h1m0 0h1m1 0h1m0 0h1m0 0h1m0 0h1m0 0h1m2 0h1m0 0h1m0 0h1m0 0h1m0 0h1m1 0h1m4 0h1m0 0h1m0 0h1m6 0h1m0 0h1m1 0h1m0 0h1m0 0h1m1 0h1m1 0h1m0 0h1m3 0h1m1 0h1m1 0h1m1 0h1m0 0h1m0 0h1m0 0h1m1 0h1m2 0h1m0 0h1m1 0h1m1 0h1m0 0h1m0 0h1m0 0h1m1 0h1m0 0h1m1 0h1m3 0h1m-101 1h1m1 0h1m2 0h1m1 0h1m1 0h1m1 0h1m1 0h1m0 0h1m4 0h1m0 0h1m0 0h1m1 0h1m0 0h1m0 0h1m0 0h1m2 0h1m1 0h1m1 0h1m0 0h1m1 0h1m1 0h1m0 0h1m2 0h1m0 0h1m1 0h1m0 0h1m3 0h1m1 0h1m0 0h1m1 0h1m1 0h1m0 0h1m6 0h1m3 0h1m1 0h1m0 0h1m0 0h1m6 0h1m1 0h1m0 0h1m0 0h1m1 0h1m0 0h1m3 0h1m0 0h1m0 0h1m0 0h1m2 0h1m0 0h1m0 0h1m5 0h1m-108 1h1m1 0h1m1 0h1m1 0h1m3 0h1m0 0h1m2 0h1m5 0h1m0 0h1m0 0h1m0 0h1m2 0h1m0 0h1m2 0h1m10 0h1m1 0h1m2 0h1m0 0h1m0 0h1m0 0h1m0 0h1m1 0h1m2 0h1m3 0h1m0 0h1m0 0h1m0 0h1m0 0h1m2 0h1m0 0h1m1 0h1m3 0h1m2 0h1m2 0h1m0 0h1m5 0h1m2 0h1m0 0h1m0 0h1m0 0h1m0 0h1m1 0h1m0 0h1m1 0h1m0 0h1m-100 1h1m0 0h1m2 0h1m7 0h1m0 0h1m0 0h1m1 0h1m1 0h1m0 0h1m4 0h1m0 0h1m1 0h1m2 0h1m1 0h1m0 0h1m1 0h1m1 0h1m0 0h1m0 0h1m1 0h1m1 0h1m0 0h1m3 0h1m1 0h1m1 0h1m3 0h1m0 0h1m0 0h1m1 0h1m0 0h1m4 0h1m0 0h1m0 0h1m3 0h1m1 0h1m1 0h1m0 0h1m1 0h1m3 0h1m1 0h1m0 0h1m3 0h1m1 0h1m1 0h1m0 0h1m2 0h1m6 0h1m-104 1h1m0 0h1m1 0h1m1 0h1m2 0h1m2 0h1m1 0h1m0 0h1m0 0h1m0 0h1m0 0h1m0 0h1m1 0h1m2 0h1m0 0h1m2 0h1m2 0h1m0 0h1m0 0h1m0 0h1m2 0h1m0 0h1m0 0h1m0 0h1m6 0h1m3 0h1m0 0h1m6 0h1m0 0h1m0 0h1m0 0h1m1 0h1m1 0h1m0 0h1m1 0h1m0 0h1m3 0h1m0 0h1m0 0h1m0 0h1m0 0h1m0 0h1m1 0h1m0 0h1m0 0h1m1 0h1m0 0h1m0 0h1m2 0h1m0 0h1m2 0h1m1 0h1m0 0h1m2 0h1m0 0h1m-101 1h1m3 0h1m0 0h1m1 0h1m1 0h1m3 0h1m1 0h1m7 0h1m0 0h1m0 0h1m2 0h1m2 0h1m2 0h1m0 0h1m0 0h1m1 0h1m4 0h1m0 0h1m0 0h1m0 0h1m1 0h1m0 0h1m0 0h1m0 0h1m1 0h1m0 0h1m2 0h1m2 0h1m0 0h1m0 0h1m1 0h1m0 0h1m0 0h1m0 0h1m1 0h1m2 0h1m0 0h1m1 0h1m0 0h1m1 0h1m2 0h1m2 0h1m0 0h1m2 0h1m0 0h1m0 0h1m4 0h1m0 0h1m0 0h1m0 0h1m1 0h1m3 0h1m-108 1h1m2 0h1m4 0h1m4 0h1m0 0h1m0 0h1m0 0h1m0 0h1m3 0h1m0 0h1m2 0h1m0 0h1m2 0h1m0 0h1m2 0h1m0 0h1m0 0h1m0 0h1m1 0h1m0 0h1m0 0h1m0 0h1m5 0h1m0 0h1m0 0h1m0 0h1m0 0h1m0 0h1m0 0h1m1 0h1m0 0h1m0 0h1m0 0h1m0 0h1m0 0h1m1 0h1m1 0h1m1 0h1m0 0h1m0 0h1m0 0h1m3 0h1m0 0h1m3 0h1m4 0h1m1 0h1m2 0h1m0 0h1m1 0h1m2 0h1m0 0h1m1 0h1m1 0h1m0 0h1m1 0h1m0 0h1m-104 1h1m0 0h1m1 0h1m3 0h1m1 0h1m0 0h1m3 0h1m0 0h1m0 0h1m4 0h1m0 0h1m1 0h1m2 0h1m1 0h1m0 0h1m0 0h1m0 0h1m0 0h1m0 0h1m7 0h1m1 0h1m6 0h1m0 0h1m0 0h1m0 0h1m2 0h1m1 0h1m1 0h1m0 0h1m1 0h1m1 0h1m0 0h1m2 0h1m0 0h1m4 0h1m2 0h1m1 0h1m0 0h1m2 0h1m0 0h1m0 0h1m2 0h1m0 0h1m2 0h1m2 0h1m1 0h1m1 0h1m2 0h1m-104 1h1m3 0h1m0 0h1m0 0h1m0 0h1m1 0h1m2 0h1m2 0h1m0 0h1m0 0h1m0 0h1m2 0h1m0 0h1m0 0h1m3 0h1m0 0h1m1 0h1m0 0h1m1 0h1m0 0h1m0 0h1m0 0h1m1 0h1m0 0h1m2 0h1m0 0h1m1 0h1m1 0h1m1 0h1m1 0h1m0 0h1m0 0h1m3 0h1m0 0h1m0 0h1m2 0h1m0 0h1m0 0h1m2 0h1m1 0h1m1 0h1m0 0h1m1 0h1m3 0h1m0 0h1m0 0h1m0 0h1m0 0h1m0 0h1m0 0h1m1 0h1m0 0h1m2 0h1m0 0h1m1 0h1m3 0h1m0 0h1m-101 1h1m1 0h1m3 0h1m5 0h1m2 0h1m1 0h1m0 0h1m0 0h1m4 0h1m1 0h1m2 0h1m1 0h1m1 0h1m0 0h1m0 0h1m1 0h1m2 0h1m2 0h1m2 0h1m4 0h1m0 0h1m0 0h1m0 0h1m0 0h1m1 0h1m0 0h1m0 0h1m0 0h1m1 0h1m3 0h1m0 0h1m0 0h1m5 0h1m0 0h1m1 0h1m5 0h1m1 0h1m0 0h1m0 0h1m0 0h1m0 0h1m0 0h1m1 0h1m1 0h1m0 0h1m0 0h1m2 0h1m4 0h1m-101 1h1m0 0h1m0 0h1m2 0h1m0 0h1m0 0h1m0 0h1m0 0h1m1 0h1m0 0h1m0 0h1m0 0h1m1 0h1m0 0h1m0 0h1m0 0h1m0 0h1m1 0h1m3 0h1m1 0h1m1 0h1m0 0h1m0 0h1m1 0h1m5 0h1m0 0h1m0 0h1m1 0h1m0 0h1m0 0h1m0 0h1m3 0h1m1 0h1m0 0h1m1 0h1m0 0h1m0 0h1m0 0h1m1 0h1m2 0h1m3 0h1m2 0h1m0 0h1m0 0h1m1 0h1m0 0h1m0 0h1m0 0h1m3 0h1m3 0h1m1 0h1m0 0h1m0 0h1m4 0h1m0 0h1m0 0h1m0 0h1m0 0h1m1 0h1m4 0h1m-112 1h1m1 0h1m0 0h1m0 0h1m1 0h1m0 0h1m6 0h1m1 0h1m0 0h1m0 0h1m0 0h1m2 0h1m0 0h1m0 0h1m1 0h1m0 0h1m5 0h1m0 0h1m2 0h1m0 0h1m0 0h1m1 0h1m0 0h1m0 0h1m1 0h1m0 0h1m0 0h1m3 0h1m2 0h1m0 0h1m0 0h1m4 0h1m0 0h1m1 0h1m0 0h1m2 0h1m1 0h1m0 0h1m0 0h1m0 0h1m0 0h1m6 0h1m0 0h1m0 0h1m2 0h1m0 0h1m0 0h1m0 0h1m0 0h1m0 0h1m0 0h1m1 0h1m4 0h1m2 0h1m1 0h1m3 0h1m-107 1h1m2 0h1m0 0h1m0 0h1m0 0h1m1 0h1m6 0h1m2 0h1m0 0h1m0 0h1m2 0h1m1 0h1m0 0h1m0 0h1m0 0h1m0 0h1m0 0h1m0 0h1m1 0h1m1 0h1m1 0h1m6 0h1m2 0h1m0 0h1m1 0h1m0 0h1m0 0h1m4 0h1m1 0h1m1 0h1m0 0h1m1 0h1m0 0h1m0 0h1m0 0h1m2 0h1m1 0h1m2 0h1m3 0h1m2 0h1m4 0h1m1 0h1m1 0h1m2 0h1m0 0h1m0 0h1m0 0h1m5 0h1m1 0h1m1 0h1m-105 1h1m1 0h1m0 0h1m2 0h1m0 0h1m1 0h1m2 0h1m1 0h1m0 0h1m1 0h1m0 0h1m0 0h1m0 0h1m0 0h1m3 0h1m3 0h1m0 0h1m0 0h1m1 0h1m4 0h1m0 0h1m0 0h1m1 0h1m1 0h1m3 0h1m0 0h1m1 0h1m0 0h1m0 0h1m1 0h1m1 0h1m0 0h1m0 0h1m1 0h1m1 0h1m3 0h1m0 0h1m4 0h1m0 0h1m0 0h1m0 0h1m0 0h1m0 0h1m3 0h1m1 0h1m1 0h1m3 0h1m0 0h1m2 0h1m5 0h1m1 0h1m-102 1h1m0 0h1m1 0h1m1 0h1m0 0h1m0 0h1m0 0h1m0 0h1m0 0h1m6 0h1m0 0h1m2 0h1m2 0h1m0 0h1m3 0h1m0 0h1m0 0h1m4 0h1m3 0h1m4 0h1m1 0h1m1 0h1m1 0h1m0 0h1m0 0h1m4 0h1m0 0h1m0 0h1m2 0h1m1 0h1m1 0h1m0 0h1m1 0h1m0 0h1m0 0h1m0 0h1m0 0h1m2 0h1m0 0h1m1 0h1m0 0h1m0 0h1m1 0h1m0 0h1m0 0h1m0 0h1m0 0h1m2 0h1m0 0h1m1 0h1m1 0h1m3 0h1m-104 1h1m0 0h1m3 0h1m0 0h1m0 0h1m1 0h1m2 0h1m1 0h1m0 0h1m3 0h1m1 0h1m1 0h1m0 0h1m2 0h1m1 0h1m0 0h1m0 0h1m0 0h1m4 0h1m3 0h1m3 0h1m1 0h1m0 0h1m2 0h1m0 0h1m1 0h1m0 0h1m3 0h1m0 0h1m3 0h1m0 0h1m0 0h1m3 0h1m0 0h1m1 0h1m0 0h1m0 0h1m2 0h1m1 0h1m0 0h1m0 0h1m2 0h1m4 0h1m11 0h1m2 0h1m-111 1h1m3 0h1m0 0h1m3 0h1m0 0h1m1 0h1m1 0h1m4 0h1m0 0h1m3 0h1m3 0h1m5 0h1m2 0h1m3 0h1m0 0h1m0 0h1m0 0h1m0 0h1m0 0h1m1 0h1m0 0h1m0 0h1m0 0h1m2 0h1m1 0h1m1 0h1m0 0h1m0 0h1m1 0h1m0 0h1m0 0h1m0 0h1m2 0h1m0 0h1m2 0h1m0 0h1m0 0h1m2 0h1m0 0h1m1 0h1m1 0h1m1 0h1m5 0h1m0 0h1m0 0h1m2 0h1m1 0h1m0 0h1m2 0h1m0 0h1m6 0h1m2 0h1m-108 1h1m0 0h1m3 0h1m3 0h1m0 0h1m0 0h1m2 0h1m1 0h1m4 0h1m1 0h1m3 0h1m0 0h1m0 0h1m0 0h1m3 0h1m1 0h1m1 0h1m0 0h1m2 0h1m5 0h1m1 0h1m1 0h1m2 0h1m0 0h1m0 0h1m0 0h1m4 0h1m4 0h1m0 0h1m3 0h1m5 0h1m0 0h1m0 0h1m4 0h1m1 0h1m0 0h1m2 0h1m1 0h1m1 0h1m1 0h1m2 0h1m-105 1h1m1 0h1m2 0h1m0 0h1m2 0h1m0 0h1m0 0h1m0 0h1m0 0h1m0 0h1m1 0h1m4 0h1m0 0h1m0 0h1m6 0h1m3 0h1m0 0h1m3 0h1m0 0h1m0 0h1m1 0h1m3 0h1m3 0h1m0 0h1m2 0h1m1 0h1m2 0h1m0 0h1m3 0h1m8 0h1m0 0h1m1 0h1m3 0h1m0 0h1m1 0h1m1 0h1m4 0h1m0 0h1m5 0h1m0 0h1m0 0h1m0 0h1m0 0h1m1 0h1m5 0h1m-110 1h1m1 0h1m1 0h1m2 0h1m1 0h1m0 0h1m0 0h1m3 0h1m0 0h1m2 0h1m1 0h1m1 0h1m1 0h1m0 0h1m1 0h1m2 0h1m2 0h1m1 0h1m2 0h1m4 0h1m0 0h1m4 0h1m1 0h1m5 0h1m0 0h1m0 0h1m1 0h1m0 0h1m1 0h1m0 0h1m0 0h1m0 0h1m3 0h1m0 0h1m0 0h1m0 0h1m1 0h1m6 0h1m0 0h1m3 0h1m0 0h1m0 0h1m0 0h1m2 0h1m1 0h1m2 0h1m2 0h1m-105 1h1m1 0h1m2 0h1m0 0h1m0 0h1m0 0h1m1 0h1m0 0h1m2 0h1m0 0h1m0 0h1m1 0h1m2 0h1m1 0h1m0 0h1m1 0h1m0 0h1m3 0h1m5 0h1m2 0h1m0 0h1m0 0h1m1 0h1m0 0h1m1 0h1m1 0h1m1 0h1m0 0h1m3 0h1m1 0h1m1 0h1m4 0h1m3 0h1m0 0h1m0 0h1m4 0h1m0 0h1m0 0h1m0 0h1m0 0h1m0 0h1m3 0h1m0 0h1m0 0h1m0 0h1m1 0h1m1 0h1m2 0h1m0 0h1m2 0h1m1 0h1m3 0h1m2 0h1m-109 1h1m2 0h1m0 0h1m0 0h1m0 0h1m0 0h1m1 0h1m0 0h1m1 0h1m0 0h1m2 0h1m3 0h1m1 0h1m1 0h1m2 0h1m0 0h1m1 0h1m0 0h1m0 0h1m0 0h1m0 0h1m0 0h1m0 0h1m3 0h1m3 0h1m0 0h1m1 0h1m0 0h1m1 0h1m2 0h1m0 0h1m0 0h1m4 0h1m1 0h1m0 0h1m2 0h1m0 0h1m0 0h1m2 0h1m1 0h1m0 0h1m0 0h1m0 0h1m1 0h1m1 0h1m0 0h1m2 0h1m4 0h1m1 0h1m0 0h1m0 0h1m0 0h1m0 0h1m1 0h1m0 0h1m1 0h1m0 0h1m0 0h1m0 0h1m-106 1h1m0 0h1m1 0h1m0 0h1m2 0h1m0 0h1m0 0h1m2 0h1m0 0h1m1 0h1m0 0h1m2 0h1m0 0h1m1 0h1m0 0h1m1 0h1m0 0h1m0 0h1m0 0h1m2 0h1m0 0h1m1 0h1m1 0h1m0 0h1m3 0h1m2 0h1m3 0h1m2 0h1m1 0h1m0 0h1m1 0h1m0 0h1m2 0h1m2 0h1m0 0h1m2 0h1m3 0h1m2 0h1m5 0h1m1 0h1m2 0h1m0 0h1m6 0h1m0 0h1m0 0h1m1 0h1m0 0h1m2 0h1m4 0h1m-101 1h1m10 0h1m1 0h1m0 0h1m0 0h1m0 0h1m1 0h1m0 0h1m0 0h1m4 0h1m0 0h1m2 0h1m1 0h1m1 0h1m0 0h1m1 0h1m1 0h1m4 0h1m0 0h1m2 0h1m4 0h1m1 0h1m2 0h1m0 0h1m1 0h1m0 0h1m1 0h1m0 0h1m0 0h1m1 0h1m1 0h1m2 0h1m2 0h1m0 0h1m2 0h1m0 0h1m0 0h1m0 0h1m0 0h1m4 0h1m1 0h1m0 0h1m5 0h1m1 0h1m0 0h1m-107 1h1m2 0h1m2 0h1m0 0h1m5 0h1m0 0h1m3 0h1m5 0h1m1 0h1m0 0h1m3 0h1m0 0h1m1 0h1m0 0h1m0 0h1m1 0h1m1 0h1m0 0h1m0 0h1m0 0h1m1 0h1m0 0h1m0 0h1m1 0h1m0 0h1m0 0h1m2 0h1m1 0h1m1 0h1m1 0h1m1 0h1m1 0h1m3 0h1m1 0h1m0 0h1m0 0h1m0 0h1m0 0h1m0 0h1m0 0h1m0 0h1m0 0h1m0 0h1m0 0h1m1 0h1m0 0h1m2 0h1m1 0h1m0 0h1m0 0h1m0 0h1m0 0h1m1 0h1m0 0h1m1 0h1m2 0h1m3 0h1m0 0h1m-106 1h1m4 0h1m1 0h1m0 0h1m0 0h1m2 0h1m1 0h1m0 0h1m0 0h1m0 0h1m1 0h1m0 0h1m0 0h1m7 0h1m0 0h1m0 0h1m1 0h1m3 0h1m1 0h1m1 0h1m3 0h1m2 0h1m0 0h1m1 0h1m4 0h1m0 0h1m2 0h1m1 0h1m3 0h1m0 0h1m2 0h1m1 0h1m0 0h1m1 0h1m2 0h1m0 0h1m0 0h1m2 0h1m2 0h1m4 0h1m2 0h1m4 0h1m0 0h1m1 0h1m0 0h1m2 0h1m1 0h1m-105 1h1m0 0h1m0 0h1m1 0h1m0 0h1m0 0h1m2 0h1m0 0h1m0 0h1m1 0h1m1 0h1m0 0h1m3 0h1m0 0h1m0 0h1m0 0h1m0 0h1m1 0h1m11 0h1m2 0h1m2 0h1m1 0h1m0 0h1m1 0h1m1 0h1m0 0h1m0 0h1m0 0h1m0 0h1m2 0h1m0 0h1m1 0h1m0 0h1m2 0h1m0 0h1m0 0h1m5 0h1m5 0h1m0 0h1m0 0h1m6 0h1m0 0h1m0 0h1m1 0h1m0 0h1m1 0h1m2 0h1m-101 1h1m2 0h1m0 0h1m1 0h1m0 0h1m1 0h1m0 0h1m1 0h1m1 0h1m0 0h1m0 0h1m1 0h1m2 0h1m0 0h1m0 0h1m1 0h1m0 0h1m1 0h1m0 0h1m0 0h1m2 0h1m5 0h1m1 0h1m0 0h1m2 0h1m4 0h1m0 0h1m1 0h1m1 0h1m0 0h1m2 0h1m0 0h1m1 0h1m3 0h1m0 0h1m2 0h1m0 0h1m1 0h1m1 0h1m0 0h1m1 0h1m6 0h1m2 0h1m0 0h1m2 0h1m1 0h1m3 0h1m1 0h1m3 0h1m-105 1h1m2 0h1m4 0h1m4 0h1m0 0h1m1 0h1m0 0h1m0 0h1m1 0h1m2 0h1m2 0h1m1 0h1m0 0h1m3 0h1m4 0h1m7 0h1m0 0h1m1 0h1m0 0h1m1 0h1m2 0h1m0 0h1m0 0h1m2 0h1m1 0h1m0 0h1m0 0h1m0 0h1m1 0h1m0 0h1m0 0h1m3 0h1m0 0h1m2 0h1m1 0h1m0 0h1m0 0h1m0 0h1m0 0h1m1 0h1m0 0h1m1 0h1m0 0h1m3 0h1m0 0h1m1 0h1m0 0h1m0 0h1m0 0h1m6 0h1m-108 1h1m0 0h1m0 0h1m1 0h1m0 0h1m1 0h1m0 0h1m2 0h1m0 0h1m1 0h1m0 0h1m0 0h1m2 0h1m0 0h1m0 0h1m6 0h1m0 0h1m0 0h1m2 0h1m0 0h1m0 0h1m1 0h1m5 0h1m0 0h1m4 0h1m0 0h1m0 0h1m0 0h1m0 0h1m2 0h1m0 0h1m0 0h1m0 0h1m0 0h1m4 0h1m5 0h1m1 0h1m1 0h1m0 0h1m0 0h1m1 0h1m0 0h1m0 0h1m0 0h1m0 0h1m3 0h1m2 0h1m1 0h1m0 0h1m0 0h1m0 0h1m1 0h1m5 0h1m0 0h1m1 0h1m-109 1h1m7 0h1m0 0h1m0 0h1m0 0h1m2 0h1m1 0h1m0 0h1m2 0h1m0 0h1m2 0h1m3 0h1m1 0h1m1 0h1m5 0h1m1 0h1m1 0h1m2 0h1m0 0h1m0 0h1m1 0h1m2 0h1m2 0h1m0 0h1m0 0h1m1 0h1m0 0h1m0 0h1m0 0h1m3 0h1m0 0h1m0 0h1m0 0h1m2 0h1m5 0h1m5 0h1m0 0h1m0 0h1m0 0h1m0 0h1m0 0h1m1 0h1m0 0h1m1 0h1m0 0h1m0 0h1m4 0h1m2 0h1m1 0h1m0 0h1m4 0h1m-111 1h1m2 0h1m0 0h1m4 0h1m1 0h1m0 0h1m1 0h1m0 0h1m1 0h1m0 0h1m1 0h1m1 0h1m0 0h1m1 0h1m1 0h1m1 0h1m0 0h1m0 0h1m1 0h1m1 0h1m5 0h1m0 0h1m3 0h1m0 0h1m0 0h1m0 0h1m0 0h1m0 0h1m3 0h1m2 0h1m1 0h1m0 0h1m1 0h1m0 0h1m0 0h1m1 0h1m0 0h1m1 0h1m1 0h1m2 0h1m0 0h1m0 0h1m1 0h1m2 0h1m0 0h1m1 0h1m1 0h1m0 0h1m0 0h1m0 0h1m0 0h1m0 0h1m1 0h1m7 0h1m0 0h1m0 0h1m0 0h1m0 0h1m-109 1h1m2 0h1m1 0h1m1 0h1m2 0h1m0 0h1m1 0h1m2 0h1m1 0h1m3 0h1m2 0h1m1 0h1m3 0h1m0 0h1m2 0h1m0 0h1m0 0h1m1 0h1m1 0h1m0 0h1m8 0h1m0 0h1m0 0h1m0 0h1m0 0h1m2 0h1m0 0h1m2 0h1m0 0h1m0 0h1m0 0h1m0 0h1m1 0h1m0 0h1m2 0h1m3 0h1m3 0h1m0 0h1m1 0h1m0 0h1m2 0h1m0 0h1m3 0h1m0 0h1m0 0h1m4 0h1m1 0h1m1 0h1m1 0h1m-112 1h1m3 0h1m3 0h1m0 0h1m1 0h1m0 0h1m0 0h1m0 0h1m1 0h1m3 0h1m0 0h1m1 0h1m0 0h1m0 0h1m1 0h1m0 0h1m0 0h1m1 0h1m1 0h1m2 0h1m0 0h1m1 0h1m2 0h1m1 0h1m0 0h1m1 0h1m3 0h1m0 0h1m0 0h1m0 0h1m0 0h1m2 0h1m0 0h1m0 0h1m0 0h1m3 0h1m0 0h1m0 0h1m1 0h1m2 0h1m2 0h1m0 0h1m2 0h1m0 0h1m2 0h1m0 0h1m0 0h1m1 0h1m0 0h1m0 0h1m0 0h1m1 0h1m0 0h1m2 0h1m0 0h1m1 0h1m4 0h1m0 0h1m1 0h1m0 0h1m0 0h1m0 0h1m0 0h1m0 0h1m-104 1h1m0 0h1m2 0h1m2 0h1m0 0h1m3 0h1m0 0h1m1 0h1m2 0h1m2 0h1m0 0h1m0 0h1m0 0h1m0 0h1m0 0h1m0 0h1m0 0h1m0 0h1m0 0h1m3 0h1m2 0h1m2 0h1m0 0h1m0 0h1m2 0h1m2 0h1m2 0h1m0 0h1m5 0h1m0 0h1m1 0h1m3 0h1m1 0h1m0 0h1m4 0h1m0 0h1m1 0h1m1 0h1m0 0h1m0 0h1m2 0h1m0 0h1m0 0h1m0 0h1m0 0h1m0 0h1m1 0h1m1 0h1m2 0h1m1 0h1m0 0h1m0 0h1m0 0h1m2 0h1m0 0h1m2 0h1m1 0h1m-110 1h1m3 0h1m0 0h1m1 0h1m1 0h1m3 0h1m2 0h1m0 0h1m0 0h1m1 0h1m0 0h1m1 0h1m2 0h1m0 0h1m4 0h1m1 0h1m0 0h1m0 0h1m0 0h1m1 0h1m0 0h1m1 0h1m5 0h1m0 0h1m0 0h1m1 0h1m0 0h1m0 0h1m0 0h1m1 0h1m0 0h1m2 0h1m0 0h1m1 0h1m0 0h1m0 0h1m1 0h1m2 0h1m2 0h1m1 0h1m1 0h1m1 0h1m0 0h1m0 0h1m2 0h1m0 0h1m1 0h1m3 0h1m5 0h1m0 0h1m6 0h1m-109 1h1m0 0h1m0 0h1m0 0h1m0 0h1m2 0h1m0 0h1m1 0h1m1 0h1m1 0h1m1 0h1m2 0h1m0 0h1m1 0h1m1 0h1m0 0h1m0 0h1m1 0h1m1 0h1m0 0h1m1 0h1m0 0h1m3 0h1m3 0h1m0 0h1m1 0h1m0 0h1m5 0h1m0 0h1m0 0h1m0 0h1m4 0h1m0 0h1m0 0h1m0 0h1m0 0h1m1 0h1m1 0h1m0 0h1m1 0h1m0 0h1m0 0h1m0 0h1m1 0h1m1 0h1m1 0h1m2 0h1m0 0h1m0 0h1m0 0h1m1 0h1m0 0h1m0 0h1m3 0h1m1 0h1m0 0h1m0 0h1m1 0h1m0 0h1m1 0h1m1 0h1m-108 1h1m5 0h1m0 0h1m5 0h1m4 0h1m3 0h1m0 0h1m0 0h1m0 0h1m0 0h1m1 0h1m0 0h1m1 0h1m1 0h1m1 0h1m2 0h1m2 0h1m2 0h1m0 0h1m0 0h1m0 0h1m1 0h1m2 0h1m0 0h1m0 0h1m1 0h1m0 0h1m0 0h1m3 0h1m0 0h1m0 0h1m4 0h1m3 0h1m1 0h1m0 0h1m0 0h1m1 0h1m2 0h1m1 0h1m0 0h1m3 0h1m0 0h1m0 0h1m2 0h1m1 0h1m4 0h1m0 0h1m8 0h1m-110 1h1m4 0h1m1 0h1m0 0h1m0 0h1m1 0h1m1 0h1m0 0h1m0 0h1m0 0h1m0 0h1m4 0h1m3 0h1m0 0h1m0 0h1m3 0h1m0 0h1m0 0h1m3 0h1m0 0h1m0 0h1m0 0h1m0 0h1m0 0h1m1 0h1m0 0h1m1 0h1m3 0h1m0 0h1m3 0h1m0 0h1m0 0h1m0 0h1m1 0h1m3 0h1m1 0h1m1 0h1m1 0h1m2 0h1m0 0h1m2 0h1m1 0h1m0 0h1m1 0h1m1 0h1m1 0h1m0 0h1m1 0h1m0 0h1m1 0h1m1 0h1m0 0h1m0 0h1m1 0h1m0 0h1m0 0h1m3 0h1m0 0h1m-112 1h1m3 0h1m3 0h1m0 0h1m1 0h1m0 0h1m4 0h1m0 0h1m0 0h1m3 0h1m0 0h1m0 0h1m2 0h1m1 0h1m1 0h1m0 0h1m0 0h1m0 0h1m3 0h1m0 0h1m1 0h1m1 0h1m1 0h1m1 0h1m1 0h1m0 0h1m1 0h1m0 0h1m0 0h1m0 0h1m0 0h1m0 0h1m1 0h1m0 0h1m2 0h1m0 0h1m0 0h1m2 0h1m2 0h1m0 0h1m0 0h1m0 0h1m2 0h1m0 0h1m2 0h1m2 0h1m0 0h1m0 0h1m0 0h1m0 0h1m0 0h1m1 0h1m4 0h1m2 0h1m5 0h1m-100 1h1m0 0h1m2 0h1m0 0h1m0 0h1m0 0h1m0 0h1m0 0h1m0 0h1m0 0h1m0 0h1m0 0h1m4 0h1m1 0h1m0 0h1m3 0h1m0 0h1m1 0h1m0 0h1m0 0h1m0 0h1m1 0h1m2 0h1m1 0h1m2 0h1m0 0h1m1 0h1m1 0h1m1 0h1m2 0h1m2 0h1m0 0h1m0 0h1m1 0h1m1 0h1m1 0h1m6 0h1m2 0h1m0 0h1m3 0h1m1 0h1m0 0h1m1 0h1m2 0h1m0 0h1m1 0h1m3 0h1m0 0h1m0 0h1m0 0h1m0 0h1m0 0h1m1 0h1m3 0h1m-110 1h1m1 0h1m5 0h1m0 0h1m0 0h1m4 0h1m0 0h1m2 0h1m1 0h1m0 0h1m1 0h1m2 0h1m1 0h1m1 0h1m0 0h1m0 0h1m1 0h1m0 0h1m0 0h1m0 0h1m2 0h1m0 0h1m1 0h1m0 0h1m1 0h1m2 0h1m1 0h1m1 0h1m3 0h1m0 0h1m0 0h1m2 0h1m1 0h1m0 0h1m4 0h1m2 0h1m0 0h1m1 0h1m0 0h1m0 0h1m0 0h1m2 0h1m2 0h1m2 0h1m0 0h1m1 0h1m2 0h1m1 0h1m0 0h1m1 0h1m2 0h1m0 0h1m2 0h1m0 0h1m1 0h1m-110 1h1m8 0h1m0 0h1m0 0h1m0 0h1m1 0h1m0 0h1m0 0h1m1 0h1m0 0h1m0 0h1m2 0h1m1 0h1m0 0h1m1 0h1m3 0h1m2 0h1m0 0h1m3 0h1m0 0h1m0 0h1m0 0h1m0 0h1m2 0h1m3 0h1m0 0h1m0 0h1m0 0h1m0 0h1m0 0h1m0 0h1m0 0h1m1 0h1m0 0h1m0 0h1m4 0h1m0 0h1m3 0h1m2 0h1m2 0h1m1 0h1m1 0h1m2 0h1m3 0h1m0 0h1m1 0h1m4 0h1m4 0h1m0 0h1m2 0h1m-105 1h1m2 0h1m4 0h1m1 0h1m0 0h1m4 0h1m0 0h1m0 0h1m0 0h1m1 0h1m0 0h1m0 0h1m4 0h1m9 0h1m3 0h1m0 0h1m5 0h1m1 0h1m0 0h1m1 0h1m0 0h1m0 0h1m0 0h1m0 0h1m0 0h1m0 0h1m0 0h1m0 0h1m2 0h1m1 0h1m1 0h1m0 0h1m1 0h1m3 0h1m0 0h1m0 0h1m0 0h1m0 0h1m4 0h1m0 0h1m2 0h1m0 0h1m1 0h1m4 0h1m4 0h1m2 0h1m-102 1h1m1 0h1m3 0h1m1 0h1m0 0h1m0 0h1m4 0h1m0 0h1m1 0h1m1 0h1m1 0h1m6 0h1m1 0h1m12 0h1m2 0h1m1 0h1m0 0h1m3 0h1m1 0h1m0 0h1m0 0h1m0 0h1m0 0h1m1 0h1m0 0h1m5 0h1m0 0h1m2 0h1m0 0h1m0 0h1m1 0h1m0 0h1m2 0h1m0 0h1m8 0h1m0 0h1m1 0h1m5 0h1m1 0h1m-106 1h1m0 0h1m0 0h1m3 0h1m3 0h1m0 0h1m1 0h1m0 0h1m2 0h1m0 0h1m0 0h1m0 0h1m0 0h1m0 0h1m1 0h1m3 0h1m5 0h1m0 0h1m1 0h1m0 0h1m1 0h1m2 0h1m0 0h1m1 0h1m0 0h1m1 0h1m3 0h1m2 0h1m2 0h1m0 0h1m0 0h1m1 0h1m2 0h1m0 0h1m1 0h1m0 0h1m0 0h1m3 0h1m1 0h1m0 0h1m0 0h1m0 0h1m1 0h1m1 0h1m0 0h1m1 0h1m3 0h1m0 0h1m1 0h1m0 0h1m1 0h1m1 0h1m0 0h1m0 0h1m4 0h1m-107 1h1m0 0h1m0 0h1m0 0h1m0 0h1m4 0h1m2 0h1m1 0h1m0 0h1m2 0h1m1 0h1m0 0h1m3 0h1m0 0h1m1 0h1m0 0h1m0 0h1m1 0h1m2 0h1m2 0h1m0 0h1m2 0h1m0 0h1m0 0h1m1 0h1m0 0h1m8 0h1m0 0h1m0 0h1m1 0h1m0 0h1m0 0h1m0 0h1m0 0h1m3 0h1m2 0h1m5 0h1m0 0h1m2 0h1m0 0h1m0 0h1m1 0h1m0 0h1m0 0h1m1 0h1m0 0h1m0 0h1m0 0h1m1 0h1m0 0h1m2 0h1m0 0h1m-98 1h1m1 0h1m1 0h1m0 0h1m0 0h1m0 0h1m4 0h1m1 0h1m3 0h1m1 0h1m1 0h1m0 0h1m0 0h1m0 0h1m1 0h1m0 0h1m0 0h1m1 0h1m1 0h1m0 0h1m0 0h1m0 0h1m2 0h1m0 0h1m1 0h1m0 0h1m3 0h1m1 0h1m0 0h1m0 0h1m3 0h1m0 0h1m0 0h1m0 0h1m0 0h1m2 0h1m2 0h1m0 0h1m0 0h1m2 0h1m0 0h1m5 0h1m1 0h1m2 0h1m0 0h1m1 0h1m3 0h1m2 0h1m2 0h1m7 0h1m-112 1h1m7 0h1m4 0h1m0 0h1m0 0h1m0 0h1m0 0h1m0 0h1m1 0h1m0 0h1m0 0h1m1 0h1m0 0h1m0 0h1m0 0h1m0 0h1m0 0h1m0 0h1m3 0h1m0 0h1m0 0h1m1 0h1m0 0h1m1 0h1m3 0h1m0 0h1m0 0h1m1 0h1m1 0h1m2 0h1m0 0h1m0 0h1m0 0h1m8 0h1m1 0h1m3 0h1m2 0h1m2 0h1m0 0h1m2 0h1m1 0h1m0 0h1m1 0h1m5 0h1m0 0h1m0 0h1m1 0h1m1 0h1m0 0h1m1 0h1m1 0h1m2 0h1m0 0h1m1 0h1m-104 1h1m2 0h1m1 0h1m2 0h1m2 0h1m1 0h1m2 0h1m2 0h1m0 0h1m0 0h1m0 0h1m2 0h1m0 0h1m0 0h1m0 0h1m0 0h1m0 0h1m1 0h1m0 0h1m0 0h1m2 0h1m0 0h1m2 0h1m4 0h1m1 0h1m2 0h1m0 0h1m0 0h1m7 0h1m1 0h1m0 0h1m3 0h1m0 0h1m1 0h1m2 0h1m0 0h1m0 0h1m1 0h1m0 0h1m1 0h1m2 0h1m1 0h1m0 0h1m0 0h1m5 0h1m1 0h1m1 0h1m0 0h1m4 0h1m1 0h1m-107 1h1m1 0h1m2 0h1m2 0h1m1 0h1m2 0h1m0 0h1m0 0h1m1 0h1m1 0h1m0 0h1m2 0h1m0 0h1m0 0h1m1 0h1m3 0h1m1 0h1m0 0h1m0 0h1m1 0h1m0 0h1m0 0h1m0 0h1m2 0h1m0 0h1m0 0h1m3 0h1m0 0h1m4 0h1m0 0h1m0 0h1m4 0h1m2 0h1m2 0h1m1 0h1m1 0h1m0 0h1m0 0h1m1 0h1m1 0h1m2 0h1m0 0h1m0 0h1m1 0h1m3 0h1m3 0h1m0 0h1m0 0h1m2 0h1m-103 1h1m2 0h1m0 0h1m0 0h1m1 0h1m0 0h1m0 0h1m1 0h1m0 0h1m0 0h1m0 0h1m1 0h1m1 0h1m0 0h1m2 0h1m1 0h1m1 0h1m2 0h1m1 0h1m3 0h1m2 0h1m0 0h1m1 0h1m0 0h1m0 0h1m0 0h1m1 0h1m2 0h1m2 0h1m3 0h1m0 0h1m0 0h1m1 0h1m0 0h1m0 0h1m2 0h1m1 0h1m0 0h1m2 0h1m0 0h1m0 0h1m1 0h1m0 0h1m0 0h1m2 0h1m2 0h1m1 0h1m0 0h1m0 0h1m1 0h1m3 0h1m0 0h1m0 0h1m1 0h1m1 0h1m0 0h1m3 0h1m3 0h1m-100 1h1m1 0h1m0 0h1m0 0h1m0 0h1m0 0h1m4 0h1m2 0h1m1 0h1m1 0h1m4 0h1m0 0h1m0 0h1m1 0h1m4 0h1m5 0h1m0 0h1m0 0h1m1 0h1m3 0h1m1 0h1m0 0h1m0 0h1m0 0h1m0 0h1m2 0h1m1 0h1m2 0h1m1 0h1m0 0h1m1 0h1m0 0h1m0 0h1m0 0h1m7 0h1m1 0h1m1 0h1m0 0h1m2 0h1m0 0h1m1 0h1m0 0h1m0 0h1m0 0h1m0 0h1m0 0h1m0 0h1m0 0h1m-98 1h1m1 0h1m0 0h1m3 0h1m1 0h1m1 0h1m0 0h1m1 0h1m1 0h1m0 0h1m0 0h1m2 0h1m2 0h1m0 0h1m1 0h1m0 0h1m8 0h1m0 0h1m0 0h1m0 0h1m2 0h1m0 0h1m1 0h1m1 0h1m0 0h1m1 0h1m1 0h1m0 0h1m0 0h1m0 0h1m0 0h1m7 0h1m0 0h1m0 0h1m0 0h1m0 0h1m1 0h1m3 0h1m0 0h1m0 0h1m0 0h1m1 0h1m0 0h1m0 0h1m0 0h1m0 0h1m3 0h1m0 0h1m2 0h1m3 0h1m-101 1h1m1 0h1m0 0h1m4 0h1m1 0h1m0 0h1m7 0h1m1 0h1m2 0h1m3 0h1m0 0h1m0 0h1m2 0h1m0 0h1m0 0h1m2 0h1m0 0h1m0 0h1m0 0h1m1 0h1m0 0h1m1 0h1m0 0h1m0 0h1m0 0h1m0 0h1m2 0h1m1 0h1m2 0h1m1 0h1m2 0h1m0 0h1m2 0h1m2 0h1m0 0h1m0 0h1m2 0h1m0 0h1m4 0h1m1 0h1m0 0h1m2 0h1m0 0h1m2 0h1m0 0h1m1 0h1m0 0h1m0 0h1m2 0h1m3 0h1m-102 1h1m5 0h1m1 0h1m0 0h1m0 0h1m0 0h1m0 0h1m3 0h1m0 0h1m1 0h1m0 0h1m2 0h1m0 0h1m4 0h1m1 0h1m0 0h1m3 0h1m8 0h1m0 0h1m2 0h1m1 0h1m1 0h1m0 0h1m0 0h1m0 0h1m0 0h1m1 0h1m2 0h1m1 0h1m1 0h1m0 0h1m1 0h1m2 0h1m0 0h1m1 0h1m0 0h1m1 0h1m0 0h1m4 0h1m0 0h1m0 0h1m4 0h1m0 0h1m1 0h1m0 0h1m-97 1h1m0 0h1m4 0h1m2 0h1m0 0h1m0 0h1m3 0h1m1 0h1m0 0h1m0 0h1m1 0h1m1 0h1m4 0h1m0 0h1m0 0h1m1 0h1m0 0h1m0 0h1m1 0h1m0 0h1m1 0h1m2 0h1m1 0h1m0 0h1m1 0h1m8 0h1m7 0h1m1 0h1m2 0h1m0 0h1m0 0h1m0 0h1m0 0h1m0 0h1m0 0h1m0 0h1m0 0h1m0 0h1m0 0h1m2 0h1m1 0h1m0 0h1m1 0h1m0 0h1m2 0h1m0 0h1m4 0h1m2 0h1m0 0h1m-98 1h1m4 0h1m3 0h1m1 0h1m1 0h1m0 0h1m0 0h1m0 0h1m1 0h1m0 0h1m0 0h1m0 0h1m0 0h1m2 0h1m0 0h1m0 0h1m0 0h1m4 0h1m2 0h1m0 0h1m1 0h1m2 0h1m0 0h1m1 0h1m0 0h1m1 0h1m1 0h1m3 0h1m0 0h1m3 0h1m2 0h1m0 0h1m2 0h1m0 0h1m0 0h1m3 0h1m0 0h1m2 0h1m0 0h1m2 0h1m0 0h1m0 0h1m1 0h1m0 0h1m2 0h1m2 0h1m3 0h1m-99 1h1m6 0h1m0 0h1m3 0h1m1 0h1m1 0h1m0 0h1m1 0h1m1 0h1m0 0h1m0 0h1m4 0h1m1 0h1m2 0h1m1 0h1m0 0h1m0 0h1m0 0h1m1 0h1m1 0h1m0 0h1m0 0h1m1 0h1m0 0h1m1 0h1m1 0h1m1 0h1m3 0h1m2 0h1m0 0h1m2 0h1m0 0h1m0 0h1m2 0h1m0 0h1m1 0h1m1 0h1m1 0h1m3 0h1m0 0h1m1 0h1m3 0h1m0 0h1m0 0h1m1 0h1m0 0h1m4 0h1m2 0h1m-102 1h1m2 0h1m0 0h1m3 0h1m3 0h1m1 0h1m1 0h1m0 0h1m6 0h1m0 0h1m1 0h1m6 0h1m0 0h1m0 0h1m0 0h1m2 0h1m0 0h1m1 0h1m0 0h1m0 0h1m1 0h1m0 0h1m2 0h1m0 0h1m0 0h1m0 0h1m1 0h1m0 0h1m0 0h1m2 0h1m1 0h1m1 0h1m1 0h1m1 0h1m0 0h1m0 0h1m1 0h1m1 0h1m2 0h1m1 0h1m0 0h1m1 0h1m1 0h1m1 0h1m1 0h1m1 0h1m4 0h1m7 0h1m-98 1h1m0 0h1m0 0h1m1 0h1m1 0h1m0 0h1m1 0h1m0 0h1m1 0h1m0 0h1m0 0h1m1 0h1m0 0h1m0 0h1m7 0h1m0 0h1m2 0h1m1 0h1m0 0h1m0 0h1m1 0h1m2 0h1m0 0h1m1 0h1m0 0h1m1 0h1m2 0h1m2 0h1m1 0h1m1 0h1m0 0h1m0 0h1m3 0h1m3 0h1m0 0h1m0 0h1m0 0h1m1 0h1m1 0h1m0 0h1m1 0h1m2 0h1m0 0h1m0 0h1m1 0h1m0 0h1m2 0h1m11 0h1m-105 1h1m2 0h1m2 0h1m5 0h1m0 0h1m0 0h1m1 0h1m0 0h1m1 0h1m0 0h1m0 0h1m1 0h1m0 0h1m0 0h1m2 0h1m0 0h1m0 0h1m1 0h1m0 0h1m0 0h1m0 0h1m0 0h1m0 0h1m0 0h1m1 0h1m0 0h1m1 0h1m1 0h1m1 0h1m5 0h1m0 0h1m0 0h1m1 0h1m0 0h1m0 0h1m0 0h1m1 0h1m0 0h1m3 0h1m0 0h1m3 0h1m2 0h1m1 0h1m0 0h1m1 0h1m2 0h1m3 0h1m0 0h1m0 0h1m2 0h1m5 0h1m-99 1h1m5 0h1m1 0h1m0 0h1m1 0h1m1 0h1m1 0h1m1 0h1m2 0h1m0 0h1m0 0h1m3 0h1m0 0h1m3 0h1m1 0h1m0 0h1m0 0h1m0 0h1m0 0h1m5 0h1m0 0h1m0 0h1m0 0h1m3 0h1m2 0h1m1 0h1m3 0h1m0 0h1m0 0h1m1 0h1m4 0h1m0 0h1m1 0h1m0 0h1m3 0h1m2 0h1m0 0h1m0 0h1m0 0h1m0 0h1m1 0h1m1 0h1m0 0h1m0 0h1m2 0h1m-89 1h1m2 0h1m2 0h1m0 0h1m0 0h1m2 0h1m3 0h1m1 0h1m2 0h1m0 0h1m1 0h1m6 0h1m0 0h1m1 0h1m0 0h1m0 0h1m1 0h1m0 0h1m0 0h1m0 0h1m1 0h1m0 0h1m2 0h1m0 0h1m0 0h1m2 0h1m0 0h1m0 0h1m0 0h1m2 0h1m0 0h1m0 0h1m0 0h1m2 0h1m0 0h1m1 0h1m0 0h1m0 0h1m2 0h1m1 0h1m1 0h1m2 0h1m2 0h1m0 0h1m0 0h1m1 0h1m1 0h1m0 0h1m3 0h1m-90 1h1m4 0h1m1 0h1m0 0h1m0 0h1m0 0h1m0 0h1m1 0h1m0 0h1m0 0h1m2 0h1m3 0h1m1 0h1m1 0h1m0 0h1m0 0h1m0 0h1m5 0h1m0 0h1m1 0h1m0 0h1m2 0h1m0 0h1m1 0h1m1 0h1m1 0h1m1 0h1m0 0h1m0 0h1m1 0h1m1 0h1m4 0h1m1 0h1m1 0h1m2 0h1m0 0h1m3 0h1m0 0h1m1 0h1m0 0h1m0 0h1m5 0h1m0 0h1m1 0h1m-93 1h1m6 0h1m0 0h1m0 0h1m1 0h1m1 0h1m0 0h1m0 0h1m5 0h1m1 0h1m0 0h1m1 0h1m1 0h1m0 0h1m0 0h1m6 0h1m0 0h1m1 0h1m1 0h1m1 0h1m5 0h1m2 0h1m0 0h1m0 0h1m1 0h1m0 0h1m0 0h1m0 0h1m1 0h1m1 0h1m0 0h1m0 0h1m4 0h1m4 0h1m1 0h1m0 0h1m0 0h1m1 0h1m0 0h1m1 0h1m1 0h1m0 0h1m-85 1h1m3 0h1m4 0h1m0 0h1m2 0h1m0 0h1m1 0h1m1 0h1m3 0h1m0 0h1m0 0h1m0 0h1m1 0h1m2 0h1m1 0h1m1 0h1m0 0h1m1 0h1m0 0h1m0 0h1m1 0h1m0 0h1m0 0h1m0 0h1m2 0h1m2 0h1m0 0h1m0 0h1m1 0h1m2 0h1m0 0h1m0 0h1m2 0h1m0 0h1m0 0h1m1 0h1m3 0h1m1 0h1m0 0h1m3 0h1m4 0h1m0 0h1m2 0h1m-80 1h1m0 0h1m0 0h1m2 0h1m2 0h1m0 0h1m2 0h1m1 0h1m0 0h1m1 0h1m0 0h1m1 0h1m0 0h1m0 0h1m0 0h1m1 0h1m0 0h1m0 0h1m2 0h1m1 0h1m4 0h1m1 0h1m1 0h1m0 0h1m3 0h1m1 0h1m1 0h1m3 0h1m0 0h1m2 0h1m0 0h1m1 0h1m6 0h1m1 0h1m0 0h1m0 0h1m1 0h1m0 0h1m1 0h1m1 0h1m-80 1h1m0 0h1m1 0h1m0 0h1m1 0h1m5 0h1m1 0h1m6 0h1m0 0h1m1 0h1m1 0h1m0 0h1m0 0h1m3 0h1m0 0h1m0 0h1m0 0h1m4 0h1m0 0h1m0 0h1m0 0h1m0 0h1m0 0h1m0 0h1m0 0h1m0 0h1m1 0h1m1 0h1m1 0h1m1 0h1m1 0h1m1 0h1m0 0h1m0 0h1m0 0h1m2 0h1m0 0h1m1 0h1m2 0h1m0 0h1m2 0h1m0 0h1m-84 1h1m6 0h1m0 0h1m1 0h1m2 0h1m0 0h1m0 0h1m3 0h1m1 0h1m0 0h1m2 0h1m1 0h1m0 0h1m2 0h1m0 0h1m0 0h1m0 0h1m1 0h1m4 0h1m1 0h1m3 0h1m0 0h1m1 0h1m3 0h1m0 0h1m0 0h1m0 0h1m0 0h1m2 0h1m5 0h1m0 0h1m0 0h1m0 0h1m0 0h1m0 0h1m0 0h1m3 0h1m0 0h1m3 0h1m-81 1h1m8 0h1m1 0h1m0 0h1m0 0h1m5 0h1m0 0h1m1 0h1m1 0h1m0 0h1m0 0h1m3 0h1m0 0h1m1 0h1m0 0h1m0 0h1m0 0h1m2 0h1m0 0h1m4 0h1m0 0h1m0 0h1m3 0h1m1 0h1m3 0h1m3 0h1m0 0h1m1 0h1m0 0h1m0 0h1m0 0h1m0 0h1m0 0h1m0 0h1m3 0h1m0 0h1m0 0h1m0 0h1m0 0h1m1 0h1m0 0h1m-81 1h1m2 0h1m0 0h1m1 0h1m2 0h1m1 0h1m0 0h1m1 0h1m3 0h1m0 0h1m2 0h1m0 0h1m3 0h1m0 0h1m1 0h1m0 0h1m4 0h1m1 0h1m0 0h1m1 0h1m2 0h1m0 0h1m0 0h1m4 0h1m0 0h1m0 0h1m3 0h1m1 0h1m1 0h1m0 0h1m0 0h1m0 0h1m0 0h1m0 0h1m0 0h1m0 0h1m0 0h1m0 0h1m0 0h1m2 0h1m1 0h1m-77 1h1m5 0h1m2 0h1m0 0h1m2 0h1m0 0h1m1 0h1m0 0h1m0 0h1m0 0h1m1 0h1m3 0h1m1 0h1m1 0h1m0 0h1m4 0h1m1 0h1m0 0h1m0 0h1m3 0h1m2 0h1m2 0h1m0 0h1m3 0h1m0 0h1m1 0h1m0 0h1m0 0h1m0 0h1m0 0h1m0 0h1m2 0h1m1 0h1m0 0h1m1 0h1m0 0h1m0 0h1m0 0h1m-68 1h1m0 0h1m0 0h1m3 0h1m1 0h1m0 0h1m0 0h1m7 0h1m0 0h1m6 0h1m0 0h1m0 0h1m1 0h1m3 0h1m2 0h1m0 0h1m3 0h1m0 0h1m0 0h1m0 0h1m1 0h1m0 0h1m3 0h1m1 0h1m0 0h1m0 0h1m1 0h1m0 0h1m1 0h1m0 0h1m0 0h1m2 0h1m2 0h1m-73 1h1m10 0h1m0 0h1m0 0h1m9 0h1m2 0h1m0 0h1m0 0h1m1 0h1m0 0h1m2 0h1m0 0h1m0 0h1m0 0h1m1 0h1m1 0h1m2 0h1m1 0h1m0 0h1m0 0h1m0 0h1m1 0h1m4 0h1m0 0h1m0 0h1m0 0h1m0 0h1m0 0h1m0 0h1m5 0h1m-72 1h1m9 0h1m0 0h1m7 0h1m2 0h1m1 0h1m0 0h1m2 0h1m1 0h1m0 0h1m0 0h1m0 0h1m1 0h1m0 0h1m3 0h1m2 0h1m0 0h1m2 0h1m1 0h1m0 0h1m1 0h1m0 0h1m2 0h1m0 0h1m1 0h1m14 0h1m-64 1h1m0 0h1m6 0h1m1 0h1m8 0h1m0 0h1m2 0h1m3 0h1m2 0h1m2 0h1m0 0h1m0 0h1m1 0h1m0 0h1m2 0h1m2 0h1m4 0h1m0 0h1m1 0h1m1 0h1m3 0h1m1 0h1m-68 1h1m5 0h1m0 0h1m2 0h1m4 0h1m0 0h1m4 0h1m14 0h1m1 0h1m2 0h1m0 0h1m0 0h1m0 0h1m0 0h1m0 0h1m2 0h1m3 0h1m0 0h1m3 0h1m1 0h1m-56 1h1m3 0h1m23 0h1m10 0h1m3 0h1m1 0h1m0 0h1m12 0h1m1 0h1m-51 1h1m8 0h1m2 0h1m0 0h1m3 0h1m2 0h1m0 0h1m2 0h1m12 0h1m0 0h1m-37 1h1m3 0h1m13 0h1m3 0h1m1 0h1m8 0h1m5 0h1m1 0h1m-54 1h1m14 0h1m7 0h1m1 0h1m7 0h1m1 0h1m1 0h1m1 0h1m2 0h1m1 0h1m-35 1h1m15 0h1m1 0h1m12 0h1m1 0h1m7 0h1m-34 1h1m21 1h1m-15 1h1m10 0h1" stroke="#767676" stroke-width="1.4" fill="none"/>
<path d="M182 104h2m14 1h2m16 0h2m-25 1h2m0 0h2m0 0h2m-29 1h2m4 1h2m24 0h2m-36 1h2m15 0h2m2 0h2m-26 2h2m4 0h2m15 0h2m-14 2h2m13 0h2m4 1h2m21 0h2m-89 1h2m20 0h2m9 0h2m4 0h2m28 0h2m1 0h2m3 0h2m-55 2h2m-5 1h2m19 0h2m7 0h2m19 0h2m2 0h2m-55 1h2m2 0h2m7 0h2m12 0h2m14 0h2m-55 1h2m16 0h2m-7 1h2m16 0h2m26 0h2m-43 1h2m5 0h2m24 0h2m-55 1h2m40 0h2m11 0h2m13 0h2m-62 1h2m5 0h2m10 0h2m16 0h2m5 0h2m10 0h2m6 0h2m-65 1h2m5 0h2m8 0h2m13 0h2m4 0h2m10 0h2m0 0h2m-54 1h2m-1 0h2m2 0h2m1 0h2m11 0h2m30 0h2m-64 1h2m13 0h2m-1 0h2m18 0h2m15 0h2m6 0h2m-74 1h2m39 0h2m0 0h2m1 0h2m0 0h2m17 0h2m0 0h2m-1 0h2m2 0h2m-40 1h2m8 0h2m1 0h2m13 0h2m1 0h2m-1 0h2m5 0h2m15 0h2m-1 0h2m-76 1h2m8 0h2m2 0h2m25 0h2m14 0h2m8 0h2m-77 1h2m14 0h2m4 0h2m5 0h2m2 0h2m2 0h2m4 0h2m6 0h2m8 0h2m-45 1h2m1 0h2m8 0h2m1 0h2m29 0h2m-64 1h2m1 0h2m4 0h2m0 0h2m5 0h2m1 0h2m0 0h2m-1 0h2m1 0h2m7 0h2m2 0h2m7 0h2m20 0h2m0 0h2m13 0h2m-78 1h2m16 0h2m21 0h2m5 0h2m-1 0h2m4 0h2m-76 1h2m22 0h2m4 0h2m0 0h2m4 0h2m0 0h2m-1 0h2m2 0h2m12 0h2m1 0h2m-1 0h2m2 0h2m-42 1h2m12 0h2m3 0h2m4 0h2m2 0h2m17 0h2m-75 1h2m5 0h2m0 0h2m-1 0h2m3 0h2m0 0h2m3 0h2m1 0h2m-1 0h2m11 0h2m2 0h2m1 0h2m-1 0h2m6 0h2m-46 1h2m6 0h2m2 0h2m9 0h2m0 0h2m8 0h2m5 0h2m4 0h2m9 0h2m15 0h2m-80 1h2m4 0h2m1 0h2m17 0h2m1 0h2m7 0h2m0 0h2m22 0h2m-1 0h2m-85 1h2m9 0h2m0 0h2m0 0h2m10 0h2m-1 0h2m5 0h2m-1 0h2m2 0h2m23 0h2m0 0h2m12 0h2m-48 1h2m5 0h2m8 0h2m17 0h2m6 0h2m-1 0h2m1 0h2m-36 1h2m0 0h2m12 0h2m-1 0h2m3 0h2m-1 0h2m22 0h2m9 0h2m-88 1h2m0 0h2m-1 0h2m10 0h2m7 0h2m8 0h2m2 0h2m18 0h2m-85 1h2m19 0h2m0 0h2m35 0h2m8 0h2m8 0h2m-60 1h2m17 0h2m3 0h2m-1 0h2m6 0h2m1 0h2m12 0h2m9 0h2m4 0h2m-84 1h2m2 0h2m23 0h2m-1 0h2m7 0h2m-1 0h2m14 0h2m2 0h2m-1 0h2m18 0h2m-72 1h2m4 0h2m-1 0h2m1 0h2m19 0h2m0 0h2m2 0h2m-1 0h2m5 0h2m5 0h2m0 0h2m1 0h2m3 0h2m1 0h2m-79 1h2m20 0h2m0 0h2m8 0h2m1 0h2m-1 0h2m-1 0h2m6 0h2m7 0h2m3 0h2m2 0h2m6 0h2m14 0h2m-83 1h2m0 0h2m9 0h2m1 0h2m7 0h2m3 0h2m14 0h2m-1 0h2m6 0h2m12 0h2m15 0h2m-82 1h2m0 0h2m3 0h2m15 0h2m2 0h2m0 0h2m-1 0h2m1 0h2m2 0h2m-1 0h2m-1 0h2m7 0h2m2 0h2m1 0h2m-62 1h2m1 0h2m5 0h2m22 0h2m0 0h2m1 0h2m-1 0h2m0 0h2m0 0h2m-1 0h2m0 0h2m2 0h2m1 0h2m3 0h2m5 0h2m-68 1h2m11 0h2m1 0h2m17 0h2m0 0h2m10 0h2m1 0h2m6 0h2m2 0h2m3 0h2m6 0h2m5 0h2m-84 1h2m-1 0h2m0 0h2m17 0h2m2 0h2m1 0h2m1 0h2m1 0h2m7 0h2m1 0h2m3 0h2m2 0h2m-1 0h2m2 0h2m-69 1h2m19 0h2m5 0h2m-1 0h2m1 0h2m8 0h2m0 0h2m10 0h2m0 0h2m6 0h2m3 0h2m-66 1h2m-1 0h2m-1 0h2m10 0h2m11 0h2m-1 0h2m1 0h2m0 0h2m2 0h2m-1 0h2m7 0h2m1 0h2m33 0h2m-99 1h2m9 0h2m25 0h2m-1 0h2m0 0h2m5 0h2m1 0h2m-1 0h2m-1 0h2m11 0h2m0 0h2m0 0h2m4 0h2m8 0h2m0 0h2m0 0h2m-85 1h2m8 0h2m-1 0h2m-1 0h2m1 0h2m7 0h2m0 0h2m0 0h2m1 0h2m-1 0h2m-1 0h2m0 0h2m2 0h2m-1 0h2m8 0h2m-1 0h2m4 0h2m-1 0h2m0 0h2m1 0h2m2 0h2m0 0h2m-1 0h2m6 0h2m-80 1h2m-1 0h2m3 0h2m8 0h2m-1 0h2m10 0h2m3 0h2m-1 0h2m1 0h2m2 0h2m-1 0h2m1 0h2m-1 0h2m0 0h2m-1 0h2m4 0h2m1 0h2m3 0h2m19 0h2m7 0h2m-102 1h2m11 0h2m1 0h2m2 0h2m5 0h2m-1 0h2m0 0h2m-1 0h2m-1 0h2m-1 0h2m-1 0h2m-1 0h2m-1 0h2m-1 0h2m0 0h2m-1 0h2m-1 0h2m-1 0h2m-1 0h2m-1 0h2m0 0h2m-1 0h2m-1 0h2m3 0h2m-1 0h2m0 0h2m0 0h2m0 0h2m1 0h2m7 0h2m7 0h2m-86 1h2m7 0h2m7 0h2m8 0h2m0 0h2m0 0h2m0 0h2m0 0h2m0 0h2m-1 0h2m-1 0h2m1 0h2m0 0h2m-1 0h2m-1 0h2m-1 0h2m-1 0h2m1 0h2m-1 0h2m-1 0h2m0 0h2m1 0h2m1 0h2m-1 0h2m5 0h2m32 0h2m-104 1h2m11 0h2m3 0h2m9 0h2m0 0h2m0 0h2m0 0h2m-1 0h2m0 0h2m-1 0h2m-1 0h2m-1 0h2m-1 0h2m-1 0h2m-1 0h2m-1 0h2m0 0h2m-1 0h2m-1 0h2m-1 0h2m7 0h2m6 0h2m4 0h2m0 0h2m8 0h2m-94 1h2m22 0h2m2 0h2m0 0h2m5 0h2m-1 0h2m-1 0h2m-1 0h2m-1 0h2m1 0h2m-1 0h2m-1 0h2m-1 0h2m0 0h2m-1 0h2m-1 0h2m-1 0h2m-1 0h2m0 0h2m0 0h2m-1 0h2m1 0h2m1 0h2m3 0h2m0 0h2m4 0h2m-1 0h2m3 0h2m-85 1h2m4 0h2m4 0h2m7 0h2m0 0h2m5 0h2m-1 0h2m1 0h2m0 0h2m0 0h2m0 0h2m0 0h2m-1 0h2m-1 0h2m0 0h2m0 0h2m-1 0h2m-1 0h2m-1 0h2m0 0h2m-1 0h2m0 0h2m-1 0h2m-1 0h2m-1 0h2m-1 0h2m-1 0h2m-1 0h2m2 0h2m2 0h2m2 0h2m8 0h2m5 0h2m-81 1h2m19 0h2m-1 0h2m-1 0h2m-1 0h2m1 0h2m-1 0h2m-1 0h2m0 0h2m-1 0h2m-1 0h2m-1 0h2m-1 0h2m-1 0h2m-1 0h2m-1 0h2m0 0h2m-1 0h2m-1 0h2m-1 0h2m-1 0h2m-1 0h2m-1 0h2m-1 0h2m-1 0h2m-1 0h2m0 0h2m-1 0h2m1 0h2m9 0h2m1 0h2m-60 1h2m2 0h2m1 0h2m2 0h2m-1 0h2m2 0h2m0 0h2m-1 0h2m-1 0h2m-1 0h2m0 0h2m-1 0h2m0 0h2m-1 0h2m-1 0h2m-1 0h2m-1 0h2m-1 0h2m-1 0h2m-1 0h2m-1 0h2m-1 0h2m-1 0h2m-1 0h2m-1 0h2m7 0h2m4 0h2m-69 1h2m1 0h2m7 0h2m0 0h2m2 0h2m1 0h2m3 0h2m1 0h2m2 0h2m-1 0h2m-1 0h2m-1 0h2m-1 0h2m-1 0h2m-1 0h2m-1 0h2m-1 0h2m-1 0h2m-1 0h2m-1 0h2m-1 0h2m-1 0h2m0 0h2m0 0h2m-1 0h2m-1 0h2m-1 0h2m0 0h2m0 0h2m12 0h2m-75 1h2m12 0h2m2 0h2m3 0h2m2 0h2m1 0h2m-1 0h2m0 0h2m-1 0h2m1 0h2m-1 0h2m-1 0h2m-1 0h2m-1 0h2m-1 0h2m-1 0h2m-1 0h2m0 0h2m0 0h2m-1 0h2m1 0h2m0 0h2m4 0h2m9 0h2m1 0h2m0 0h2m3 0h2m-76 1h2m2 0h2m2 0h2m8 0h2m2 0h2m1 0h2m0 0h2m1 0h2m-1 0h2m-1 0h2m-1 0h2m-1 0h2m-1 0h2m1 0h2m-1 0h2m-1 0h2m0 0h2m-1 0h2m-1 0h2m0 0h2m0 0h2m3 0h2m-1 0h2m9 0h2m-71 1h2m6 0h2m7 0h2m2 0h2m-1 0h2m8 0h2m0 0h2m0 0h2m0 0h2m0 0h2m1 0h2m-1 0h2m0 0h2m0 0h2m2 0h2m0 0h2m9 0h2m2 0h2m-1 0h2m-74 1h2m5 0h2m10 0h2m5 0h2m4 0h2m2 0h2m0 0h2m-1 0h2m-1 0h2m2 0h2m0 0h2m1 0h2m0 0h2m0 0h2m5 0h2m2 0h2m-1 0h2m23 0h2m0 0h2m-88 1h2m2 0h2m18 0h2m-1 0h2m2 0h2m1 0h2m2 0h2m1 0h2m3 0h2m-1 0h2m-1 0h2m4 0h2m8 0h2m24 0h2m-96 1h2m5 0h2m5 0h2m4 0h2m4 0h2m3 0h2m4 0h2m-1 0h2m5 0h2m1 0h2m8 0h2m25 0h2m-1 0h2m-85 1h2m-1 0h2m5 0h2m20 0h2m9 0h2m4 0h2m0 0h2m2 0h2m0 0h2m30 0h2m-76 1h2m8 0h2m2 0h2m10 0h2m4 0h2m4 0h2m17 0h2m-94 1h2m49 0h2m-1 0h2m1 0h2m11 0h2m2 0h2m22 0h2m-68 1h2m2 0h2m6 0h2m15 0h2m-1 0h2m0 0h2m3 0h2m-1 0h2m4 0h2m1 0h2m1 0h2m3 0h2m-65 1h2m1 0h2m-1 0h2m3 0h2m16 0h2m7 0h2m3 0h2m-1 0h2m5 0h2m5 0h2m-1 0h2m-1 0h2m10 0h2m-83 1h2m19 0h2m18 0h2m5 0h2m11 0h2m7 0h2m6 0h2m-38 1h2m0 0h2m2 0h2m-1 0h2m12 0h2m-1 0h2m0 0h2m0 0h2m1 0h2m1 0h2m6 0h2m11 0h2m-88 1h2m0 0h2m6 0h2m1 0h2m2 0h2m0 0h2m0 0h2m5 0h2m-1 0h2m2 0h2m20 0h2m14 0h2m-54 1h2m4 0h2m-1 0h2m2 0h2m9 0h2m1 0h2m1 0h2m0 0h2m1 0h2m11 0h2m13 0h2m-70 1h2m6 0h2m22 0h2m5 0h2m13 0h2m-1 0h2m0 0h2m-63 1h2m21 0h2m9 0h2m9 0h2m1 0h2m5 0h2m-47 1h2m15 0h2m-1 0h2m11 0h2m-36 1h2m4 0h2m18 0h2m3 0h2m3 0h2m9 0h2m-56 1h2m5 0h2m23 0h2m-1 0h2m2 0h2m14 0h2m1 0h2m2 0h2m0 0h2m3 0h2m2 0h2m-75 1h2m44 0h2m4 0h2m-64 1h2m17 0h2m10 0h2m1 0h2m3 0h2m2 0h2m22 0h2m-77 1h2m22 0h2m9 0h2m14 0h2m0 0h2m3 0h2m0 0h2m0 0h2m6 0h2m-42 1h2m-1 0h2m7 0h2m-1 0h2m2 0h2m1 0h2m1 0h2m1 0h2m7 0h2m-1 0h2m18 0h2m-60 1h2m6 0h2m-1 0h2m19 0h2m4 0h2m7 0h2m-1 0h2m1 0h2m-62 1h2m45 0h2m27 0h2m-74 1h2m34 0h2m-53 1h2m6 0h2m19 0h2m2 0h2m0 0h2m10 0h2m2 0h2m16 0h2m1 0h2m-1 0h2m-42 1h2m45 0h2m-75 1h2m44 0h2m6 0h2m2 0h2m-2 1h2m19 0h2m-74 1h2m2 0h2m21 0h2m-1 0h2m27 0h2m-22 1h2m22 0h2m4 0h2m-41 1h2m10 0h2m7 0h2m11 0h2m-62 1h2m29 0h2m1 0h2m5 0h2m1 0h2m4 0h2m-31 1h2m2 0h2m32 0h2m-54 2h2m6 0h2m3 0h2m25 0h2m-32 1h2m8 0h2m28 1h2m-8 1h2m0 0h2m7 1h2m-39 1h2m7 0h2m-27 1h2m-12 1h2m4 0h2m18 0h2m-12 5h2m0 0h2m9 1h2m12 1h2m-18 1h2m18 2h2" stroke="#f00" stroke-width="1.8" fill="none"/>
</g>
<path d="M44.4 224.3v3.6M44.4 10v-3.6M50.69 224.3v3.6M50.69 10v-3.6M56.98 224.3v3.6M56.98 10v-3.6M63.27 224.3v3.6M63.27 10v-3.6M69.56 224.3v7.2M69.56 10v-7.2M75.86 224.3v3.6M75.86 10v-3.6M82.15 224.3v3.6M82.15 10v-3.6M88.44 224.3v3.6M88.44 10v-3.6M94.73 224.3v3.6M94.73 10v-3.6M101.02 224.3v7.2M101.02 10v-7.2M107.31 224.3v3.6M107.31 10v-3.6M113.6 224.3v3.6M113.6 10v-3.6M119.89 224.3v3.6M119.89 10v-3.6M126.19 224.3v3.6M126.19 10v-3.6M132.48 224.3v7.2M132.48 10v-7.2M138.77 224.3v3.6M138.77 10v-3.6M145.06 224.3v3.6M145.06 10v-3.6M151.35 224.3v3.6M151.35 10v-3.6M157.64 224.3v3.6M157.64 10v-3.6M163.93 224.3v7.2M163.93 10v-7.2M170.22 224.3v3.6M170.22 10v-3.6M176.51 224.3v3.6M176.51 10v-3.6M182.81 224.3v3.6M182.81 10v-3.6M189.1 224.3v3.6M189.1 10v-3.6M195.39 224.3v7.2M195.39 10v-7.2M201.68 224.3v3.6M201.68 10v-3.6M207.97 224.3v3.6M207.97 10v-3.6M214.26 224.3v3.6M214.26 10v-3.6M220.55 224.3v3.6M220.55 10v-3.6M226.84 224.3v7.2M226.84 10v-7.2M233.14 224.3v3.6M233.14 10v-3.6M239.43 224.3v3.6M239.43 10v-3.6M245.72 224.3v3.6M245.72 10v-3.6M252.01 224.3v3.6M252.01 10v-3.6M258.3 224.3v7.2M258.3 10v-7.2M44.4 224.3h-3.6M258.3 224.3h3.6M44.4 218h-3.6M258.3 218h3.6M44.4 211.69h-3.6M258.3 211.69h3.6M44.4 205.39h-7.2M258.3 205.39h7.2M44.4 199.09h-3.6M258.3 199.09h3.6M44.4 192.79h-3.6M258.3 192.79h3.6M44.4 186.48h-3.6M258.3 186.48h3.6M44.4 180.18h-3.6M258.3 180.18h3.6M44.4 173.88h-7.2M258.3 173.88h7.2M44.4 167.57h-3.6M258.3 167.57h3.6M44.4 161.27h-3.6M258.3 161.27h3.6M44.4 154.97h-3.6M258.3 154.97h3.6M44.4 148.66h-3.6M258.3 148.66h3.6M44.4 142.36h-7.2M258.3 142.36h7.2M44.4 136.06h-3.6M258.3 136.06h3.6M44.4 129.76h-3.6M258.3 129.76h3.6M44.4 123.45h-3.6M258.3 123.45h3.6M44.4 117.15h-3.6M258.3 117.15h3.6M44.4 110.85h-7.2M258.3 110.85h7.2M44.4 104.54h-3.6M258.3 104.54h3.6M44.4 98.24h-3.6M258.3 98.24h3.6M44.4 91.94h-3.6M258.3 91.94h3.6M44.4 85.64h-3.6M258.3 85.64h3.6M44.4 79.33h-7.2M258.3 79.33h7.2M44.4 73.03h-3.6M258.3 73.03h3.6M44.4 66.73h-3.6M258.3 66.73h3.6M44.4 60.42h-3.6M258.3 60.42h3.6M44.4 54.12h-3.6M258.3 54.12h3.6M44.4 47.82h-7.2M258.3 47.82h7.2M44.4 41.51h-3.6M258.3 41.51h3.6M44.4 35.21h-3.6M258.3 35.21h3.6M44.4 28.91h-3.6M258.3 28.91h3.6M44.4 22.61h-3.6M258.3 22.61h3.6M44.4 16.3h-7.2M258.3 16.3h7.2M44.4 10h-3.6M258.3 10h3.6" stroke="#2a2a2a" stroke-width="1.1" fill="none"/>
<rect x="44.4" y="10" width="213.9" height="214.3" fill="none" stroke="#484848" stroke-width="1.4"/>
<text x="69.56" y="242.8" font-size="8.5" text-anchor="middle">15</text>
<text x="101.02" y="242.8" font-size="8.5" text-anchor="middle">20</text>
<text x="132.48" y="242.8" font-size="8.5" text-anchor="middle">25</text>
<text x="163.93" y="242.8" font-size="8.5" text-anchor="middle">30</text>
<text x="195.39" y="242.8" font-size="8.5" text-anchor="middle">35</text>
<text x="226.84" y="242.8" font-size="8.5" text-anchor="middle">40</text>
<text x="258.3" y="242.8" font-size="8.5" text-anchor="middle">45</text>
<text x="32.9" y="209.23" font-size="8.5" text-anchor="end">-15</text>
<text x="32.9" y="177.72" font-size="8.5" text-anchor="end">-10</text>
<text x="32.9" y="146.2" font-size="8.5" text-anchor="end">-5</text>
<text x="32.9" y="114.69" font-size="8.5" text-anchor="end">0</text>
<text x="32.9" y="83.18" font-size="8.5" text-anchor="end">5</text>
<text x="32.9" y="51.66" font-size="8.5" text-anchor="end">10</text>
<text x="32.9" y="20.15" font-size="8.5" text-anchor="end">15</text>
<text x="151.35" y="257.7" font-size="10.2" text-anchor="middle">μ<tspan font-size="8.6" dy="1.5">l</tspan><tspan dy="-1.5">, mas/yr</tspan></text>
<text transform="translate(14.7 117.15) rotate(-90)" font-size="10.2" text-anchor="middle">μ<tspan font-size="8.6" dy="2.7">b</tspan><tspan dy="-2.7">, mas/yr</tspan></text>
<text x="56.1" y="40" font-size="18">a</text>
<clipPath id="clipb"><rect x="364.4" y="9.6" width="215.1" height="214.7"/></clipPath>
<g clip-path="url(#clipb)">
<rect x="364.4" y="9.6" width="215.1" height="214.7" fill="#ffffff"/>
<path d="M410.5 9l148.4 0 1.1 5.9 1.5 4.3 3 5.9 7.5 12.7 3 3.7 5 2 0 135.2-3.4 2.3-3.6 4-5.5 10.2-5.5 11.9-3.7 9.4-0.8 3.5-0.1 5-173.1 0 1.9-3 13.1-15 10.2-20.1 13.9-33.4 3-18.5 1.2-12.5-0.3-10-2-26-2.7-22-3.6-23.8-3.7-13.7-4.6-13-0.6-5z" fill="#ebebeb" stroke="#3a3a3a" stroke-width="0.55"/>
<path d="M427 9l114.8 0 15 33.5 7.4 20 1.9 12.5 4.1 12 1 13.5 0.4 16.5-0.3 13.5-5.9 38.5-5.3 14-9.1 15-7 13.2-2 5.8-1.7 8-141.5 0 1.6-3 11-15 8.7-16.5 6.9-11 12-31.2 3.5-22.2 0.4-5.6-0.4-8.5-4.1-21.5-1.7-14.5-4-24-1.1-12-4.4-25.5-0.4-5.5z" fill="#d8d8d8" stroke="#3a3a3a" stroke-width="0.55"/>
<path d="M439.5 9l90.1 0 10.9 17 6.3 14 5.4 10.5 4 11.5 1.8 14 3.5 10 1 12-0.9 30-2.9 22-0.9 16.5-1 4-3.6 8.5-10 17-5.7 14.5-5.5 11.5-1 3-123.3 0 1.9-4 9.7-14 9.3-16.5 6.8-10 10.3-30 2.5-14 1.7-12.5 0-5-0.8-8-4.8-26-3.2-36-1.3-23-0.4-17z" fill="#c4c4c4" stroke="#3a3a3a" stroke-width="0.55"/>
<path d="M450 9l68.4 0 1.7 3 11.3 14 7.6 14 6.7 9 2.1 4.5 2.7 9 1.5 13.5 2.8 10.5 0.8 12-3.4 53-0.1 15.5-1.2 3.5-4.8 8-10.2 11-2.3 3.5-5.1 12-5.8 20-108.2 0 1.8-4 18.7-29.1 2.5-3.2 5-5.2 1.8-2.5 4.5-13 3.6-14.5 2.4-19.5 0.9-13-0.7-9.5-3.8-18-0.7-6-0.3-23-1.8-24.5 0.1-13.5 1-17.5z" fill="#b1b1b1" stroke="#3a3a3a" stroke-width="0.55"/>
<path d="M460.5 9l47.4 0 2.4 4 10.7 10 3.5 4 7.1 14 9.1 10.5 4.1 11 3.5 24.5 0.6 11.5-1.3 16-4.1 32.5-0.3 6.5 0.7 13-1.3 3.5-4.3 6.5-10 9-3.5 5.5-2.3 5.5-2.5 11.5-4.6 17-93.4 0 1.7-4 18.7-29.5 15.1-15.5 3.6-6 1.6-4 0-11-1.5-9 0.3-33-4.5-20-0.4-4 1-14.5-0.6-23.5-1.1-11 1.4-13 2.7-13 0.4-5z" fill="#9d9d9d" stroke="#3a3a3a" stroke-width="0.55"/>
<path d="M470 9l28.2 0 0.9 2 1.6 2 15.3 13.5 1.7 3 4.9 11.5 10.2 10.5 5.8 11 4.3 25 0.5 6.5-0.2 6-3.4 17-4 11.5-5.5 12-1 3.5 0 5 3.8 8 1 5 0 3-1.1 2.1-2.3 2.4-1.7 0.8-2.5 0.2-7.5-0.6-16-4.5-19.5-0.4-3.5-2-1.9-2-0.7-1.5-0.6-8-0.9-4.5-5.7-9.5-1.3-3.5-0.6-10 0-13-4.4-20-0.7-26.5 0.7-13.5 1-9.5 4.5-27 0.4-5.5zM481.5 180l9-0.5 4.5 0.8 6.5 3.2 2.5 2.4 2.3 3.1 2.9 8 0.7 6.5 0 6.5-2 15-76.9 0 1.2-3 6.8-11.4 8.5-16.1 3.1-4 5.4-4.2 3-1.6 22.4-4.7z" fill="#898989" stroke="#3a3a3a" stroke-width="0.55"/>
<path d="M489 17l3-0.2 4 1.5 3.2 2.2 5.5 5 2.4 3.5 5.8 12.5 9.1 8.7 2.5 3.1 5.7 10.2 3 12 3.4 11.5 0.7 6-0.2 6.5-1.6 10-1.5 5-13.9 24.5-2.6 2.4-5.5 2.9-2 0.3-3-0.4-9.5-2.7-4-1.6-12.3-8.4-1.5-2-0.7-2.5-1.2-9.5-0.2-7.5-1.1-9-3.3-9-0.6-7-2.5-10.5-0.9-11 0.6-10.5 1.1-5 9-22 4.6-6.4 2-1.5 2.4-1.1zM478 191l5.5 0.1 6.5 1.6 3.5 1.6 2 2.2 2.5 4.5 1.2 4 1.2 8.5 0.5 11.5-60 0 5.6-15.1 5.5-9.1 2.5-3.2 4.5-2.7 7-2.8 11.9-1.1z" fill="#767676" stroke="#3a3a3a" stroke-width="0.55"/>
<path d="M491.5 30.4l1.5 0.6 1 1.1 6.2 9.9 9.9 9.5 9.4 11 1.5 3.1 7 21.4 0.7 13.5-0.7 9-1.3 4-2.7 4.3-4.5 5.2-6 3.7-4.5 1.8-4-0.7-7-3.5-3.5-4.1-4.4-7.2-3.7-13.5-3.3-22.5-4.3-13.5-0.3-9 0.7-4.5 9.3-17 1.5-1.9 1.1-0.6zM472 200.4l4-0.1 6.5 1.2 3 1.2 2 1.8 2.5 3.5 1.3 3 1.7 14-42.1 0 3.2-12 1.4-2.6 3-3.8 2.5-2.7 2-1.3 8.6-2.1z" fill="#626262" stroke="#3a3a3a" stroke-width="0.55"/>
<path d="M495 55.4l1-0.2 1.5 0.4 2.3 2.4 0.9 3.5-1.2 1.9-1 0.3-1.5-0.4-2.2-2.3-0.9-3.5 1-2zM507 74l2 0.1 2 0.9 2 1.6 1.9 2.4 2.5 5.5 1.5 7 0.5 7.5-1.3 8-1.1 2-1.4 1.5-2.1 1.4-2 0.6-2-0.2-3-1.4-3.7-3.4-2.9-5-2-8 0-3 0.6-3.5 2.9-9 2.3-3.5 3-1.5zM473 212.4l4.5-0.2 2.5 1 2 1.5 1.8 3.8 0.8 6.5-21.5 0 0.5-4.5 2.2-4.5 2.4-2 4.5-1.5z" fill="#4e4e4e" stroke="#3a3a3a" stroke-width="0.55"/>
</g>
<path d="M364.4 224.3v4.2M364.4 9.6v-4.2M370.73 224.3v4.2M370.73 9.6v-4.2M377.05 224.3v4.2M377.05 9.6v-4.2M383.38 224.3v4.2M383.38 9.6v-4.2M389.71 224.3v8.3M389.71 9.6v-8.3M396.03 224.3v4.2M396.03 9.6v-4.2M402.36 224.3v4.2M402.36 9.6v-4.2M408.69 224.3v4.2M408.69 9.6v-4.2M415.01 224.3v4.2M415.01 9.6v-4.2M421.34 224.3v8.3M421.34 9.6v-8.3M427.66 224.3v4.2M427.66 9.6v-4.2M433.99 224.3v4.2M433.99 9.6v-4.2M440.32 224.3v4.2M440.32 9.6v-4.2M446.64 224.3v4.2M446.64 9.6v-4.2M452.97 224.3v8.3M452.97 9.6v-8.3M459.3 224.3v4.2M459.3 9.6v-4.2M465.62 224.3v4.2M465.62 9.6v-4.2M471.95 224.3v4.2M471.95 9.6v-4.2M478.28 224.3v4.2M478.28 9.6v-4.2M484.6 224.3v8.3M484.6 9.6v-8.3M490.93 224.3v4.2M490.93 9.6v-4.2M497.26 224.3v4.2M497.26 9.6v-4.2M503.58 224.3v4.2M503.58 9.6v-4.2M509.91 224.3v4.2M509.91 9.6v-4.2M516.24 224.3v8.3M516.24 9.6v-8.3M522.56 224.3v4.2M522.56 9.6v-4.2M528.89 224.3v4.2M528.89 9.6v-4.2M535.21 224.3v4.2M535.21 9.6v-4.2M541.54 224.3v4.2M541.54 9.6v-4.2M547.87 224.3v8.3M547.87 9.6v-8.3M554.19 224.3v4.2M554.19 9.6v-4.2M560.52 224.3v4.2M560.52 9.6v-4.2M566.85 224.3v4.2M566.85 9.6v-4.2M573.17 224.3v4.2M573.17 9.6v-4.2M579.5 224.3v8.3M579.5 9.6v-8.3M364.4 224.3h-4.2M579.5 224.3h4.2M364.4 217.99h-4.2M579.5 217.99h4.2M364.4 211.67h-4.2M579.5 211.67h4.2M364.4 205.36h-8.3M579.5 205.36h8.3M364.4 199.04h-4.2M579.5 199.04h4.2M364.4 192.73h-4.2M579.5 192.73h4.2M364.4 186.41h-4.2M579.5 186.41h4.2M364.4 180.1h-4.2M579.5 180.1h4.2M364.4 173.78h-8.3M579.5 173.78h8.3M364.4 167.47h-4.2M579.5 167.47h4.2M364.4 161.15h-4.2M579.5 161.15h4.2M364.4 154.84h-4.2M579.5 154.84h4.2M364.4 148.52h-4.2M579.5 148.52h4.2M364.4 142.21h-8.3M579.5 142.21h8.3M364.4 135.89h-4.2M579.5 135.89h4.2M364.4 129.58h-4.2M579.5 129.58h4.2M364.4 123.26h-4.2M579.5 123.26h4.2M364.4 116.95h-4.2M579.5 116.95h4.2M364.4 110.64h-8.3M579.5 110.64h8.3M364.4 104.32h-4.2M579.5 104.32h4.2M364.4 98.01h-4.2M579.5 98.01h4.2M364.4 91.69h-4.2M579.5 91.69h4.2M364.4 85.38h-4.2M579.5 85.38h4.2M364.4 79.06h-8.3M579.5 79.06h8.3M364.4 72.75h-4.2M579.5 72.75h4.2M364.4 66.43h-4.2M579.5 66.43h4.2M364.4 60.12h-4.2M579.5 60.12h4.2M364.4 53.8h-4.2M579.5 53.8h4.2M364.4 47.49h-8.3M579.5 47.49h8.3M364.4 41.17h-4.2M579.5 41.17h4.2M364.4 34.86h-4.2M579.5 34.86h4.2M364.4 28.54h-4.2M579.5 28.54h4.2M364.4 22.23h-4.2M579.5 22.23h4.2M364.4 15.91h-8.3M579.5 15.91h8.3M364.4 9.6h-4.2M579.5 9.6h4.2" stroke="#2a2a2a" stroke-width="1.1" fill="none"/>
<rect x="364.4" y="9.6" width="215.1" height="214.7" fill="none" stroke="#484848" stroke-width="1.4"/>
<text x="389.71" y="244.4" font-size="9.8" text-anchor="middle">15</text>
<text x="421.34" y="244.4" font-size="9.8" text-anchor="middle">20</text>
<text x="452.97" y="244.4" font-size="9.8" text-anchor="middle">25</text>
<text x="484.6" y="244.4" font-size="9.8" text-anchor="middle">30</text>
<text x="516.24" y="244.4" font-size="9.8" text-anchor="middle">35</text>
<text x="547.87" y="244.4" font-size="9.8" text-anchor="middle">40</text>
<text x="579.5" y="244.4" font-size="9.8" text-anchor="middle">45</text>
<text x="351.6" y="209.66" font-size="9.8" text-anchor="end">-15</text>
<text x="351.6" y="178.09" font-size="9.8" text-anchor="end">-10</text>
<text x="351.6" y="146.52" font-size="9.8" text-anchor="end">-5</text>
<text x="351.6" y="114.94" font-size="9.8" text-anchor="end">0</text>
<text x="351.6" y="83.37" font-size="9.8" text-anchor="end">5</text>
<text x="351.6" y="51.8" font-size="9.8" text-anchor="end">10</text>
<text x="351.6" y="20.22" font-size="9.8" text-anchor="end">15</text>
<text x="471.95" y="264.9" font-size="12" text-anchor="middle">μ<tspan font-size="10.3" dy="2">l</tspan><tspan dy="-2">, mas/yr</tspan></text>
<text transform="translate(329.4 116.95) rotate(-90)" font-size="12" text-anchor="middle">μ<tspan font-size="10.3" dy="3.6">b</tspan><tspan dy="-3.6">, mas/yr</tspan></text>
<text x="378.2" y="40.3" font-size="18">b</text>
<clipPath id="clipc"><rect x="44.3" y="282" width="214.3" height="214.3"/></clipPath>
<g clip-path="url(#clipc)">
<rect x="44.3" y="282" width="214.3" height="214.3" fill="#ffffff"/>
<path d="M168 284.4l4.5-0.2 5 0.9 9 2.7 11.5 4.6 4.5 2.7 14.1 10.9 13.8 15.5 3.4 5 8.4 15.5 5.9 20 2.3 18.5 0.3 8-2.1 16-4.1 19-5.2 16-3.6 8-4.8 9.5-7.1 12.5-13.6 20-1.2 3.5 0.1 4-84.8 0-1.3-3.9-3-5-15.7-20.6-1.4-3.5-2.6-9.5-2.3-24-0.5-23.5 0.7-26 2.6-25.5 3.9-13.5 3.6-10.5 4.8-10 3.7-5.5 5.2-6.6 8.5-7.7 12-7.4 25.1-9.8z" fill="#ebebeb" stroke="#3a3a3a" stroke-width="0.55"/>
<path d="M173 300l3.5 0 3.5 0.8 10.5 3.2 4.5 2.2 13.3 8.8 11.7 13.5 7.3 14.5 1.9 5.5 3.5 17.5 0.7 20.5-1.7 22-2.9 22-4 16-7.2 14.5-3 4.5-7.6 9-11.5 10-3 1.8-5.5 2.3-7.5 2.8-3.5 0.8-17-0.7-12.5-3.3-5-2.5-12.1-9.2-9.6-10-2.4-4-4.3-13.5-1.8-17.5 0.7-47.5 1.8-26 0.9-5 2.7-9.5 4.4-10.5 3-5.5 6.2-8 5-4.7 5.5-4.4 8.5-4.7 5-1.9 8-2.5 9.7-1.3z" fill="#d8d8d8" stroke="#3a3a3a" stroke-width="0.55"/>
<path d="M172 308l4.5 0.1 7 1.7 5 1.4 4 1.9 12 7.6 4.5 4.6 5.4 6.7 6.1 11.5 2.4 7 3.4 16.5 0.9 20-1.3 22-2.6 20.5-3.8 15.5-5.8 12-3.2 5-5 5.8-4 3.9-7 5.6-6 3.3-9.5 3.5-4 0.9-15.5-1.3-11.4-3.7-12.6-8.6-9-9.6-1.8-2.8-1.7-4.1-3.1-9.9-2-12.5-0.7-20.5 0.4-29.5 1.7-25 3.4-13 4.2-9.5 2.6-4.2 6.3-7.3 8.7-7.1 7-3.5 5-1.8 8-2.2 7.1-0.9z" fill="#c4c4c4" stroke="#3a3a3a" stroke-width="0.55"/>
<path d="M168.5 315.5l8 0.1 8 1.6 4 1.4 12.5 7.3 3.4 3.1 3.7 4.5 6.4 10.5 2.5 6.6 3.7 16.9 1.1 18.5-0.7 23-2 17.5-3.6 15-2.5 6.5-7 12-8.5 8.3-4.5 3.4-4.5 2.6-13 4.2-4 0-10.2-1.5-4.3-1.1-4.5-1.9-12-8-7.2-8-2.3-3.5-2.9-6-3.5-13-1.1-6-1.4-18.5 0.1-28.5 1.5-23.5 1.5-7.5 4.5-12 2.3-3.8 3-3.5 6-6.1 4.5-3.4 3.5-1.8 7-2.5 12.1-2.9z" fill="#b1b1b1" stroke="#3a3a3a" stroke-width="0.55"/>
<path d="M171 322.5l11.5 1.4 5.5 1.8 10.5 6 2.5 2.4 3.3 4.4 5.3 8.5 2.2 6.5 3.5 15.5 1.4 19.5-0.5 21-1.8 16.5-3.3 13.5-2.4 6.5-6.9 11.5-8.3 7.4-3.5 2.3-3.5 1.6-8.5 2.8-3.5 0.6-12-2-6-2.3-11-7.4-6.4-7.5-4.6-7.7-4.5-13.8-1.2-6.5-1.8-17.5-0.2-26.5 1.4-21.5 1.1-6 4.3-11.5 1.6-2.5 2.8-3 6.5-6.1 3.5-2.5 11.5-3.4 11.2-2z" fill="#9d9d9d" stroke="#3a3a3a" stroke-width="0.55"/>
<path d="M168 330l5.5-0.1 10.5 1.5 10 5 3.5 3.2 6.1 8.9 1.9 4.4 4.2 17.1 1.6 17.5-0.1 21.5-1.6 15.5-1.2 6-3.9 12.5-5.8 10-3.7 3.8-8 5.6-11 3.2-4.5-0.3-10-2.9-10-6.4-4.7-5-6-8.5-5.1-12.5-1.5-6-2.3-16-0.6-19.5 0.4-18 1.6-14 4.1-11 3.1-4.2 9.5-7.6 3.9-1.2 13.9-2.5z" fill="#898989" stroke="#3a3a3a" stroke-width="0.55"/>
<path d="M170.5 337.5l9 0.9 5.6 2.1 5.9 3.7 5.5 6.8 2.3 4.5 4.5 14.5 2.3 18.5-0.4 18.5-1.2 10.5-1.5 10-3.6 11.5-5.4 9.1-4 4.1-6 3.9-5 1.5-3.5 0.6-3.5-0.4-6-1.6-8.5-4.5-4-3.5-7-9-5.1-10.7-2.5-9-1.8-10.5-0.9-15 0.1-18 0.9-8 2-10.5 4.2-8.5 3.6-3.9 7-4.6 5.5-1.4 11.4-1.6z" fill="#767676" stroke="#3a3a3a" stroke-width="0.55"/>
<path d="M168 345.5l6-0.1 6 1.6 5.1 3 4.9 5 2.3 4 4.6 12.5 2.8 15.5-0.4 13-0.9 10-2.3 15-2.3 8.5-2.8 5.3-5.5 7.2-4.5 3.1-5 1.4-3 0-4-0.9-8-3.4-4-3.2-6-7.1-4.1-6.9-3.4-9.4-1.9-8.1-1.3-10.5-0.5-12.5 0.3-13 2.3-11 1.7-5 4.9-6.9 4-3.1 5.5-2.5 9.3-1.5z" fill="#626262" stroke="#3a3a3a" stroke-width="0.55"/>
<path d="M171 353l3.5 0.4 3.5 1.6 4.5 3.3 2.5 2.8 6 13.4 3 13.5-1.5 18-2.8 16-1.7 7.5-2 4-5 6.6-3 2.2-3 0.8-5.5-1-6.5-2.6-5.3-5-5.2-6.5-2.6-5.5-3.2-9-1.9-11.5-0.6-9 0.3-17 2.5-9 1.9-4 4.1-4.6 4.5-2.9 4.5-1.4 8.7-1.1z" fill="#4e4e4e" stroke="#3a3a3a" stroke-width="0.55"/>
<path d="M165 361.5l5-0.4 2.5 0.4 3.5 2 2.9 2.5 5.6 10.5 3 11 0 3.5-1.2 10-5.3 24.1-1.2 2.9-2.3 3.1-2 2-2 0.9-4-0.5-3.4-1.5-8.1-8-5.7-11.5-3.2-15-0.6-9 0.4-9.5 0.6-3.5 2-5.2 1.9-3.3 3.1-2.6 4-1.9 4.3-1z" fill="#3b3b3b" stroke="#3a3a3a" stroke-width="0.55"/>
<path d="M164 371.4l4.5 0 2 0.9 1.5 1.3 2.3 3.9 2 8-0.1 5.5-1.2 4.2-3.5 4.6-3.5 1.8-3.5-0.2-4.6-2.4-3.7-4-1.4-4-0.2-6 1.8-7 3.1-4.5 4.1-2z" fill="#272727" stroke="#3a3a3a" stroke-width="0.55"/>
</g>
<path d="M153.4 282.4Q171 285.6 189.9 282.4" fill="#ebebeb" stroke="#3a3a3a" stroke-width="0.55"/>
<path d="M44.3 496.3v4.2M44.3 282v-4.2M50.6 496.3v4.2M50.6 282v-4.2M56.91 496.3v4.2M56.91 282v-4.2M63.21 496.3v4.2M63.21 282v-4.2M69.51 496.3v8.3M69.51 282v-8.3M75.81 496.3v4.2M75.81 282v-4.2M82.12 496.3v4.2M82.12 282v-4.2M88.42 496.3v4.2M88.42 282v-4.2M94.72 496.3v4.2M94.72 282v-4.2M101.03 496.3v8.3M101.03 282v-8.3M107.33 496.3v4.2M107.33 282v-4.2M113.63 496.3v4.2M113.63 282v-4.2M119.94 496.3v4.2M119.94 282v-4.2M126.24 496.3v4.2M126.24 282v-4.2M132.54 496.3v8.3M132.54 282v-8.3M138.84 496.3v4.2M138.84 282v-4.2M145.15 496.3v4.2M145.15 282v-4.2M151.45 496.3v4.2M151.45 282v-4.2M157.75 496.3v4.2M157.75 282v-4.2M164.06 496.3v8.3M164.06 282v-8.3M170.36 496.3v4.2M170.36 282v-4.2M176.66 496.3v4.2M176.66 282v-4.2M182.96 496.3v4.2M182.96 282v-4.2M189.27 496.3v4.2M189.27 282v-4.2M195.57 496.3v8.3M195.57 282v-8.3M201.87 496.3v4.2M201.87 282v-4.2M208.18 496.3v4.2M208.18 282v-4.2M214.48 496.3v4.2M214.48 282v-4.2M220.78 496.3v4.2M220.78 282v-4.2M227.09 496.3v8.3M227.09 282v-8.3M233.39 496.3v4.2M233.39 282v-4.2M239.69 496.3v4.2M239.69 282v-4.2M245.99 496.3v4.2M245.99 282v-4.2M252.3 496.3v4.2M252.3 282v-4.2M258.6 496.3v8.3M258.6 282v-8.3M44.3 496.3h-4.2M258.6 496.3h4.2M44.3 490h-4.2M258.6 490h4.2M44.3 483.69h-4.2M258.6 483.69h4.2M44.3 477.39h-8.3M258.6 477.39h8.3M44.3 471.09h-4.2M258.6 471.09h4.2M44.3 464.79h-4.2M258.6 464.79h4.2M44.3 458.48h-4.2M258.6 458.48h4.2M44.3 452.18h-4.2M258.6 452.18h4.2M44.3 445.88h-8.3M258.6 445.88h8.3M44.3 439.57h-4.2M258.6 439.57h4.2M44.3 433.27h-4.2M258.6 433.27h4.2M44.3 426.97h-4.2M258.6 426.97h4.2M44.3 420.66h-4.2M258.6 420.66h4.2M44.3 414.36h-8.3M258.6 414.36h8.3M44.3 408.06h-4.2M258.6 408.06h4.2M44.3 401.76h-4.2M258.6 401.76h4.2M44.3 395.45h-4.2M258.6 395.45h4.2M44.3 389.15h-4.2M258.6 389.15h4.2M44.3 382.85h-8.3M258.6 382.85h8.3M44.3 376.54h-4.2M258.6 376.54h4.2M44.3 370.24h-4.2M258.6 370.24h4.2M44.3 363.94h-4.2M258.6 363.94h4.2M44.3 357.64h-4.2M258.6 357.64h4.2M44.3 351.33h-8.3M258.6 351.33h8.3M44.3 345.03h-4.2M258.6 345.03h4.2M44.3 338.73h-4.2M258.6 338.73h4.2M44.3 332.42h-4.2M258.6 332.42h4.2M44.3 326.12h-4.2M258.6 326.12h4.2M44.3 319.82h-8.3M258.6 319.82h8.3M44.3 313.51h-4.2M258.6 313.51h4.2M44.3 307.21h-4.2M258.6 307.21h4.2M44.3 300.91h-4.2M258.6 300.91h4.2M44.3 294.61h-4.2M258.6 294.61h4.2M44.3 288.3h-8.3M258.6 288.3h8.3M44.3 282h-4.2M258.6 282h4.2" stroke="#2a2a2a" stroke-width="1.1" fill="none"/>
<rect x="44.3" y="282" width="214.3" height="214.3" fill="none" stroke="#484848" stroke-width="1.4"/>
<text x="69.51" y="516.4" font-size="9.8" text-anchor="middle">15</text>
<text x="101.03" y="516.4" font-size="9.8" text-anchor="middle">20</text>
<text x="132.54" y="516.4" font-size="9.8" text-anchor="middle">25</text>
<text x="164.06" y="516.4" font-size="9.8" text-anchor="middle">30</text>
<text x="195.57" y="516.4" font-size="9.8" text-anchor="middle">35</text>
<text x="227.09" y="516.4" font-size="9.8" text-anchor="middle">40</text>
<text x="258.6" y="516.4" font-size="9.8" text-anchor="middle">45</text>
<text x="31.5" y="481.7" font-size="9.8" text-anchor="end">-15</text>
<text x="31.5" y="450.18" font-size="9.8" text-anchor="end">-10</text>
<text x="31.5" y="418.67" font-size="9.8" text-anchor="end">-5</text>
<text x="31.5" y="387.16" font-size="9.8" text-anchor="end">0</text>
<text x="31.5" y="355.64" font-size="9.8" text-anchor="end">5</text>
<text x="31.5" y="324.13" font-size="9.8" text-anchor="end">10</text>
<text x="31.5" y="292.61" font-size="9.8" text-anchor="end">15</text>
<text x="151.45" y="536.5" font-size="12" text-anchor="middle">μ<tspan font-size="10.3" dy="2">l</tspan><tspan dy="-2">, mas/yr</tspan></text>
<text transform="translate(11.4 389.15) rotate(-90)" font-size="12" text-anchor="middle">μ<tspan font-size="10.3" dy="3.6">b</tspan><tspan dy="-3.6">, mas/yr</tspan></text>
<text x="56.6" y="312" font-size="18">c</text>
<clipPath id="clipd"><rect x="363.7" y="282.2" width="214.7" height="214.2"/></clipPath>
<g clip-path="url(#clipd)">
<rect x="363.7" y="282.2" width="214.7" height="214.2" fill="#ffffff"/>
<path d="M384.5 281.5l169.2 0-0.2 3-0.8 3 1.2 1.5 0.1 1.1 2 1.4 0.4 1-0.6 2-1.2 1 0.2 1 2.7 2 2 0.6 0.3 0.9-0.5 2 0.8 1.5 1.9 1.1 2 0.1 1.2 1.3 0 2-1 2-0.1 1 0.9 0.9 1.9 0.6 1.6 1.5-0.5 5 3.9 4.5 0.1 1-1.3 3.5 0.1 1 4.8 5.5-0.6 1.5-2.5 0.5-0.4 1 1.9 2.4 1.9 1.6 0.7 3.5-0.2 3 1.1 1.9 1.5 0 0 66.8-4.2 2.3-3.4 4.5-0.7 2.5-3.5 2.5 0 0.5 3.5 1 0.5 1-0.7 2.6-2.5 1.2-0.8 1.2 0.1 2.5-1 4-1.6 3 0.1 4-1 5-0.8 1-2 1-0.7 1 0.2 1.3 1.2 1.2 0.3 1-0.9 2-2.1 1-0.6 1 1.1 4.5-0.6 3-3.8 3.5 1.6 2-2.1 4.5 1.1 2.5-0.2 3.5-2 1.5-0.6 2 0.3 1.5 1.5 2 0.1 1.5-191.8 0 0-9.6 7 2 0.7-1.9 5.3-5 1.5-2.8 2.5-0.5-1.1-2.2 0-1.5 1.1-1 2 0.4 1.7-3.4-0.5-3 0.8-2 0-1.5 1.8-2 1.6-3 0.2-3.5 2.4-4-0.7-4 2-4.5-0.5-3.5-2.1-2.5 0.3-0.8 2.2-1.2 0.8-1.5-2.3-4 0.8-2-0.5-2.9 1.7-1.1 0.4-1 0-2.5-1.3-7.5 1.6-4.5 0.1-1.5-0.2-1.5-1.4-2 1.5-2-0.4-0.9-1.5-0.4-0.5-0.7 0-0.5 2-0.7 1.2-3.8-1.8-2.5-0.1-2-0.7-1.5 0.8-2.5-0.2-1-2.2-3.5 0.8-2.5-0.3-2.5 2-1.5 0.4-2.5-0.5-2-1.9-1.5-0.3-1 0.8-0.5 2.5 0.1 0.6-1.1-0.6-1.1-2.2-0.9-0.6-1 1.3-2.7 1-0.8-0.7-1.5 0.2-1.7 2-1.3 0.5-1-0.6-2.5 1.6-2-1.2-3 0.6-2.5-0.4-3.5 1.9-1.5 0.3-1-1.2-4 1.2-3-0.8-3.5 0.4-7.5-1.8-2-0.2-1 0-3 1.2-2.8-0.1-2.2 0.8-2 0.1-3-0.6-1-2.4-1.5 1.1-3-1.5-2.5 0.4-2-1.3-2.2-0.3-1.8 0.3-1.3 2.5-0.3 0.6-0.4 0.2-1-1.3-1.3-2.5 0.4-2.3-0.6-1.7-2.6-2-1-0.8-1.4z" fill="#f4f4f4" stroke="#3a3a3a" stroke-width="0.55"/>
<path d="M405 282l0.1-0.5 132.4 0 0.5 2-1 1 0 1.7 1.5 0.5 1 2.8 3.6 2.5 4.5 4 0.2 1.5 1.2 2 0.2 3.5 3.6 3.5 1.2 2.5 0.4 2.5 3.9 4.5-0.3 1-2 1 0 3.2 0.8-1.2 0.7-0.2 2.2 1.7 0.8 5 0.2 6.5 0.8 3 1.4 2 0.9 4-1.7 2 2.1 6.5 0 3-1.2 3-1.2 1.5 0.7 2.1 0.5 0.1 1-1 0.7 0.8 0.6 4.5-1 4.5 1.8 2-0.2 3.5 1.5 3 0.6 2.5-0.4 4.5-0.6 1.5-1.9 1.5 0.4 1 1.5-0.2 0.5 2.2-0.6 1-2.1 1.5-0.3 1 1.5 1.7 2 0.8-0.2 5-0.8 1.5-2.8 0.5-0.2 2-2 1.5 0.1 2.5-1.6 1.7-0.4 1.8 1.2 2 0.6 5.5-2 4-1.6 1.5-0.1 4-1.2 0.8-1.7 0.2-0.1 0.5 1.3 1.3 0.3 1.2-2.2 1.5-0.3 1.5 0.2 0.4 1.8-0.4 0.3 1-1.6 1-1-1.2-0.4 1.2 0.8 1-0.1 2-1.3 3.3-1.9 0.7 0.1 2.5-1.7 1.8 0 1 1.6 1.2-1 2.5-0.2 3-1.5 2-1.1 3-0.2 4 0.8 3-2 2.5 0.1 3-1.5 4-0.5 6.5 1.7 4.5-0.3 1-1.9 2 0.4 3.5-161.5 0 4.8-3 0.9-2 1.4-1.5 2.4-5 3.1-1.7 2-2.7 2.5-1 0.8-2.1 1.5-2 1.2-3.4 3-2.7 3.2-3.9-1.1-1.5 0-1 1.2-1.5 0.5-2.5 2.7-2.4 1-3.1 2-0.9 0.1-0.6-0.6-0.7-1.5-0.2-0.3-0.6 0.4-1 1.9-1.1 0.5-2.4-0.3-1-2-1.5 0.2-2-0.6-2.5 1.6-5-0.1-4 1.5-2-0.6-2.5 0.8-5-0.9-2.5 0.8-2.5-0.2-2.5 0.4-3-0.6-6 0.5-1.2 1.5-1.2 0.3-1.1-1.6-2-0.2-1 0.7-1.5 1.8-1.3 0.2-0.7-0.7-2-2-1.4-0.3-1.1 2.5-4 0.6-3.5-0.3-1.5-2-2-0.8-1.5 0.3-1.5 1.4-2-0.1-1-2.3-1.3-0.7-1.2 0.2-1.4 2.5 0.1 0.6-1.7-0.9-2.5 0.3-5.9-0.5-0.8-1.5-0.4-0.6-0.9 0.2-2-0.8-3.5 1.1-6-2-4-0.3-1.5 1-3 1.9-0.9 0.2-0.6-0.2-1.1-1.3-0.9 0.7-3-0.1-2 1.2-2.5-0.8-1-0.6-2 0.5-2-0.8-1.5 0.3-3.5-1.2-4-0.1-5-0.7-3 0-1 1.2-1.5-0.3-3.5-1.1-2-1.9-6.2-1-0.6-1.5 0.1-1-0.8 0.1-1 1.9-0.9-0.2-1.1-4-2-0.3-1.5z" fill="#e8e8e8" stroke="#3a3a3a" stroke-width="0.55"/>
<path d="M420.5 281.5l110 0 1.3 5 1.8 3.5 2.3 3.5 6.2 6.5 0.9 3.5 2.3 2.5 0.9 3 1.9 2 1.1 5 2 3 5.2 17 0.5 7.5 1.1 3.5 0.9 6.5-1.1 7.5 1.1 2.5-0.6 5.5 1.2 4 0 5 0.8 3 0.4 6.5-1 4 0.2 3.5-0.3 2.5-1.6 4.5-0.2 3.5-1.1 3-0.3 3.5-1.2 4-0.8 5.5-2.6 7-0.8 5-2.2 5.5-1.4 10-3.4 9.3-0.5 4.9-2.1 5.3-0.2 4.5-2.7 7.5-0.3 3.5-1.1 2.5-0.2 3-1.3 4 0.2 3.5-138.7 0 1-2.5 3-4.5 1.8-4 3.1-3.5 2.8-6 2-2 1.7-3.8 1.4-1.7 1.1-4.8 3.3-6.2 2.7-12 0-3.5 0.7-1.5-0.1-4.5-0.6-4.5 1.4-5 1.2-2 1.1-3.5-0.6-9.5 1-2.5-1.6-17 0.5-5.5-0.6-3.5 0.3-3.5-0.4-3.5 0.5-4-1.4-4 0.5-3.5-1.1-3 0.1-3.5-0.5-2.5-0.2-8.5 1.2-4.5-1.2-2.5-0.1-3.5 0.8-5.5 0.1-6-0.4-3 0.4-4-0.6-3 0.9-2.5-0.9-3.5 0.8-7.5-0.7-7.5-0.8-3 0.1-2.5-0.7-4.5 0.3-3z" fill="#dddddd" stroke="#3a3a3a" stroke-width="0.55"/>
<path d="M434 281.9l0.2-0.4 87.5 0 2.3 2.8 2.4 4.7 3.3 4.5 6.2 7 1.6 4.5 3.9 7.5 0.4 2.5 3.4 5.5 0.3 2.5 1.7 2.5 1.2 5 1.7 3.5 0.3 4 2.1 10 0.4 18.5 0.6 3-0.2 8.5 0.5 3-0.4 3.5 0.5 4-0.6 10-1.7 5.5 0.1 4.5-1.9 6 0.3 3.5-1.4 4.5-0.2 3-1.4 3-0.5 3.5-2.7 8.5-0.1 2.5-1.9 6.5-0.4 3.5-7.9 24 0.1 4.5-1.5 2.5-0.1 3.5-2.1 4-0.8 5.5-120.7 0 0.5-4 1.2-4 1.5-2.5 1.2-5 0.9-1.5 2.2-2 3.4-5.5 2.5-6 2.2-8 0.1-4 1.9-6.5-0.1-3 1.2-3 0.1-8 0.8-2 0.2-3 2.7-11-0.3-6 0.7-3-0.5-4.5 0.7-6.5-1.4-6 0.1-3.5-0.7-3.5 0.6-3-1-4.5 0.4-4-1.4-7 0.1-7.5-0.7-2.5 0.1-2.5-0.6-3.5 0.4-3.5-0.3-2.5 0.7-2.5-0.6-8 0.6-2.5 0.5-10-0.6-2.5 0.7-6.5-0.2-3 0.5-2-0.4-3 0.7-2 0.3-3.5-0.3-5 0.9-2.5 1-6 3-3.5z" fill="#d2d2d2" stroke="#3a3a3a" stroke-width="0.55"/>
<path d="M442.5 281.5l68.1 0 1.4 2.4 2.5 2 2.5 1.2 6 5.8 1.3 2.1 2.3 2 1.4 2.5 4.1 5 1.8 4.5 1.6 2.5 0.6 3.5 2.5 6 1.8 3 0.2 3 1.7 2.5 0.1 3 2.3 5 0.2 4 1.1 6 0.5 8.5 1.2 5.5 0.4 10.5-1 4.5 0.5 4-0.2 4 0.7 2.5-0.3 5-0.8 2 0.7 4.5-1.1 4 0.1 3.5-0.5 4-1.1 2.5-0.1 5-1.4 3.5-0.8 8.5-1.5 2.5-1.5 5-0.1 4-2.2 3.5 0.1 3.5-0.7 4-2.7 6.5-0.2 3-2.8 5-4.3 16.5-2.4 5-1.2 4.5 0 4.5-106.4 0 1.7-7 0-4 5.4-8.5 2.6-5 0.8-6 1.7-4.5 0.3-3.5 2.1-7 2.3-21.5 4.2-11.5-0.8-6 0.8-3 0-10-1.4-3.5 0.4-3.5-0.7-2.5-0.2-3-1.1-2.5-0.6-8 0.3-3-1.6-13 0.3-4.5-0.8-4 0.6-3.5-0.4-9 0.9-5-0.2-3.5 1-6-0.3-9 1.2-3.5 0.3-7.5 1.3-5-0.1-5.5 5.3-13z" fill="#c6c6c6" stroke="#3a3a3a" stroke-width="0.55"/>
<path d="M487 285l6 0.9 4.5 0 5-0.7 5 0.6 2.5 2.7 3 1 1.9 1.5 9.6 11 1.9 1.5 2.5 5 3 4 0.8 4 1.8 3.5 1.5 7 1.5 2.5 1.2 4.5 1.5 3 1.5 5.5 0.3 3.5-0.6 3.5 2 4.5-0.1 9 0.8 3-0.3 4 0.9 3.5-0.6 7.5 0.7 6-0.7 3-0.3 11.5-0.9 7.5-1.2 4-0.7 8.9-0.9 4.6-1 2-0.2 2.5-1.1 2-1.1 4.5-0.1 3-1.7 3-1.5 7-5.2 14-0.1 3-2 3-2.2 5.5-0.5 3-3.7 7.5 0.2 3-1.9 4.5-0.1 3-93.5 0 1-11 2.3-4.5 1.8-2.2 0.9-2.3 0.8-5.5 1.3-3 1.5-7 1.7-12.5 1.2-4 0.1-3 0.9-2-0.5-4 0.8-3.5 0.1-2.5 1.6-3.5 0.3-2.5 1.8-3.5 0-5.5 1.3-8.5-1.2-4-1-10.5-1.4-3.5-1.1-5.5 0.3-3.5-1.2-5 0.4-2.5-1.6-9.5 0.7-5-0.8-4 0.2-2-0.8-10 0.9-3.5 0.2-7.5 0.9-3 0.6-5.5-0.3-2.5 1.5-7-0.1-2 1.6-3 1.1-9 1.8-3.2 2.6-7.8 1.4-1.3 2 0.4 2-0.6 2.5 0.4 2.5-0.7 2 0.5 7-0.9 3.5 0.6 3-0.5 4 0.3 10.4-0.7z" fill="#bbbbbb" stroke="#3a3a3a" stroke-width="0.55"/>
<path d="M476 290.5l7 0.3 7.5-0.7 3.5 0.4 3.5-0.2 3.5 0.8 4 0.1 2.5 0.8 2.5 2.5 5 3.3 7.7 7.7 1 2 1.7 2 1.6 3.3 0.6 2.7 2 3 2 5 1 4 1.5 2.5 2.5 7.5 0.8 8.5 1.6 7 1.6 15.5-0.3 7.5 0.2 6 0.5 2.5-0.3 10 0.5 2.5-0.6 11-0.9 3-0.5 4.5-1.1 3-0.7 7-1.3 2.5-0.7 4.5-1.2 4-1.2 2.5-1.2 5.5-3.7 8-2.1 9-1.6 2.5-0.7 3-4.3 8.5-1.5 6-1.9 2.7-1.9 4.3-0.6 2.5-1.3 2 0 4-81.2 0 1.7-10.5 2.4-3.5 1.4-5.9 0.1-5.1 1.2-4.5-0.2-3 0.6-4.5 1.1-3 0.5-7.5 0.8-2 0.2-4 1.3-6.5-0.2-3 2.9-7.5 0.1-3 1.6-3-0.1-7 0.7-3-0.8-10.5 0.2-2.5-0.9-3.5-1.6-3.2-0.6-2.8 0.1-2-1.8-5.5 0.1-3-1.4-7.5 0.1-6-1.3-9 0.5-5.5-0.5-6 1.1-2.5 0.9-7-0.5-3 1.5-7.5-0.2-3.5 1.4-2 0-2.5 1.3-3.5 1.1-5.5 1.3-2.5 0.6-4.5 3.3-6.5 6.5-1.7 4.5 0.5 3.5-0.8 3 0.9 2.5-0.9 4.9-0.5z" fill="#b0b0b0" stroke="#3a3a3a" stroke-width="0.55"/>
<path d="M481.5 295l4.5 0.5 6.5-0.8 6-0.1 6.5 1.7 2 2.5 3.5 1.7 4.5 3.4 2.5 2.7 2.5 1.6 2.5 2.4 1.2 5.9 2.1 3.5 0.9 3 1.6 3 0.6 2.5 3 6 0.7 3.5 0 4.5 1.2 2.5 1 8.5 1.1 3.5-0.3 4.5 1.5 8.5 0.2 5-0.7 4.5 0.8 4-0.3 3.5 0.9 9-0.9 3.5-0.2 3 0.5 3.5-1.9 10-0.3 8.5-1.8 3-0.5 3.5-4 10.5-1.7 6-3.6 6.5-0.4 3.5-1.7 2.7-0.9 3.3-2.9 5.5-0.4 2.5-1.6 3.5-0.5 2.5-5.8 9.5-0.6 2.5-2.1 3-1.4 4.5-66 0-0.1-1 0.1-2.5 2.7-10.5-0.2-7.5 0.9-4-0.2-6 1.4-7.5-0.1-8 1.8-5.5 0.6-5-0.3-3 1.8-8.5 2-4.5 1-3.5-0.2-3 0.7-2.5 0.1-3.5-0.2-4 0.6-2.5-1.5-11.5-2-3.5-2.3-6-2.4-9-0.3-10-1.1-6.5 0.2-2.5-0.7-2.5 0.5-2.5 0-7 1.5-3.5 0-4 0.8-2.5-0.2-4.5 3.3-7.5 0.5-6 6.6-16 2.4-1.6 3-0.6 9.5-1.4 9.5-0.1 2.4-0.8z" fill="#a4a4a4" stroke="#3a3a3a" stroke-width="0.55"/>
<path d="M481.5 300l5.5-0.5 2.5 0.8 5 0.1 3-0.5 4.5 0.6 10 6.4 3.5 3.4 3 4.2 3.3 5.5 1.1 3 1.8 2.5 0.3 4.2 3 5.3 0.6 2.5 0.5 7 1.5 3.5 0.4 5.5 1.4 4-0.1 7 0.8 2.5-0.3 3 1 5-0.5 2.5 0.8 6.5 0.3 12.5-0.4 3 0.3 7.5-1.6 9.5 0 5.5-3.2 8.5-1.5 5-0.2 2.5-2.3 2.8-1.5 4.2-0.2 3-4.2 7.5-2.9 9-2.7 3.2-1 3.3-1.6 2-3.3 7-3.1 5.3-2.8 3.7-2.2 1.9-1.7 3.1-0.7 3-48.4 0-1.1-5 0.4-5-0.6-4.5 0.7-4-1.5-7 0.8-5.5-0.4-5.5 0.2-4.5 1.1-6 0.2-4.5 1.5-4-1-4 4.4-13 1.7-2.5-1.1-3.5 1-3 0.5-3.5-0.4-5 0.8-5.5-1-2.5 0-3.5-1.2-4-1.2-2.9-2.5-3.4-3.5-10.2-0.1-2.5-0.9-2 0.6-3-0.9-3.5 0-4.5-1.3-8 1.1-9 1.3-3.5-0.2-2.5 1.4-2.9 1.8-7.6 2.1-3.5-0.1-3 1.3-3 1-4 2.4-3.1 2.5-4.4 1-0.8 5-2 16.2-2.2z" fill="#999999" stroke="#3a3a3a" stroke-width="0.55"/>
<path d="M484.5 304.5l4 0.5 11 0.3 3.5 1.3 10 6.4 1.5 2 2.1 5 2.3 2.5 2.4 5.5 0.6 3 1.6 2.5 1.5 5 0.5 6.5 1.7 4-0.5 3 0.9 2 0.2 2.5 0.8 2.5-0.4 5 1.3 5.5-0.2 3.5 1.6 9.5-0.3 4 0.6 3-0.4 2.5 0.6 2-0.5 7 0.7 4.5-1.3 4-0.6 11.5-1.2 5-2 3-1.1 5-1.4 1.9-1.8 4.1-1.6 4.5-0.4 3-2 2.5-5.1 12.5-1.4 2-0.7 3.1-5.4 6.4-4.3 7-1.8 1.5-4.5 5.5-5 4.9-1.8 3.1-1.6 1-25.8 0-3.9-10-0.4-4.1-2.9-8.4-0.7-9 0.3-4-0.6-4.5 0.4-3-0.8-4.5 1.5-5.5 0.6-9 1.9-2.5 0.5-3.5 3.4-7.5-0.3-8 0.7-14.5-0.9-2.5 0.4-4.5-0.3-1.5-4.6-6.5-2.1-2-0.7-3.5-2.2-3.5-0.1-2.5-1.1-2.5 0.1-6-1.7-10.5 0.5-5 1.2-5-0.2-2.5 1.2-2 2.9-10 8.2-18 2.9-3.1 3.8-1.4 3.2 0.1 4-0.6 3.5 0.7 5.9-2.2z" fill="#8c8c8c" stroke="#3a3a3a" stroke-width="0.55"/>
<path d="M489.5 309.5l4-0.2 3.5 0.9 11 4.8 2.6 2.5 3.9 5.4 4.5 9.2 1.9 7.9 0.1 3.2 1.8 4.3 0.6 8.5 0.8 5 1.2 3.5-0.3 4.5 2.5 12.5-0.5 3 0.8 4.5 0.4 5.5-0.5 4.5 0.8 6.5-1.4 7 0 3-1 3-0.8 7.5-4.7 9.5-0.5 3-1.5 3.5-2.1 3.5-0.7 2.5-2.5 3-0.9 3.5-1.7 2.5-1.2 4-2.6 5-4.5 4.5-3.1 5-3.9 2.5-2 2.9-2 1.1-3.5 3.5-5.5 3.5-4.5 1.8-3.5 0.4-2.5-0.4-3-2.2-5.3-7.1-0.8-2.5-2.3-3.5-1.7-5-1-5 0.2-3-1.3-3 0.2-2.5-0.4-6.5 2.3-13.5 1.7-3 0.1-3 2.9-6 0.1-4.5 0.8-4 0.1-20.5 0.5-4-2-5.5-5.1-5-3.7-5.5-0.3-2.5-1.3-2.5-1-11.5-1-2.5 0-3 0.3-3.5 0.8-3 0-2.5 1.4-4.5 0.8-5.4 1.2-2.6 2.1-2 0.7-2.6 2.2-3.4 1.1-3 2.7-2.3 3.2-5.7 1.4-1 4.4-0.9 4.5-0.1 3.5-1.1 2.5 0.1 5.9-1z" fill="#818181" stroke="#3a3a3a" stroke-width="0.55"/>
<path d="M491 314.5l3.5 1.2 3.9 0.3 1.6 1.1 2.5 0.6 5 3 4 4.8 1.6 4.5 2.2 3 1.4 3.5 0.2 4 1.6 6-0.1 4 1.1 3 1.1 5.5 0.9 12 1.3 3.5 0.8 5 0 3.5 1.1 8-0.2 2 0.8 3.5-0.4 6 0.1 6.5-0.9 3-0.2 6.5-1.4 7.5-2.7 4-2.2 6-2.6 3.9-2.2 4.6-0.7 2.5-2.8 4.5-2.9 7.5-2.1 2.5-1.8 3.4-8.5 7.3-2 2.6-4.5 1.9-4.5 2.8-3 0.8-5 0.2-2-2.5-5.5-3.8-0.9-2.2-1.9-2-2.4-7.5 0.4-3-0.9-2.5 0.1-3.5-0.8-3 0.6-6.5 1.8-4.7 0.5-6.3 1.2-1.5 0.8-2.6 2.4-3.4 0.6-3-0.5-3.5 0.6-3.5-0.4-2.5 0.6-5.5-0.3-2.5 0.4-11.5-1-3.5 0.2-3-0.7-2.5-5.4-4.3-4.7-5.7-2.2-6.5-0.4-3.5-1.2-4-0.3-8.5 1.2-6.5 3.5-10.5 4.1-4.9 2.6-5.1 3.9-5.1 3.5-2.8 2.5 0.1 5.5-1 3-1.2 7.2-0.5z" fill="#757575" stroke="#3a3a3a" stroke-width="0.55"/>
<path d="M486.5 319.4l1.5-0.2 9 1.5 3 1.2 6 3.6 2.7 4 4.1 8.5 2.3 11 0 4 0.7 2.5-0.4 3 2.1 3.5 0 6 2 6 0 4.5 1 3-0.1 6.5 1.2 4.5 0.9 13.5-1.7 10 0.4 4-1.2 4.5-5.6 10-1.4 3.5-5.5 8-2.7 7-2 2.5-1.3 3.5-2.2 2-1.5 2.5-3 2-1.3 1.5-10 5.6-3 0.2-5.5-1.8-2.9-2-3-3-2.1-4-0.9-6 0.2-2.5-0.8-2.5 0.7-3-0.3-4 2.6-9.5 1.8-2.5 2.3-5.5 0.4-5 0.6-2.5-0.1-3 0.5-4-0.7-5 0.4-3-0.7-8 0.7-4-0.2-2.5-0.9-2.5 0.7-3-0.6-1.5-2.2-2.8-8.2-5.7-2.8-3.1-1.6-4.4-0.7-5-1.1-3.5 0.7-6.5 3.2-10.8 3.5-6.1 4.2-4.6 1.8-3.2 3.5-3.3 4.5-2.4 8.8-1.6z" fill="#6a6a6a" stroke="#3a3a3a" stroke-width="0.55"/>
<path d="M487 324l1-0.3 6.5 0.8 5.5 2.5 3 0.7 4.5 6.3 2.2 6 0.3 5.5 1.1 2.5-0.1 2.5 1.2 9 2.1 9-0.1 3 3.2 13-0.1 3 2.3 16-0.6 3.5 0.1 2.5-1.1 3 0.1 8.5-6 12-6.2 9-1.4 3.4-3 4.2-1.2 3.4-2.3 4.1-6.6 5.4-5.9 3.7-1.5 0.4-4-0.6-5.5-2.6-3.7-4.9 0.2-2.5-1.6-6 1-2.5-0.2-3 0.9-2.5-0.1-4 0.7-1.5 2.3-2.6 1.2-2.9 1.8-1.7 0.7-1.3-1-4.5 1.2-9.5-0.3-18 0.8-4.5-0.5-5-1.1-3-0.1-2.5-1.7-3.5-6-2.8-3.5-3.4-3-1.3-1.4-1.5-0.6-2 0.2-2.5-1.9-10.5 1.7-4.1 1.4-1.9 0.2-3.5 1.9-3.5 9-11 3.5-2.4 4-1.4 4.5-0.5 1.9-1.2z" fill="#5f5f5f" stroke="#3a3a3a" stroke-width="0.55"/>
<path d="M485 329.3l9 0 3 1.3 2.5 0.5 2 1.1 1.3 2.8 1.7 2.1 1.6 8.4 0.3 4.5 2.5 8 0.5 3.5-0.1 3 0.8 4.5 2 6-0.1 2.5 0.9 3-0.1 3 1.5 3 0.9 8-0.2 3 0.7 3-0.3 2.5 0.7 4.5-1.5 7.5-0.2 3.5 0.4 2.5-3.4 4.5-0.4 2.7-2.7 2.3-2.8 6.1-3.1 2.9-1.4 4.1-3.4 3.4-2.6 6.1-3 2.9-4 2.8-5 1.3-6.1-2.6-1.4-1.8-0.4-1.7 0.6-6.5-0.8-2.5 0.1-1.5 0.9-1.5 1-4.5 1.6-2.5 2.5-2.5 1.1-3-0.1-3.5 0.7-3-1-3 1-10.5 0.2-12.5-0.9-8 0.8-5.5-1.6-3-0.1-3-0.9-1.5-2.2-1.1-1.5-1.6-2-0.8-1.5-1.9-7-2.5-1.4-1.1-1.5-5-0.8-5 1.3-5 2.1-4 0.7-5 0.9-2 4.3-2.5 1.9-2 1-2.2 1-1 9.1-3.8z" fill="#535353" stroke="#3a3a3a" stroke-width="0.55"/>
<path d="M489.5 333.5l4.5 1 2.9 2 0.7 1 0.5 3 1.1 2.5 0.5 4-0.5 9 1.7 3 1.9 7 1.8 3.5 0.4 8 2.6 6.5 0.2 3 1.7 2.6 0.8 6.9 1 3 0.3 4.5-2.9 11.5-2.4 3.5-3.3 2.4-1.5 0.4-3.5 0.2-3-1.3-2-1.7-2.2-4.5 0-4-1.9-6.5 0.6-3.5-0.8-3 0.6-2 0.5-9 1.3-5.5-0.9-4-0.7-1.5-0.3-3.5-0.9-1.5-1.3-1-2.5-1.3-6.5-1.7-7.4-5.5-0.6-1-0.5-3.5 0.5-2.6 2.7-3.4 4.3-10.5 2-2.6 3-3.2 3.5-0.7 3.8 0z" fill="#484848" stroke="#3a3a3a" stroke-width="0.55"/>
<path d="M489 350.3l1.2 0.2 0.7 1 0 1-0.6 1-1.3 0.1-0.9-0.6-0.2-1.5 0.7-1zM499 394.9l1.5 0.2 3 1.9 1.5 5-0.8 5-1.2 3-3 3.2-2.5-0.1-1.5-0.8-1.7-4.8 0.5-8 3.9-4.5z" fill="#3d3d3d" stroke="#3a3a3a" stroke-width="0.55"/>
</g>
<path d="M363.7 496.4v4.2M363.7 282.2v-4.2M370.01 496.4v4.2M370.01 282.2v-4.2M376.33 496.4v4.2M376.33 282.2v-4.2M382.64 496.4v4.2M382.64 282.2v-4.2M388.96 496.4v8.3M388.96 282.2v-8.3M395.27 496.4v4.2M395.27 282.2v-4.2M401.59 496.4v4.2M401.59 282.2v-4.2M407.9 496.4v4.2M407.9 282.2v-4.2M414.22 496.4v4.2M414.22 282.2v-4.2M420.53 496.4v8.3M420.53 282.2v-8.3M426.85 496.4v4.2M426.85 282.2v-4.2M433.16 496.4v4.2M433.16 282.2v-4.2M439.48 496.4v4.2M439.48 282.2v-4.2M445.79 496.4v4.2M445.79 282.2v-4.2M452.11 496.4v8.3M452.11 282.2v-8.3M458.42 496.4v4.2M458.42 282.2v-4.2M464.74 496.4v4.2M464.74 282.2v-4.2M471.05 496.4v4.2M471.05 282.2v-4.2M477.36 496.4v4.2M477.36 282.2v-4.2M483.68 496.4v8.3M483.68 282.2v-8.3M489.99 496.4v4.2M489.99 282.2v-4.2M496.31 496.4v4.2M496.31 282.2v-4.2M502.62 496.4v4.2M502.62 282.2v-4.2M508.94 496.4v4.2M508.94 282.2v-4.2M515.25 496.4v8.3M515.25 282.2v-8.3M521.57 496.4v4.2M521.57 282.2v-4.2M527.88 496.4v4.2M527.88 282.2v-4.2M534.2 496.4v4.2M534.2 282.2v-4.2M540.51 496.4v4.2M540.51 282.2v-4.2M546.83 496.4v8.3M546.83 282.2v-8.3M553.14 496.4v4.2M553.14 282.2v-4.2M559.46 496.4v4.2M559.46 282.2v-4.2M565.77 496.4v4.2M565.77 282.2v-4.2M572.09 496.4v4.2M572.09 282.2v-4.2M578.4 496.4v8.3M578.4 282.2v-8.3M363.7 496.4h-4.2M578.4 496.4h4.2M363.7 490.1h-4.2M578.4 490.1h4.2M363.7 483.8h-4.2M578.4 483.8h4.2M363.7 477.5h-8.3M578.4 477.5h8.3M363.7 471.2h-4.2M578.4 471.2h4.2M363.7 464.9h-4.2M578.4 464.9h4.2M363.7 458.6h-4.2M578.4 458.6h4.2M363.7 452.3h-4.2M578.4 452.3h4.2M363.7 446h-8.3M578.4 446h8.3M363.7 439.7h-4.2M578.4 439.7h4.2M363.7 433.4h-4.2M578.4 433.4h4.2M363.7 427.1h-4.2M578.4 427.1h4.2M363.7 420.8h-4.2M578.4 420.8h4.2M363.7 414.5h-8.3M578.4 414.5h8.3M363.7 408.2h-4.2M578.4 408.2h4.2M363.7 401.9h-4.2M578.4 401.9h4.2M363.7 395.6h-4.2M578.4 395.6h4.2M363.7 389.3h-4.2M578.4 389.3h4.2M363.7 383h-8.3M578.4 383h8.3M363.7 376.7h-4.2M578.4 376.7h4.2M363.7 370.4h-4.2M578.4 370.4h4.2M363.7 364.1h-4.2M578.4 364.1h4.2M363.7 357.8h-4.2M578.4 357.8h4.2M363.7 351.5h-8.3M578.4 351.5h8.3M363.7 345.2h-4.2M578.4 345.2h4.2M363.7 338.9h-4.2M578.4 338.9h4.2M363.7 332.6h-4.2M578.4 332.6h4.2M363.7 326.3h-4.2M578.4 326.3h4.2M363.7 320h-8.3M578.4 320h8.3M363.7 313.7h-4.2M578.4 313.7h4.2M363.7 307.4h-4.2M578.4 307.4h4.2M363.7 301.1h-4.2M578.4 301.1h4.2M363.7 294.8h-4.2M578.4 294.8h4.2M363.7 288.5h-8.3M578.4 288.5h8.3M363.7 282.2h-4.2M578.4 282.2h4.2" stroke="#2a2a2a" stroke-width="1.1" fill="none"/>
<rect x="363.7" y="282.2" width="214.7" height="214.2" fill="none" stroke="#484848" stroke-width="1.4"/>
<text x="388.96" y="516.5" font-size="9.8" text-anchor="middle">15</text>
<text x="420.53" y="516.5" font-size="9.8" text-anchor="middle">20</text>
<text x="452.11" y="516.5" font-size="9.8" text-anchor="middle">25</text>
<text x="483.68" y="516.5" font-size="9.8" text-anchor="middle">30</text>
<text x="515.25" y="516.5" font-size="9.8" text-anchor="middle">35</text>
<text x="546.83" y="516.5" font-size="9.8" text-anchor="middle">40</text>
<text x="578.4" y="516.5" font-size="9.8" text-anchor="middle">45</text>
<text x="350.9" y="481.81" font-size="9.8" text-anchor="end">-15</text>
<text x="350.9" y="450.31" font-size="9.8" text-anchor="end">-10</text>
<text x="350.9" y="418.81" font-size="9.8" text-anchor="end">-5</text>
<text x="350.9" y="387.31" font-size="9.8" text-anchor="end">0</text>
<text x="350.9" y="355.81" font-size="9.8" text-anchor="end">5</text>
<text x="350.9" y="324.31" font-size="9.8" text-anchor="end">10</text>
<text x="350.9" y="292.81" font-size="9.8" text-anchor="end">15</text>
<text x="471.05" y="536.8" font-size="12" text-anchor="middle">μ<tspan font-size="10.3" dy="2">l</tspan><tspan dy="-2">, mas/yr</tspan></text>
<text transform="translate(329.4 389.3) rotate(-90)" font-size="12" text-anchor="middle">μ<tspan font-size="10.3" dy="3.6">b</tspan><tspan dy="-3.6">, mas/yr</tspan></text>
<text x="379.3" y="311.8" font-size="18">d</text>
<rect x="594" y="207.99" width="14.6" height="15.61" fill="#ffffff"/>
<rect x="594" y="192.69" width="14.6" height="15.61" fill="#ebebeb"/>
<rect x="594" y="177.38" width="14.6" height="15.61" fill="#d8d8d8"/>
<rect x="594" y="162.07" width="14.6" height="15.61" fill="#c4c4c4"/>
<rect x="594" y="146.76" width="14.6" height="15.61" fill="#b1b1b1"/>
<rect x="594" y="131.46" width="14.6" height="15.61" fill="#9d9d9d"/>
<rect x="594" y="116.15" width="14.6" height="15.61" fill="#898989"/>
<rect x="594" y="100.84" width="14.6" height="15.61" fill="#767676"/>
<rect x="594" y="85.54" width="14.6" height="15.61" fill="#626262"/>
<rect x="594" y="70.23" width="14.6" height="15.61" fill="#4e4e4e"/>
<rect x="594" y="54.92" width="14.6" height="15.61" fill="#3b3b3b"/>
<rect x="594" y="39.61" width="14.6" height="15.61" fill="#272727"/>
<rect x="594" y="24.31" width="14.6" height="15.61" fill="#141414"/>
<rect x="594" y="9" width="14.6" height="15.61" fill="#000000"/>
<path d="M594 207.99H608.6M594 192.69H608.6M594 177.38H608.6M594 162.07H608.6M594 146.76H608.6M594 131.46H608.6M594 116.15H608.6M594 100.84H608.6M594 85.54H608.6M594 70.23H608.6M594 54.92H608.6M594 39.61H608.6M594 24.31H608.6" stroke="#555" stroke-width="0.45" fill="none"/>
<rect x="594" y="9" width="14.6" height="214.3" fill="none" stroke="#bbb" stroke-width="0.8"/>
<text x="610.6" y="226.97" font-size="10.2">0</text>
<text x="610.6" y="211.66" font-size="10.2">3</text>
<text x="610.6" y="196.36" font-size="10.2">6</text>
<text x="610.6" y="181.05" font-size="10.2">9</text>
<text x="610.6" y="165.74" font-size="10.2">12</text>
<text x="610.6" y="150.44" font-size="10.2">15</text>
<text x="610.6" y="135.13" font-size="10.2">18</text>
<text x="610.6" y="119.82" font-size="10.2">21</text>
<text x="610.6" y="104.51" font-size="10.2">24</text>
<text x="610.6" y="89.21" font-size="10.2">27</text>
<text x="610.6" y="73.9" font-size="10.2">30</text>
<text x="610.6" y="58.59" font-size="10.2">33</text>
<text x="610.6" y="43.29" font-size="10.2">36</text>
<text x="610.6" y="27.98" font-size="10.2">39</text>
<rect x="273.4" y="480.92" width="15.4" height="15.68" fill="#ffffff"/>
<rect x="273.4" y="465.54" width="15.4" height="15.68" fill="#ebebeb"/>
<rect x="273.4" y="450.16" width="15.4" height="15.68" fill="#d8d8d8"/>
<rect x="273.4" y="434.79" width="15.4" height="15.68" fill="#c4c4c4"/>
<rect x="273.4" y="419.41" width="15.4" height="15.68" fill="#b1b1b1"/>
<rect x="273.4" y="404.03" width="15.4" height="15.68" fill="#9d9d9d"/>
<rect x="273.4" y="388.65" width="15.4" height="15.68" fill="#898989"/>
<rect x="273.4" y="373.27" width="15.4" height="15.68" fill="#767676"/>
<rect x="273.4" y="357.89" width="15.4" height="15.68" fill="#626262"/>
<rect x="273.4" y="342.51" width="15.4" height="15.68" fill="#4e4e4e"/>
<rect x="273.4" y="327.14" width="15.4" height="15.68" fill="#3b3b3b"/>
<rect x="273.4" y="311.76" width="15.4" height="15.68" fill="#272727"/>
<rect x="273.4" y="296.38" width="15.4" height="15.68" fill="#141414"/>
<rect x="273.4" y="281" width="15.4" height="15.68" fill="#000000"/>
<path d="M273.4 480.92H288.8M273.4 465.54H288.8M273.4 450.16H288.8M273.4 434.79H288.8M273.4 419.41H288.8M273.4 404.03H288.8M273.4 388.65H288.8M273.4 373.27H288.8M273.4 357.89H288.8M273.4 342.51H288.8M273.4 327.14H288.8M273.4 311.76H288.8M273.4 296.38H288.8" stroke="#555" stroke-width="0.45" fill="none"/>
<rect x="273.4" y="281" width="15.4" height="215.3" fill="none" stroke="#bbb" stroke-width="0.8"/>
<text x="290.8" y="499.97" font-size="10.2">0</text>
<text x="290.8" y="484.59" font-size="10.2">3</text>
<text x="290.8" y="469.21" font-size="10.2">6</text>
<text x="290.8" y="453.84" font-size="10.2">9</text>
<text x="290.8" y="438.46" font-size="10.2">12</text>
<text x="290.8" y="423.08" font-size="10.2">15</text>
<text x="290.8" y="407.7" font-size="10.2">18</text>
<text x="290.8" y="392.32" font-size="10.2">21</text>
<text x="290.8" y="376.94" font-size="10.2">24</text>
<text x="290.8" y="361.56" font-size="10.2">27</text>
<text x="290.8" y="346.19" font-size="10.2">30</text>
<text x="290.8" y="330.81" font-size="10.2">33</text>
<text x="290.8" y="315.43" font-size="10.2">36</text>
<text x="290.8" y="300.05" font-size="10.2">39</text>
<rect x="594.5" y="485.83" width="16.7" height="10.97" fill="#ffffff"/>
<rect x="594.5" y="475.16" width="16.7" height="10.97" fill="#f4f4f4"/>
<rect x="594.5" y="464.49" width="16.7" height="10.97" fill="#e9e9e9"/>
<rect x="594.5" y="453.82" width="16.7" height="10.97" fill="#dedede"/>
<rect x="594.5" y="443.15" width="16.7" height="10.97" fill="#d3d3d3"/>
<rect x="594.5" y="432.48" width="16.7" height="10.97" fill="#c9c9c9"/>
<rect x="594.5" y="421.81" width="16.7" height="10.97" fill="#bebebe"/>
<rect x="594.5" y="411.14" width="16.7" height="10.97" fill="#b3b3b3"/>
<rect x="594.5" y="400.47" width="16.7" height="10.97" fill="#a8a8a8"/>
<rect x="594.5" y="389.8" width="16.7" height="10.97" fill="#9d9d9d"/>
<rect x="594.5" y="379.13" width="16.7" height="10.97" fill="#929292"/>
<rect x="594.5" y="368.46" width="16.7" height="10.97" fill="#878787"/>
<rect x="594.5" y="357.79" width="16.7" height="10.97" fill="#7c7c7c"/>
<rect x="594.5" y="347.12" width="16.7" height="10.97" fill="#717171"/>
<rect x="594.5" y="336.45" width="16.7" height="10.97" fill="#666666"/>
<rect x="594.5" y="325.78" width="16.7" height="10.97" fill="#5c5c5c"/>
<rect x="594.5" y="315.11" width="16.7" height="10.97" fill="#515151"/>
<rect x="594.5" y="304.44" width="16.7" height="10.97" fill="#464646"/>
<rect x="594.5" y="293.77" width="16.7" height="10.97" fill="#3b3b3b"/>
<rect x="594.5" y="283.1" width="16.7" height="10.97" fill="#303030"/>
<path d="M594.5 485.83H611.2M594.5 475.16H611.2M594.5 464.49H611.2M594.5 453.82H611.2M594.5 443.15H611.2M594.5 432.48H611.2M594.5 421.81H611.2M594.5 411.14H611.2M594.5 400.47H611.2M594.5 389.8H611.2M594.5 379.13H611.2M594.5 368.46H611.2M594.5 357.79H611.2M594.5 347.12H611.2M594.5 336.45H611.2M594.5 325.78H611.2M594.5 315.11H611.2M594.5 304.44H611.2M594.5 293.77H611.2" stroke="#555" stroke-width="0.45" fill="none"/>
<rect x="594.5" y="283.1" width="16.7" height="213.4" fill="none" stroke="#bbb" stroke-width="0.8"/>
<text transform="translate(613.2 498.98) scale(1.3 1)" font-size="6.9">0</text>
<text transform="translate(613.2 488.31) scale(1.3 1)" font-size="6.9">0.1</text>
<text transform="translate(613.2 477.64) scale(1.3 1)" font-size="6.9">0.2</text>
<text transform="translate(613.2 466.97) scale(1.3 1)" font-size="6.9">0.3</text>
<text transform="translate(613.2 456.3) scale(1.3 1)" font-size="6.9">0.4</text>
<text transform="translate(613.2 445.63) scale(1.3 1)" font-size="6.9">0.5</text>
<text transform="translate(613.2 434.96) scale(1.3 1)" font-size="6.9">0.6</text>
<text transform="translate(613.2 424.29) scale(1.3 1)" font-size="6.9">0.7</text>
<text transform="translate(613.2 413.62) scale(1.3 1)" font-size="6.9">0.8</text>
<text transform="translate(613.2 402.95) scale(1.3 1)" font-size="6.9">0.9</text>
<text transform="translate(613.2 392.28) scale(1.3 1)" font-size="6.9">1</text>
<text transform="translate(613.2 381.61) scale(1.3 1)" font-size="6.9">1.1</text>
<text transform="translate(613.2 370.94) scale(1.3 1)" font-size="6.9">1.2</text>
<text transform="translate(613.2 360.27) scale(1.3 1)" font-size="6.9">1.3</text>
<text transform="translate(613.2 349.6) scale(1.3 1)" font-size="6.9">1.4</text>
<text transform="translate(613.2 338.93) scale(1.3 1)" font-size="6.9">1.5</text>
<text transform="translate(613.2 328.26) scale(1.3 1)" font-size="6.9">1.6</text>
<text transform="translate(613.2 317.59) scale(1.3 1)" font-size="6.9">1.7</text>
<text transform="translate(613.2 306.92) scale(1.3 1)" font-size="6.9">1.8</text>
<text transform="translate(613.2 296.25) scale(1.3 1)" font-size="6.9">1.9</text>
</svg>
</body></html>
